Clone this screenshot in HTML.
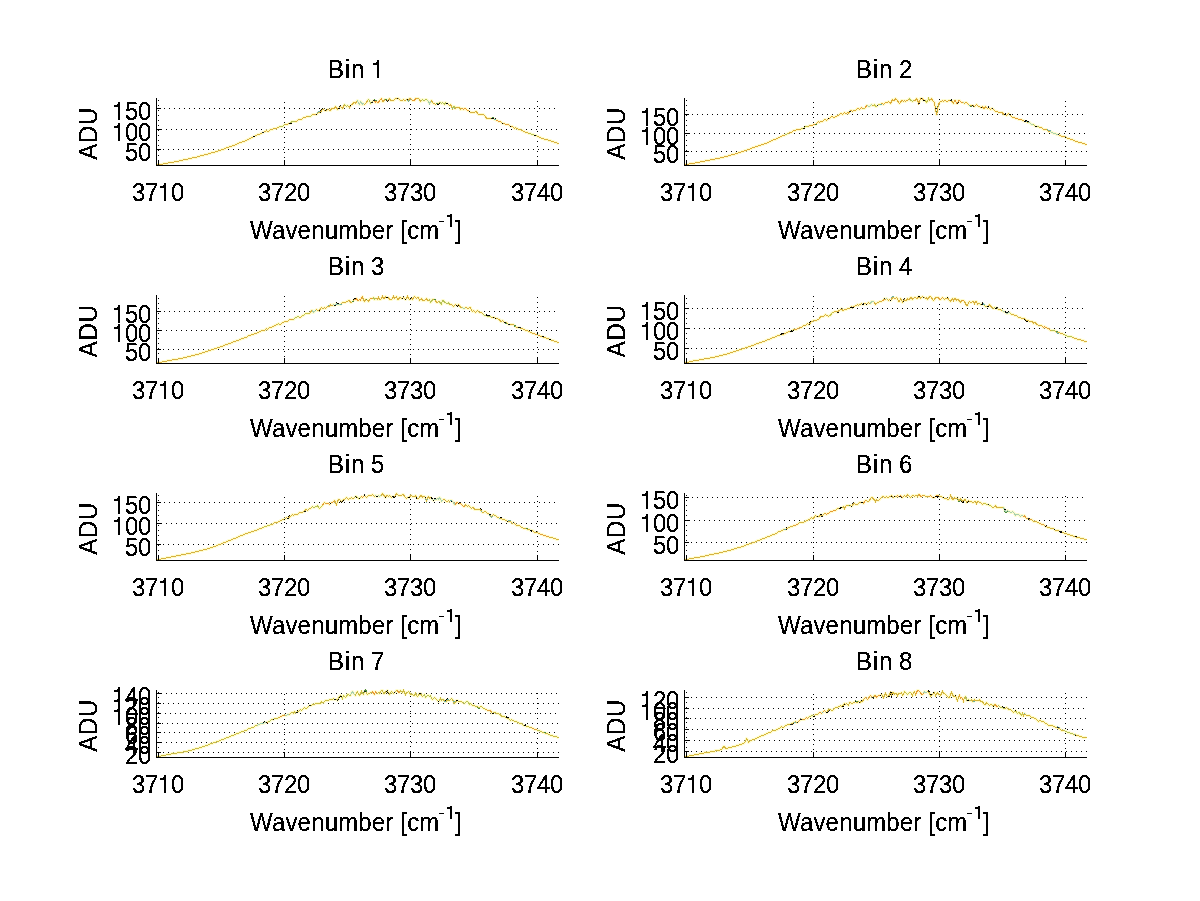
<!DOCTYPE html><html><head><meta charset="utf-8"><title>Bins</title>
<style>html,body{margin:0;padding:0;background:#fff}svg{display:block;will-change:transform}text{font-family:"Liberation Sans",sans-serif;fill:#000;font-size:24px;stroke:#000;stroke-width:.2px}</style></head><body>
<svg width="1200" height="901" viewBox="0 0 1200 901">
<rect width="1200" height="901" fill="#fff"/>
<defs><filter id="th" x="-5%" y="-5%" width="110%" height="110%" color-interpolation-filters="sRGB"><feComponentTransfer><feFuncA type="discrete" tableValues="0 1"/></feComponentTransfer></filter></defs>
<g shape-rendering="crispEdges" stroke="#000" stroke-width="1" stroke-dasharray="1 4" fill="none">
<path d="M158 149.5H559"/>
<path d="M156 129.5H559"/>
<path d="M159 108.5H559"/>
<path d="M158.5 166V99"/>
<path d="M284.5 163V99"/>
<path d="M410.5 165V99"/>
<path d="M537.5 162V99"/>
</g>
<path d="M156.5 164.5 157.5 164.5 158.5 164.5 159.5 164.5 160.5 164.5 161.5 164.5 162.5 164.5 163.5 163.5 164.5 163.5 165.5 163.5 166.5 163.5 167.5 163.5 168.5 162.5 169.5 162.5 170.5 162.5 171.5 162.5 172.5 162.5 173.5 162.5 174.5 161.5 175.5 161.5 176.5 161.5 177.5 161.5 178.5 161.5 179.5 160.5 180.5 160.5 181.5 160.5 182.5 160.5 183.5 159.5 184.5 159.5 185.5 159.5 186.5 159.5 187.5 159.5 188.5 158.5 189.5 158.5 190.5 158.5 191.5 158.5 192.5 157.5 193.5 157.5 194.5 157.5 195.5 157.5 196.5 157.5 197.5 156.5 198.5 156.5 199.5 156.5 200.5 155.5 201.5 155.5 202.5 155.5 203.5 155.5 204.5 154.5 205.5 154.5 206.5 154.5 207.5 154.5 208.5 153.5 209.5 153.5 210.5 153.5 211.5 152.5 212.5 152.5 213.5 152.5 214.5 152.5 215.5 151.5 216.5 151.5 217.5 151.5 218.5 150.5 219.5 150.5 220.5 150.5 221.5 149.5 222.5 149.5 223.5 149.5 224.5 148.5 225.5 148.5 226.5 147.5 227.5 147.5 228.5 147.5 229.5 146.5 230.5 146.5 231.5 146.5 232.5 145.5 233.5 145.5 234.5 145.5 235.5 144.5 236.5 144.5 237.5 143.5 238.5 143.5 239.5 142.5 240.5 142.5 241.5 142.5 242.5 141.5 243.5 141.5 244.5 141.5 245.5 140.5 246.5 140.5 247.5 139.5 248.5 139.5 249.5 138.5 250.5 138.5 251.5 137.5 252.5 137.5 253.5 136.5 254.5 136.5 255.5 135.5 256.5 135.5 257.5 134.5 258.5 134.5 259.5 134.5 260.5 133.5 261.5 133.5 262.5 132.5 263.5 132.5 264.5 131.5 265.5 131.5 266.5 130.5 267.5 131.5 268.5 131.5 269.5 130.5 270.5 129.5 271.5 129.5 272.5 129.5 273.5 128.5 274.5 128.5 275.5 128.5 276.5 128.5 277.5 127.5 278.5 127.5 279.5 126.5 280.5 126.5 281.5 126.5 282.5 126.5 283.5 125.5 284.5 124.5 285.5 124.5 286.5 124.5 287.5 124.5 288.5 123.5 289.5 123.5 290.5 123.5 291.5 121.5 292.5 121.5 293.5 121.5 294.5 121.5 295.5 121.5 296.5 121.5 297.5 120.5 298.5 119.5 299.5 119.5 300.5 119.5 301.5 119.5 302.5 118.5 303.5 117.5 304.5 117.5 305.5 117.5 306.5 116.5 307.5 116.5 308.5 116.5 309.5 116.5 310.5 116.5 311.5 115.5 312.5 114.5 313.5 114.5 314.5 114.5 315.5 114.5 316.5 114.5 317.5 113.5 318.5 112.5 319.5 112.5 320.5 112.5 321.5 110.5 322.5 109.5 323.5 109.5 324.5 110.5 325.5 110.5 326.5 110.5 327.5 109.5 328.5 109.5 329.5 110.5 330.5 110.5 331.5 108.5 332.5 108.5 333.5 108.5 334.5 108.5 335.5 106.5 336.5 107.5 337.5 109.5 338.5 108.5 339.5 107.5 340.5 106.5 341.5 107.5 342.5 108.5 343.5 106.5 344.5 104.5 345.5 105.5 346.5 106.5 347.5 105.5 348.5 106.5 349.5 107.5 350.5 105.5 351.5 104.5 352.5 104.5 353.5 102.5 354.5 102.5 355.5 103.5 356.5 101.5 357.5 100.5 358.5 103.5 359.5 104.5 360.5 101.5 361.5 102.5 362.5 104.5 363.5 103.5 364.5 104.5 365.5 103.5 366.5 102.5 367.5 100.5 368.5 99.5 369.5 100.5 370.5 103.5 371.5 102.5 372.5 101.5 373.5 100.5 374.5 100.5 375.5 102.5 376.5 101.5 377.5 102.5 378.5 102.5 379.5 100.5 380.5 99.5 381.5 98.5 382.5 101.5 383.5 101.5 384.5 99.5 385.5 99.5 386.5 99.5 387.5 100.5 388.5 99.5 389.5 98.5 390.5 100.5 391.5 100.5 392.5 100.5 393.5 100.5 394.5 99.5 395.5 98.5 396.5 98.5 397.5 98.5 398.5 98.5 399.5 99.5 400.5 100.5 401.5 100.5 402.5 100.5 403.5 99.5 404.5 100.5 405.5 100.5 406.5 99.5 407.5 99.5 408.5 100.5 409.5 98.5 410.5 98.5 411.5 99.5 412.5 100.5 413.5 100.5 414.5 100.5 415.5 98.5 416.5 98.5 417.5 98.5 418.5 98.5 419.5 99.5 420.5 101.5 421.5 100.5 422.5 99.5 423.5 100.5 424.5 100.5 425.5 99.5 426.5 99.5 427.5 100.5 428.5 101.5 429.5 103.5 430.5 101.5 431.5 100.5 432.5 102.5 433.5 103.5 434.5 103.5 435.5 104.5 436.5 103.5 437.5 103.5 438.5 103.5 439.5 102.5 440.5 102.5 441.5 103.5 442.5 102.5 443.5 103.5 444.5 104.5 445.5 102.5 446.5 103.5 447.5 103.5 448.5 104.5 449.5 105.5 450.5 104.5 451.5 106.5 452.5 108.5 453.5 106.5 454.5 106.5 455.5 108.5 456.5 107.5 457.5 107.5 458.5 107.5 459.5 107.5 460.5 109.5 461.5 108.5 462.5 108.5 463.5 109.5 464.5 108.5 465.5 108.5 466.5 109.5 467.5 110.5 468.5 110.5 469.5 111.5 470.5 112.5 471.5 112.5 472.5 112.5 473.5 112.5 474.5 112.5 475.5 111.5 476.5 111.5 477.5 113.5 478.5 114.5 479.5 114.5 480.5 114.5 481.5 114.5 482.5 114.5 483.5 114.5 484.5 115.5 485.5 116.5 486.5 118.5 487.5 118.5 488.5 118.5 489.5 118.5 490.5 118.5 491.5 118.5 492.5 118.5 493.5 118.5 494.5 119.5 495.5 119.5 496.5 120.5 497.5 120.5 498.5 121.5 499.5 121.5 500.5 121.5 501.5 122.5 502.5 123.5 503.5 123.5 504.5 123.5 505.5 124.5 506.5 124.5 507.5 124.5 508.5 124.5 509.5 125.5 510.5 126.5 511.5 126.5 512.5 126.5 513.5 127.5 514.5 128.5 515.5 127.5 516.5 128.5 517.5 128.5 518.5 129.5 519.5 129.5 520.5 129.5 521.5 130.5 522.5 130.5 523.5 131.5 524.5 131.5 525.5 132.5 526.5 132.5 527.5 132.5 528.5 133.5 529.5 133.5 530.5 133.5 531.5 134.5 532.5 134.5 533.5 134.5 534.5 135.5 535.5 135.5 536.5 135.5 537.5 136.5 538.5 136.5 539.5 137.5 540.5 137.5 541.5 138.5 542.5 138.5 543.5 138.5 544.5 139.5 545.5 139.5 546.5 139.5 547.5 139.5 548.5 140.5 549.5 140.5 550.5 140.5 551.5 141.5 552.5 141.5 553.5 141.5 554.5 142.5 555.5 142.5 556.5 142.5 557.5 143.5 558.5 143.5" fill="none" stroke="#fffab0" stroke-width="3" stroke-opacity="0.65" stroke-linejoin="round"/>
<g shape-rendering="crispEdges">
<path d="M253.5 136.5 254.5 136.5 255.5 135.5" fill="none" stroke="#4a8a40" stroke-width="1"/>
<path d="M397.5 98.5 398.5 98.5 399.5 99.5" fill="none" stroke="#4a8a40" stroke-width="1"/>
<path d="M469.5 111.5 470.5 112.5 471.5 112.5" fill="none" stroke="#222" stroke-width="1"/>
<path d="M262.5 132.5 263.5 132.5 264.5 131.5" fill="none" stroke="#000" stroke-width="1"/>
<path d="M494.5 118.5 495.5 118.5" fill="none" stroke="#111" stroke-width="1"/>
<path d="M316.5 113.5 317.5 112.5 318.5 111.5 319.5 111.5" fill="none" stroke="#6ab0a8" stroke-width="1"/>
<path d="M436.5 104.5 437.5 104.5 438.5 104.5 439.5 103.5" fill="none" stroke="#000" stroke-width="1"/>
<path d="M452.5 108.5 453.5 106.5 454.5 106.5 455.5 108.5" fill="none" stroke="#222" stroke-width="1"/>
<path d="M338.5 107.5 339.5 106.5 340.5 105.5 341.5 106.5" fill="none" stroke="#222" stroke-width="1"/>
<path d="M289.5 122.5 290.5 122.5" fill="none" stroke="#000" stroke-width="1"/>
<path d="M320.5 111.5 321.5 109.5 322.5 108.5" fill="none" stroke="#111" stroke-width="1"/>
<path d="M446.5 103.5 447.5 103.5 448.5 104.5 449.5 105.5" fill="none" stroke="#111" stroke-width="1"/>
<path d="M491.5 117.5 492.5 117.5 493.5 117.5" fill="none" stroke="#4a8a40" stroke-width="1"/>
<path d="M373.5 99.5 374.5 99.5 375.5 101.5 376.5 100.5" fill="none" stroke="#4a8a40" stroke-width="1"/>
<path d="M492.5 118.5 493.5 118.5 494.5 119.5" fill="none" stroke="#111" stroke-width="1"/>
<path d="M502.5 123.5 503.5 123.5 504.5 123.5" fill="none" stroke="#111" stroke-width="1"/>
<path d="M534.5 135.5 535.5 135.5 536.5 135.5" fill="none" stroke="#000" stroke-width="1"/>
<path d="M350.5 105.5 351.5 104.5 352.5 104.5" fill="none" stroke="#000" stroke-width="1"/>
<path d="M510.5 126.5 511.5 126.5 512.5 126.5 513.5 127.5" fill="none" stroke="#111" stroke-width="1"/>
<path d="M371.5 102.5 372.5 101.5 373.5 100.5" fill="none" stroke="#000" stroke-width="1"/>
<path d="M325.5 109.5 326.5 109.5" fill="none" stroke="#222" stroke-width="1"/>
<path d="M407.5 100.5 408.5 101.5 409.5 99.5 410.5 99.5" fill="none" stroke="#6ab0a8" stroke-width="1"/>
<path d="M290.5 123.5 291.5 121.5" fill="none" stroke="#000" stroke-width="1"/>
<path d="M385.5 100.5 386.5 100.5 387.5 101.5 388.5 100.5" fill="none" stroke="#222" stroke-width="1"/>
<path d="M352.5 104.5 353.5 102.5 354.5 102.5" fill="none" stroke="#6ab0a8" stroke-width="1"/>
<path d="M260.5 133.5 261.5 133.5 262.5 132.5 263.5 132.5" fill="none" stroke="#000" stroke-width="1"/>
<path d="M522.5 130.5 523.5 131.5" fill="none" stroke="#4a8a40" stroke-width="1"/>
<path d="M431.5 100.5 432.5 102.5" fill="none" stroke="#222" stroke-width="1"/>
<path d="M489.5 118.5 490.5 118.5 491.5 118.5 492.5 118.5" fill="none" stroke="#4a8a40" stroke-width="1"/>
<path d="M264.5 131.5 265.5 131.5 266.5 130.5 267.5 131.5" fill="none" stroke="#222" stroke-width="1"/>
</g>
<path d="M156.5 164.5 157.5 164.5 158.5 164.5 159.5 164.5 160.5 164.5 161.5 164.5 162.5 164.5 163.5 163.5 164.5 163.5 165.5 163.5 166.5 163.5 167.5 163.5 168.5 162.5 169.5 162.5 170.5 162.5 171.5 162.5 172.5 162.5 173.5 162.5 174.5 161.5 175.5 161.5 176.5 161.5 177.5 161.5 178.5 161.5 179.5 160.5 180.5 160.5 181.5 160.5 182.5 160.5 183.5 159.5 184.5 159.5 185.5 159.5 186.5 159.5 187.5 159.5 188.5 158.5 189.5 158.5 190.5 158.5 191.5 158.5 192.5 157.5 193.5 157.5 194.5 157.5 195.5 157.5 196.5 157.5 197.5 156.5 198.5 156.5 199.5 156.5 200.5 155.5 201.5 155.5 202.5 155.5 203.5 155.5 204.5 154.5 205.5 154.5 206.5 154.5 207.5 154.5 208.5 153.5 209.5 153.5 210.5 153.5 211.5 152.5 212.5 152.5 213.5 152.5 214.5 152.5 215.5 151.5 216.5 151.5 217.5 151.5 218.5 150.5 219.5 150.5 220.5 150.5 221.5 149.5 222.5 149.5 223.5 149.5 224.5 148.5 225.5 148.5 226.5 147.5 227.5 147.5 228.5 147.5 229.5 146.5 230.5 146.5 231.5 146.5 232.5 145.5 233.5 145.5 234.5 145.5 235.5 144.5 236.5 144.5 237.5 143.5 238.5 143.5 239.5 142.5 240.5 142.5 241.5 142.5 242.5 141.5 243.5 141.5 244.5 141.5 245.5 140.5 246.5 140.5 247.5 139.5 248.5 139.5 249.5 138.5 250.5 138.5 251.5 137.5 252.5 137.5 253.5 136.5 254.5 136.5 255.5 135.5 256.5 135.5 257.5 134.5 258.5 134.5 259.5 134.5 260.5 133.5 261.5 133.5 262.5 132.5 263.5 132.5 264.5 131.5 265.5 131.5 266.5 130.5 267.5 131.5 268.5 131.5 269.5 130.5 270.5 129.5 271.5 129.5 272.5 129.5 273.5 128.5 274.5 128.5 275.5 128.5 276.5 128.5 277.5 127.5 278.5 127.5 279.5 126.5 280.5 126.5 281.5 126.5 282.5 126.5 283.5 125.5 284.5 124.5 285.5 124.5 286.5 124.5 287.5 124.5 288.5 123.5 289.5 123.5 290.5 123.5 291.5 121.5 292.5 121.5 293.5 121.5 294.5 121.5 295.5 121.5 296.5 121.5 297.5 120.5 298.5 119.5 299.5 119.5 300.5 119.5 301.5 119.5 302.5 118.5 303.5 117.5 304.5 117.5 305.5 117.5 306.5 116.5 307.5 116.5 308.5 116.5 309.5 116.5 310.5 116.5 311.5 115.5 312.5 114.5 313.5 114.5 314.5 114.5 315.5 114.5 316.5 114.5 317.5 113.5 318.5 112.5 319.5 112.5 320.5 112.5 321.5 110.5 322.5 109.5 323.5 109.5 324.5 110.5 325.5 110.5 326.5 110.5 327.5 109.5 328.5 109.5 329.5 110.5 330.5 110.5 331.5 108.5 332.5 108.5 333.5 108.5 334.5 108.5 335.5 106.5 336.5 107.5 337.5 109.5 338.5 108.5 339.5 107.5 340.5 106.5 341.5 107.5 342.5 108.5 343.5 106.5 344.5 104.5 345.5 105.5 346.5 106.5 347.5 105.5 348.5 106.5 349.5 107.5 350.5 105.5 351.5 104.5 352.5 104.5 353.5 102.5 354.5 102.5 355.5 103.5 356.5 101.5 357.5 100.5 358.5 103.5 359.5 104.5 360.5 101.5 361.5 102.5 362.5 104.5 363.5 103.5 364.5 104.5 365.5 103.5 366.5 102.5 367.5 100.5 368.5 99.5 369.5 100.5 370.5 103.5 371.5 102.5 372.5 101.5 373.5 100.5 374.5 100.5 375.5 102.5 376.5 101.5 377.5 102.5 378.5 102.5 379.5 100.5 380.5 99.5 381.5 98.5 382.5 101.5 383.5 101.5 384.5 99.5 385.5 99.5 386.5 99.5 387.5 100.5 388.5 99.5 389.5 98.5 390.5 100.5 391.5 100.5 392.5 100.5 393.5 100.5 394.5 99.5 395.5 98.5 396.5 98.5 397.5 98.5 398.5 98.5 399.5 99.5 400.5 100.5 401.5 100.5 402.5 100.5 403.5 99.5 404.5 100.5 405.5 100.5 406.5 99.5 407.5 99.5 408.5 100.5 409.5 98.5 410.5 98.5 411.5 99.5 412.5 100.5 413.5 100.5 414.5 100.5 415.5 98.5 416.5 98.5 417.5 98.5 418.5 98.5 419.5 99.5 420.5 101.5 421.5 100.5 422.5 99.5 423.5 100.5 424.5 100.5 425.5 99.5 426.5 99.5 427.5 100.5 428.5 101.5 429.5 103.5 430.5 101.5 431.5 100.5 432.5 102.5 433.5 103.5 434.5 103.5 435.5 104.5 436.5 103.5 437.5 103.5 438.5 103.5 439.5 102.5 440.5 102.5 441.5 103.5 442.5 102.5 443.5 103.5 444.5 104.5 445.5 102.5 446.5 103.5 447.5 103.5 448.5 104.5 449.5 105.5 450.5 104.5 451.5 106.5 452.5 108.5 453.5 106.5 454.5 106.5 455.5 108.5 456.5 107.5 457.5 107.5 458.5 107.5 459.5 107.5 460.5 109.5 461.5 108.5 462.5 108.5 463.5 109.5 464.5 108.5 465.5 108.5 466.5 109.5 467.5 110.5 468.5 110.5 469.5 111.5 470.5 112.5 471.5 112.5 472.5 112.5 473.5 112.5 474.5 112.5 475.5 111.5 476.5 111.5 477.5 113.5 478.5 114.5 479.5 114.5 480.5 114.5 481.5 114.5 482.5 114.5 483.5 114.5 484.5 115.5 485.5 116.5 486.5 118.5 487.5 118.5 488.5 118.5 489.5 118.5 490.5 118.5 491.5 118.5 492.5 118.5 493.5 118.5 494.5 119.5 495.5 119.5 496.5 120.5 497.5 120.5 498.5 121.5 499.5 121.5 500.5 121.5 501.5 122.5 502.5 123.5 503.5 123.5 504.5 123.5 505.5 124.5 506.5 124.5 507.5 124.5 508.5 124.5 509.5 125.5 510.5 126.5 511.5 126.5 512.5 126.5 513.5 127.5 514.5 128.5 515.5 127.5 516.5 128.5 517.5 128.5 518.5 129.5 519.5 129.5 520.5 129.5 521.5 130.5 522.5 130.5 523.5 131.5 524.5 131.5 525.5 132.5 526.5 132.5 527.5 132.5 528.5 133.5 529.5 133.5 530.5 133.5 531.5 134.5 532.5 134.5 533.5 134.5 534.5 135.5 535.5 135.5 536.5 135.5 537.5 136.5 538.5 136.5 539.5 137.5 540.5 137.5 541.5 138.5 542.5 138.5 543.5 138.5 544.5 139.5 545.5 139.5 546.5 139.5 547.5 139.5 548.5 140.5 549.5 140.5 550.5 140.5 551.5 141.5 552.5 141.5 553.5 141.5 554.5 142.5 555.5 142.5 556.5 142.5 557.5 143.5 558.5 143.5" fill="none" stroke="#d8b040" stroke-width="1" shape-rendering="crispEdges"/>
<path d="M308.5 116.5 309.5 116.5 310.5 116.5 311.5 115.5" fill="none" stroke="#b7c258" stroke-width="1" shape-rendering="crispEdges"/>
<path d="M461.5 108.5 462.5 108.5 463.5 109.5 464.5 108.5 465.5 108.5 466.5 109.5 467.5 110.5 468.5 110.5 469.5 111.5 470.5 112.5" fill="none" stroke="#e89a36" stroke-width="1" shape-rendering="crispEdges"/>
<path d="M503.5 123.5 504.5 123.5 505.5 124.5 506.5 124.5 507.5 124.5 508.5 124.5 509.5 125.5 510.5 126.5 511.5 126.5" fill="none" stroke="#e2a040" stroke-width="1" shape-rendering="crispEdges"/>
<path d="M367.5 100.5 368.5 99.5 369.5 100.5 370.5 103.5 371.5 102.5 372.5 101.5 373.5 100.5 374.5 100.5 375.5 102.5" fill="none" stroke="#b7c258" stroke-width="1" shape-rendering="crispEdges"/>
<path d="M495.5 119.5 496.5 120.5 497.5 120.5 498.5 121.5 499.5 121.5 500.5 121.5 501.5 122.5" fill="none" stroke="#e89a36" stroke-width="1" shape-rendering="crispEdges"/>
<path d="M410.5 98.5 411.5 99.5 412.5 100.5 413.5 100.5 414.5 100.5 415.5 98.5" fill="none" stroke="#e89a36" stroke-width="1" shape-rendering="crispEdges"/>
<path d="M344.5 104.5 345.5 105.5 346.5 106.5 347.5 105.5 348.5 106.5" fill="none" stroke="#b7c258" stroke-width="1" shape-rendering="crispEdges"/>
<path d="M438.5 103.5 439.5 102.5 440.5 102.5 441.5 103.5 442.5 102.5 443.5 103.5 444.5 104.5 445.5 102.5" fill="none" stroke="#b7c258" stroke-width="1" shape-rendering="crispEdges"/>
<path d="M357.5 100.5 358.5 103.5 359.5 104.5 360.5 101.5 361.5 102.5 362.5 104.5 363.5 103.5 364.5 104.5" fill="none" stroke="#a8d0b0" stroke-width="1" shape-rendering="crispEdges"/>
<path d="M528.5 133.5 529.5 133.5 530.5 133.5 531.5 134.5 532.5 134.5 533.5 134.5 534.5 135.5 535.5 135.5 536.5 135.5" fill="none" stroke="#b7c258" stroke-width="1" shape-rendering="crispEdges"/>
<path d="M374.5 100.5 375.5 102.5 376.5 101.5 377.5 102.5 378.5 102.5 379.5 100.5 380.5 99.5 381.5 98.5 382.5 101.5" fill="none" stroke="#e89a36" stroke-width="1" shape-rendering="crispEdges"/>
<path d="M425.5 99.5 426.5 99.5 427.5 100.5 428.5 101.5 429.5 103.5 430.5 101.5" fill="none" stroke="#a8d0b0" stroke-width="1" shape-rendering="crispEdges"/>
<path d="M420.5 101.5 421.5 100.5 422.5 99.5 423.5 100.5 424.5 100.5 425.5 99.5 426.5 99.5 427.5 100.5" fill="none" stroke="#b7c258" stroke-width="1" shape-rendering="crispEdges"/>
<path d="M288.5 123.5 289.5 123.5 290.5 123.5 291.5 121.5 292.5 121.5 293.5 121.5 294.5 121.5" fill="none" stroke="#b7c258" stroke-width="1" shape-rendering="crispEdges"/>
<path d="M278.5 127.5 279.5 126.5 280.5 126.5 281.5 126.5 282.5 126.5 283.5 125.5 284.5 124.5" fill="none" stroke="#b7c258" stroke-width="1" shape-rendering="crispEdges"/>
<path d="M452.5 108.5 453.5 106.5 454.5 106.5 455.5 108.5" fill="none" stroke="#b7c258" stroke-width="1" shape-rendering="crispEdges"/>
<g shape-rendering="crispEdges">
<rect x="253" y="136" width="2" height="1" fill="#000"/>
<rect x="397" y="98" width="1" height="1" fill="#111"/>
<rect x="469" y="111" width="1" height="1" fill="#000"/>
<rect x="262" y="132" width="2" height="1" fill="#222"/>
<rect x="494" y="119" width="2" height="1" fill="#6ab0a8"/>
<rect x="316" y="114" width="1" height="1" fill="#000"/>
<rect x="436" y="103" width="2" height="1" fill="#4a8a40"/>
<rect x="452" y="108" width="1" height="1" fill="#6ab0a8"/>
<rect x="338" y="108" width="2" height="1" fill="#000"/>
<rect x="289" y="123" width="1" height="1" fill="#000"/>
<rect x="320" y="112" width="1" height="1" fill="#000"/>
<rect x="446" y="103" width="2" height="1" fill="#000"/>
<rect x="491" y="118" width="2" height="1" fill="#222"/>
<rect x="373" y="100" width="2" height="1" fill="#222"/>
<rect x="492" y="118" width="2" height="1" fill="#000"/>
<rect x="502" y="123" width="1" height="1" fill="#000"/>
<rect x="534" y="135" width="2" height="1" fill="#000"/>
<rect x="350" y="105" width="1" height="1" fill="#000"/>
<rect x="510" y="126" width="1" height="1" fill="#000"/>
<rect x="371" y="102" width="2" height="1" fill="#222"/>
<rect x="325" y="110" width="1" height="1" fill="#111"/>
<rect x="407" y="99" width="1" height="1" fill="#000"/>
<rect x="290" y="123" width="2" height="1" fill="#000"/>
<rect x="385" y="99" width="2" height="1" fill="#4a8a40"/>
</g>
<g shape-rendering="crispEdges" fill="#000">
<rect x="156" y="98" width="1" height="68"/>
<rect x="156" y="165" width="403" height="1"/>
<rect x="156" y="108" width="5" height="1"/>
<rect x="156" y="129" width="5" height="1"/>
<rect x="156" y="149" width="5" height="1"/>
<rect x="158" y="160" width="1" height="5"/>
<rect x="284" y="160" width="1" height="5"/>
<rect x="410" y="160" width="1" height="5"/>
<rect x="537" y="160" width="1" height="5"/>
</g>
<g shape-rendering="crispEdges" stroke="#000" stroke-width="1" stroke-dasharray="1 4" fill="none">
<path d="M686 151.5H1087"/>
<path d="M684 133.5H1087"/>
<path d="M687 114.5H1087"/>
<path d="M686.5 166V99"/>
<path d="M813.5 163V99"/>
<path d="M939.5 165V99"/>
<path d="M1065.5 162V99"/>
</g>
<path d="M684.5 164.5 685.5 164.5 686.5 164.5 687.5 164.5 688.5 164.5 689.5 163.5 690.5 163.5 691.5 163.5 692.5 163.5 693.5 163.5 694.5 163.5 695.5 162.5 696.5 162.5 697.5 162.5 698.5 162.5 699.5 162.5 700.5 161.5 701.5 161.5 702.5 161.5 703.5 161.5 704.5 161.5 705.5 160.5 706.5 160.5 707.5 160.5 708.5 160.5 709.5 160.5 710.5 159.5 711.5 159.5 712.5 159.5 713.5 159.5 714.5 159.5 715.5 158.5 716.5 158.5 717.5 158.5 718.5 158.5 719.5 158.5 720.5 157.5 721.5 157.5 722.5 157.5 723.5 157.5 724.5 156.5 725.5 156.5 726.5 156.5 727.5 156.5 728.5 155.5 729.5 155.5 730.5 155.5 731.5 154.5 732.5 154.5 733.5 154.5 734.5 154.5 735.5 153.5 736.5 153.5 737.5 153.5 738.5 152.5 739.5 152.5 740.5 152.5 741.5 151.5 742.5 151.5 743.5 151.5 744.5 150.5 745.5 150.5 746.5 150.5 747.5 149.5 748.5 149.5 749.5 149.5 750.5 148.5 751.5 148.5 752.5 147.5 753.5 147.5 754.5 147.5 755.5 146.5 756.5 146.5 757.5 146.5 758.5 145.5 759.5 145.5 760.5 145.5 761.5 144.5 762.5 144.5 763.5 144.5 764.5 143.5 765.5 143.5 766.5 143.5 767.5 142.5 768.5 142.5 769.5 141.5 770.5 141.5 771.5 140.5 772.5 140.5 773.5 139.5 774.5 139.5 775.5 139.5 776.5 138.5 777.5 138.5 778.5 137.5 779.5 137.5 780.5 136.5 781.5 136.5 782.5 135.5 783.5 135.5 784.5 135.5 785.5 134.5 786.5 134.5 787.5 133.5 788.5 133.5 789.5 132.5 790.5 132.5 791.5 132.5 792.5 131.5 793.5 130.5 794.5 130.5 795.5 130.5 796.5 129.5 797.5 129.5 798.5 129.5 799.5 129.5 800.5 129.5 801.5 128.5 802.5 128.5 803.5 128.5 804.5 127.5 805.5 126.5 806.5 126.5 807.5 126.5 808.5 126.5 809.5 125.5 810.5 125.5 811.5 125.5 812.5 125.5 813.5 124.5 814.5 124.5 815.5 124.5 816.5 123.5 817.5 122.5 818.5 121.5 819.5 122.5 820.5 121.5 821.5 121.5 822.5 121.5 823.5 120.5 824.5 119.5 825.5 119.5 826.5 120.5 827.5 119.5 828.5 118.5 829.5 118.5 830.5 117.5 831.5 116.5 832.5 116.5 833.5 117.5 834.5 117.5 835.5 116.5 836.5 116.5 837.5 115.5 838.5 115.5 839.5 114.5 840.5 113.5 841.5 113.5 842.5 114.5 843.5 113.5 844.5 112.5 845.5 113.5 846.5 113.5 847.5 112.5 848.5 113.5 849.5 111.5 850.5 110.5 851.5 110.5 852.5 111.5 853.5 110.5 854.5 110.5 855.5 110.5 856.5 109.5 857.5 108.5 858.5 108.5 859.5 109.5 860.5 108.5 861.5 107.5 862.5 108.5 863.5 108.5 864.5 108.5 865.5 107.5 866.5 105.5 867.5 105.5 868.5 106.5 869.5 106.5 870.5 105.5 871.5 104.5 872.5 105.5 873.5 105.5 874.5 104.5 875.5 106.5 876.5 106.5 877.5 105.5 878.5 104.5 879.5 104.5 880.5 104.5 881.5 103.5 882.5 103.5 883.5 104.5 884.5 103.5 885.5 102.5 886.5 102.5 887.5 102.5 888.5 101.5 889.5 102.5 890.5 103.5 891.5 101.5 892.5 99.5 893.5 100.5 894.5 100.5 895.5 98.5 896.5 99.5 897.5 100.5 898.5 102.5 899.5 103.5 900.5 102.5 901.5 100.5 902.5 100.5 903.5 101.5 904.5 100.5 905.5 101.5 906.5 100.5 907.5 100.5 908.5 99.5 909.5 98.5 910.5 100.5 911.5 100.5 912.5 101.5 913.5 100.5 914.5 100.5 915.5 100.5 916.5 98.5 917.5 99.5 918.5 103.5 919.5 101.5 920.5 98.5 921.5 98.5 922.5 98.5 923.5 100.5 924.5 100.5 925.5 100.5 926.5 102.5 927.5 101.5 928.5 98.5 929.5 100.5 930.5 99.5 931.5 98.5 932.5 100.5 933.5 101.5 934.5 102.5 935.5 108.5 936.5 114.5 937.5 110.5 938.5 104.5 939.5 102.5 940.5 101.5 941.5 101.5 942.5 100.5 943.5 101.5 944.5 100.5 945.5 100.5 946.5 101.5 947.5 101.5 948.5 100.5 949.5 100.5 950.5 100.5 951.5 100.5 952.5 102.5 953.5 103.5 954.5 100.5 955.5 100.5 956.5 103.5 957.5 103.5 958.5 100.5 959.5 100.5 960.5 101.5 961.5 102.5 962.5 102.5 963.5 102.5 964.5 103.5 965.5 102.5 966.5 102.5 967.5 103.5 968.5 104.5 969.5 105.5 970.5 105.5 971.5 105.5 972.5 105.5 973.5 105.5 974.5 106.5 975.5 105.5 976.5 104.5 977.5 105.5 978.5 106.5 979.5 106.5 980.5 107.5 981.5 107.5 982.5 106.5 983.5 108.5 984.5 108.5 985.5 106.5 986.5 107.5 987.5 108.5 988.5 107.5 989.5 108.5 990.5 109.5 991.5 108.5 992.5 108.5 993.5 109.5 994.5 110.5 995.5 111.5 996.5 111.5 997.5 111.5 998.5 112.5 999.5 112.5 1000.5 112.5 1001.5 112.5 1002.5 112.5 1003.5 114.5 1004.5 114.5 1005.5 114.5 1006.5 115.5 1007.5 114.5 1008.5 113.5 1009.5 114.5 1010.5 115.5 1011.5 116.5 1012.5 117.5 1013.5 117.5 1014.5 117.5 1015.5 118.5 1016.5 118.5 1017.5 118.5 1018.5 119.5 1019.5 119.5 1020.5 119.5 1021.5 119.5 1022.5 120.5 1023.5 120.5 1024.5 121.5 1025.5 121.5 1026.5 121.5 1027.5 122.5 1028.5 122.5 1029.5 122.5 1030.5 123.5 1031.5 124.5 1032.5 124.5 1033.5 124.5 1034.5 125.5 1035.5 126.5 1036.5 126.5 1037.5 126.5 1038.5 126.5 1039.5 127.5 1040.5 127.5 1041.5 127.5 1042.5 128.5 1043.5 129.5 1044.5 129.5 1045.5 129.5 1046.5 129.5 1047.5 130.5 1048.5 131.5 1049.5 131.5 1050.5 131.5 1051.5 132.5 1052.5 132.5 1053.5 133.5 1054.5 133.5 1055.5 133.5 1056.5 134.5 1057.5 134.5 1058.5 134.5 1059.5 135.5 1060.5 135.5 1061.5 136.5 1062.5 136.5 1063.5 136.5 1064.5 136.5 1065.5 137.5 1066.5 137.5 1067.5 138.5 1068.5 138.5 1069.5 138.5 1070.5 139.5 1071.5 139.5 1072.5 139.5 1073.5 140.5 1074.5 140.5 1075.5 141.5 1076.5 141.5 1077.5 141.5 1078.5 142.5 1079.5 142.5 1080.5 142.5 1081.5 142.5 1082.5 143.5 1083.5 143.5 1084.5 143.5 1085.5 144.5 1086.5 144.5" fill="none" stroke="#fffab0" stroke-width="3" stroke-opacity="0.65" stroke-linejoin="round"/>
<g shape-rendering="crispEdges">
<path d="M1004.5 113.5 1005.5 113.5" fill="none" stroke="#000" stroke-width="1"/>
<path d="M918.5 103.5 919.5 101.5" fill="none" stroke="#4a8a40" stroke-width="1"/>
<path d="M935.5 107.5 936.5 113.5 937.5 109.5 938.5 103.5" fill="none" stroke="#4a8a40" stroke-width="1"/>
<path d="M992.5 108.5 993.5 109.5 994.5 110.5 995.5 111.5" fill="none" stroke="#4a8a40" stroke-width="1"/>
<path d="M923.5 100.5 924.5 100.5" fill="none" stroke="#222" stroke-width="1"/>
<path d="M988.5 106.5 989.5 107.5" fill="none" stroke="#222" stroke-width="1"/>
<path d="M972.5 106.5 973.5 106.5" fill="none" stroke="#222" stroke-width="1"/>
<path d="M815.5 124.5 816.5 123.5 817.5 122.5 818.5 121.5" fill="none" stroke="#4a8a40" stroke-width="1"/>
<path d="M1024.5 120.5 1025.5 120.5 1026.5 120.5 1027.5 121.5" fill="none" stroke="#000" stroke-width="1"/>
<path d="M849.5 111.5 850.5 110.5" fill="none" stroke="#000" stroke-width="1"/>
<path d="M880.5 105.5 881.5 104.5" fill="none" stroke="#4a8a40" stroke-width="1"/>
<path d="M950.5 99.5 951.5 99.5" fill="none" stroke="#111" stroke-width="1"/>
<path d="M981.5 107.5 982.5 106.5 983.5 108.5 984.5 108.5" fill="none" stroke="#000" stroke-width="1"/>
<path d="M1035.5 126.5 1036.5 126.5 1037.5 126.5 1038.5 126.5" fill="none" stroke="#222" stroke-width="1"/>
<path d="M877.5 105.5 878.5 104.5 879.5 104.5 880.5 104.5" fill="none" stroke="#000" stroke-width="1"/>
<path d="M1026.5 120.5 1027.5 121.5 1028.5 121.5" fill="none" stroke="#000" stroke-width="1"/>
<path d="M1009.5 114.5 1010.5 115.5 1011.5 116.5" fill="none" stroke="#222" stroke-width="1"/>
<path d="M803.5 127.5 804.5 126.5" fill="none" stroke="#000" stroke-width="1"/>
<path d="M969.5 106.5 970.5 106.5 971.5 106.5" fill="none" stroke="#4a8a40" stroke-width="1"/>
<path d="M957.5 104.5 958.5 101.5" fill="none" stroke="#222" stroke-width="1"/>
<path d="M921.5 98.5 922.5 98.5 923.5 100.5" fill="none" stroke="#222" stroke-width="1"/>
<path d="M1058.5 134.5 1059.5 135.5 1060.5 135.5" fill="none" stroke="#000" stroke-width="1"/>
<path d="M1065.5 137.5 1066.5 137.5 1067.5 138.5" fill="none" stroke="#111" stroke-width="1"/>
<path d="M828.5 118.5 829.5 118.5 830.5 117.5" fill="none" stroke="#000" stroke-width="1"/>
<path d="M1030.5 123.5 1031.5 124.5 1032.5 124.5" fill="none" stroke="#000" stroke-width="1"/>
<path d="M1047.5 129.5 1048.5 130.5 1049.5 130.5 1050.5 130.5" fill="none" stroke="#6ab0a8" stroke-width="1"/>
<path d="M926.5 102.5 927.5 101.5 928.5 98.5 929.5 100.5" fill="none" stroke="#000" stroke-width="1"/>
<path d="M965.5 102.5 966.5 102.5" fill="none" stroke="#000" stroke-width="1"/>
<path d="M910.5 100.5 911.5 100.5 912.5 101.5" fill="none" stroke="#6ab0a8" stroke-width="1"/>
<path d="M1018.5 119.5 1019.5 119.5 1020.5 119.5" fill="none" stroke="#111" stroke-width="1"/>
</g>
<path d="M684.5 164.5 685.5 164.5 686.5 164.5 687.5 164.5 688.5 164.5 689.5 163.5 690.5 163.5 691.5 163.5 692.5 163.5 693.5 163.5 694.5 163.5 695.5 162.5 696.5 162.5 697.5 162.5 698.5 162.5 699.5 162.5 700.5 161.5 701.5 161.5 702.5 161.5 703.5 161.5 704.5 161.5 705.5 160.5 706.5 160.5 707.5 160.5 708.5 160.5 709.5 160.5 710.5 159.5 711.5 159.5 712.5 159.5 713.5 159.5 714.5 159.5 715.5 158.5 716.5 158.5 717.5 158.5 718.5 158.5 719.5 158.5 720.5 157.5 721.5 157.5 722.5 157.5 723.5 157.5 724.5 156.5 725.5 156.5 726.5 156.5 727.5 156.5 728.5 155.5 729.5 155.5 730.5 155.5 731.5 154.5 732.5 154.5 733.5 154.5 734.5 154.5 735.5 153.5 736.5 153.5 737.5 153.5 738.5 152.5 739.5 152.5 740.5 152.5 741.5 151.5 742.5 151.5 743.5 151.5 744.5 150.5 745.5 150.5 746.5 150.5 747.5 149.5 748.5 149.5 749.5 149.5 750.5 148.5 751.5 148.5 752.5 147.5 753.5 147.5 754.5 147.5 755.5 146.5 756.5 146.5 757.5 146.5 758.5 145.5 759.5 145.5 760.5 145.5 761.5 144.5 762.5 144.5 763.5 144.5 764.5 143.5 765.5 143.5 766.5 143.5 767.5 142.5 768.5 142.5 769.5 141.5 770.5 141.5 771.5 140.5 772.5 140.5 773.5 139.5 774.5 139.5 775.5 139.5 776.5 138.5 777.5 138.5 778.5 137.5 779.5 137.5 780.5 136.5 781.5 136.5 782.5 135.5 783.5 135.5 784.5 135.5 785.5 134.5 786.5 134.5 787.5 133.5 788.5 133.5 789.5 132.5 790.5 132.5 791.5 132.5 792.5 131.5 793.5 130.5 794.5 130.5 795.5 130.5 796.5 129.5 797.5 129.5 798.5 129.5 799.5 129.5 800.5 129.5 801.5 128.5 802.5 128.5 803.5 128.5 804.5 127.5 805.5 126.5 806.5 126.5 807.5 126.5 808.5 126.5 809.5 125.5 810.5 125.5 811.5 125.5 812.5 125.5 813.5 124.5 814.5 124.5 815.5 124.5 816.5 123.5 817.5 122.5 818.5 121.5 819.5 122.5 820.5 121.5 821.5 121.5 822.5 121.5 823.5 120.5 824.5 119.5 825.5 119.5 826.5 120.5 827.5 119.5 828.5 118.5 829.5 118.5 830.5 117.5 831.5 116.5 832.5 116.5 833.5 117.5 834.5 117.5 835.5 116.5 836.5 116.5 837.5 115.5 838.5 115.5 839.5 114.5 840.5 113.5 841.5 113.5 842.5 114.5 843.5 113.5 844.5 112.5 845.5 113.5 846.5 113.5 847.5 112.5 848.5 113.5 849.5 111.5 850.5 110.5 851.5 110.5 852.5 111.5 853.5 110.5 854.5 110.5 855.5 110.5 856.5 109.5 857.5 108.5 858.5 108.5 859.5 109.5 860.5 108.5 861.5 107.5 862.5 108.5 863.5 108.5 864.5 108.5 865.5 107.5 866.5 105.5 867.5 105.5 868.5 106.5 869.5 106.5 870.5 105.5 871.5 104.5 872.5 105.5 873.5 105.5 874.5 104.5 875.5 106.5 876.5 106.5 877.5 105.5 878.5 104.5 879.5 104.5 880.5 104.5 881.5 103.5 882.5 103.5 883.5 104.5 884.5 103.5 885.5 102.5 886.5 102.5 887.5 102.5 888.5 101.5 889.5 102.5 890.5 103.5 891.5 101.5 892.5 99.5 893.5 100.5 894.5 100.5 895.5 98.5 896.5 99.5 897.5 100.5 898.5 102.5 899.5 103.5 900.5 102.5 901.5 100.5 902.5 100.5 903.5 101.5 904.5 100.5 905.5 101.5 906.5 100.5 907.5 100.5 908.5 99.5 909.5 98.5 910.5 100.5 911.5 100.5 912.5 101.5 913.5 100.5 914.5 100.5 915.5 100.5 916.5 98.5 917.5 99.5 918.5 103.5 919.5 101.5 920.5 98.5 921.5 98.5 922.5 98.5 923.5 100.5 924.5 100.5 925.5 100.5 926.5 102.5 927.5 101.5 928.5 98.5 929.5 100.5 930.5 99.5 931.5 98.5 932.5 100.5 933.5 101.5 934.5 102.5 935.5 108.5 936.5 114.5 937.5 110.5 938.5 104.5 939.5 102.5 940.5 101.5 941.5 101.5 942.5 100.5 943.5 101.5 944.5 100.5 945.5 100.5 946.5 101.5 947.5 101.5 948.5 100.5 949.5 100.5 950.5 100.5 951.5 100.5 952.5 102.5 953.5 103.5 954.5 100.5 955.5 100.5 956.5 103.5 957.5 103.5 958.5 100.5 959.5 100.5 960.5 101.5 961.5 102.5 962.5 102.5 963.5 102.5 964.5 103.5 965.5 102.5 966.5 102.5 967.5 103.5 968.5 104.5 969.5 105.5 970.5 105.5 971.5 105.5 972.5 105.5 973.5 105.5 974.5 106.5 975.5 105.5 976.5 104.5 977.5 105.5 978.5 106.5 979.5 106.5 980.5 107.5 981.5 107.5 982.5 106.5 983.5 108.5 984.5 108.5 985.5 106.5 986.5 107.5 987.5 108.5 988.5 107.5 989.5 108.5 990.5 109.5 991.5 108.5 992.5 108.5 993.5 109.5 994.5 110.5 995.5 111.5 996.5 111.5 997.5 111.5 998.5 112.5 999.5 112.5 1000.5 112.5 1001.5 112.5 1002.5 112.5 1003.5 114.5 1004.5 114.5 1005.5 114.5 1006.5 115.5 1007.5 114.5 1008.5 113.5 1009.5 114.5 1010.5 115.5 1011.5 116.5 1012.5 117.5 1013.5 117.5 1014.5 117.5 1015.5 118.5 1016.5 118.5 1017.5 118.5 1018.5 119.5 1019.5 119.5 1020.5 119.5 1021.5 119.5 1022.5 120.5 1023.5 120.5 1024.5 121.5 1025.5 121.5 1026.5 121.5 1027.5 122.5 1028.5 122.5 1029.5 122.5 1030.5 123.5 1031.5 124.5 1032.5 124.5 1033.5 124.5 1034.5 125.5 1035.5 126.5 1036.5 126.5 1037.5 126.5 1038.5 126.5 1039.5 127.5 1040.5 127.5 1041.5 127.5 1042.5 128.5 1043.5 129.5 1044.5 129.5 1045.5 129.5 1046.5 129.5 1047.5 130.5 1048.5 131.5 1049.5 131.5 1050.5 131.5 1051.5 132.5 1052.5 132.5 1053.5 133.5 1054.5 133.5 1055.5 133.5 1056.5 134.5 1057.5 134.5 1058.5 134.5 1059.5 135.5 1060.5 135.5 1061.5 136.5 1062.5 136.5 1063.5 136.5 1064.5 136.5 1065.5 137.5 1066.5 137.5 1067.5 138.5 1068.5 138.5 1069.5 138.5 1070.5 139.5 1071.5 139.5 1072.5 139.5 1073.5 140.5 1074.5 140.5 1075.5 141.5 1076.5 141.5 1077.5 141.5 1078.5 142.5 1079.5 142.5 1080.5 142.5 1081.5 142.5 1082.5 143.5 1083.5 143.5 1084.5 143.5 1085.5 144.5 1086.5 144.5" fill="none" stroke="#dcaa3a" stroke-width="1" shape-rendering="crispEdges"/>
<path d="M1027.5 122.5 1028.5 122.5 1029.5 122.5 1030.5 123.5 1031.5 124.5 1032.5 124.5 1033.5 124.5 1034.5 125.5 1035.5 126.5 1036.5 126.5" fill="none" stroke="#a8d0b0" stroke-width="1" shape-rendering="crispEdges"/>
<path d="M811.5 125.5 812.5 125.5 813.5 124.5 814.5 124.5 815.5 124.5 816.5 123.5" fill="none" stroke="#e89a36" stroke-width="1" shape-rendering="crispEdges"/>
<path d="M826.5 120.5 827.5 119.5 828.5 118.5 829.5 118.5" fill="none" stroke="#e2a040" stroke-width="1" shape-rendering="crispEdges"/>
<path d="M872.5 105.5 873.5 105.5 874.5 104.5 875.5 106.5 876.5 106.5 877.5 105.5 878.5 104.5 879.5 104.5 880.5 104.5" fill="none" stroke="#c9c64e" stroke-width="1" shape-rendering="crispEdges"/>
<path d="M957.5 103.5 958.5 100.5 959.5 100.5 960.5 101.5 961.5 102.5 962.5 102.5 963.5 102.5 964.5 103.5" fill="none" stroke="#a8d0b0" stroke-width="1" shape-rendering="crispEdges"/>
<path d="M1014.5 117.5 1015.5 118.5 1016.5 118.5 1017.5 118.5 1018.5 119.5 1019.5 119.5 1020.5 119.5 1021.5 119.5 1022.5 120.5" fill="none" stroke="#e89a36" stroke-width="1" shape-rendering="crispEdges"/>
<path d="M800.5 129.5 801.5 128.5 802.5 128.5 803.5 128.5 804.5 127.5 805.5 126.5 806.5 126.5 807.5 126.5" fill="none" stroke="#c9c64e" stroke-width="1" shape-rendering="crispEdges"/>
<path d="M859.5 109.5 860.5 108.5 861.5 107.5 862.5 108.5 863.5 108.5 864.5 108.5 865.5 107.5 866.5 105.5 867.5 105.5" fill="none" stroke="#e89a36" stroke-width="1" shape-rendering="crispEdges"/>
<path d="M1033.5 124.5 1034.5 125.5 1035.5 126.5 1036.5 126.5 1037.5 126.5 1038.5 126.5" fill="none" stroke="#b7c258" stroke-width="1" shape-rendering="crispEdges"/>
<path d="M908.5 99.5 909.5 98.5 910.5 100.5 911.5 100.5 912.5 101.5 913.5 100.5" fill="none" stroke="#b7c258" stroke-width="1" shape-rendering="crispEdges"/>
<path d="M866.5 105.5 867.5 105.5 868.5 106.5 869.5 106.5 870.5 105.5 871.5 104.5 872.5 105.5" fill="none" stroke="#a8d0b0" stroke-width="1" shape-rendering="crispEdges"/>
<path d="M955.5 100.5 956.5 103.5 957.5 103.5 958.5 100.5 959.5 100.5 960.5 101.5 961.5 102.5 962.5 102.5" fill="none" stroke="#e89a36" stroke-width="1" shape-rendering="crispEdges"/>
<path d="M862.5 108.5 863.5 108.5 864.5 108.5" fill="none" stroke="#c9c64e" stroke-width="1" shape-rendering="crispEdges"/>
<path d="M1049.5 131.5 1050.5 131.5 1051.5 132.5 1052.5 132.5 1053.5 133.5 1054.5 133.5 1055.5 133.5 1056.5 134.5 1057.5 134.5 1058.5 134.5" fill="none" stroke="#a8d0b0" stroke-width="1" shape-rendering="crispEdges"/>
<path d="M784.5 135.5 785.5 134.5 786.5 134.5 787.5 133.5" fill="none" stroke="#b7c258" stroke-width="1" shape-rendering="crispEdges"/>
<path d="M925.5 100.5 926.5 102.5 927.5 101.5 928.5 98.5 929.5 100.5" fill="none" stroke="#c9c64e" stroke-width="1" shape-rendering="crispEdges"/>
<g shape-rendering="crispEdges">
<rect x="1004" y="114" width="2" height="1" fill="#000"/>
<rect x="918" y="103" width="2" height="1" fill="#222"/>
<rect x="935" y="108" width="2" height="1" fill="#222"/>
<rect x="992" y="108" width="1" height="1" fill="#111"/>
<rect x="923" y="100" width="2" height="1" fill="#000"/>
<rect x="988" y="107" width="1" height="1" fill="#000"/>
<rect x="972" y="105" width="1" height="1" fill="#111"/>
<rect x="815" y="124" width="2" height="1" fill="#4a8a40"/>
<rect x="1024" y="121" width="2" height="1" fill="#000"/>
<rect x="849" y="111" width="2" height="1" fill="#222"/>
<rect x="880" y="104" width="2" height="1" fill="#6ab0a8"/>
<rect x="950" y="100" width="2" height="1" fill="#222"/>
<rect x="981" y="107" width="1" height="1" fill="#000"/>
<rect x="1035" y="126" width="2" height="1" fill="#000"/>
<rect x="877" y="105" width="1" height="1" fill="#222"/>
<rect x="1026" y="121" width="1" height="1" fill="#6ab0a8"/>
<rect x="1009" y="114" width="2" height="1" fill="#000"/>
<rect x="803" y="128" width="2" height="1" fill="#000"/>
<rect x="969" y="105" width="1" height="1" fill="#6ab0a8"/>
<rect x="957" y="103" width="1" height="1" fill="#222"/>
<rect x="921" y="98" width="1" height="1" fill="#000"/>
<rect x="1058" y="134" width="1" height="1" fill="#222"/>
<rect x="1065" y="137" width="1" height="1" fill="#000"/>
<rect x="828" y="118" width="1" height="1" fill="#000"/>
</g>
<g shape-rendering="crispEdges" fill="#000">
<rect x="684" y="98" width="1" height="68"/>
<rect x="684" y="165" width="403" height="1"/>
<rect x="684" y="114" width="5" height="1"/>
<rect x="684" y="133" width="5" height="1"/>
<rect x="684" y="151" width="5" height="1"/>
<rect x="686" y="160" width="1" height="5"/>
<rect x="813" y="160" width="1" height="5"/>
<rect x="939" y="160" width="1" height="5"/>
<rect x="1065" y="160" width="1" height="5"/>
</g>
<g shape-rendering="crispEdges" stroke="#000" stroke-width="1" stroke-dasharray="1 4" fill="none">
<path d="M158 349.5H559"/>
<path d="M156 330.5H559"/>
<path d="M159 311.5H559"/>
<path d="M158.5 364V296"/>
<path d="M284.5 362V296"/>
<path d="M410.5 360V296"/>
<path d="M537.5 363V296"/>
</g>
<path d="M156.5 362.5 157.5 362.5 158.5 362.5 159.5 362.5 160.5 362.5 161.5 362.5 162.5 361.5 163.5 361.5 164.5 361.5 165.5 361.5 166.5 361.5 167.5 360.5 168.5 360.5 169.5 360.5 170.5 360.5 171.5 360.5 172.5 359.5 173.5 359.5 174.5 359.5 175.5 359.5 176.5 359.5 177.5 359.5 178.5 358.5 179.5 358.5 180.5 358.5 181.5 358.5 182.5 358.5 183.5 357.5 184.5 357.5 185.5 357.5 186.5 357.5 187.5 356.5 188.5 356.5 189.5 356.5 190.5 356.5 191.5 355.5 192.5 355.5 193.5 355.5 194.5 355.5 195.5 354.5 196.5 354.5 197.5 354.5 198.5 354.5 199.5 353.5 200.5 353.5 201.5 353.5 202.5 352.5 203.5 352.5 204.5 352.5 205.5 351.5 206.5 351.5 207.5 351.5 208.5 350.5 209.5 350.5 210.5 350.5 211.5 349.5 212.5 349.5 213.5 349.5 214.5 348.5 215.5 348.5 216.5 348.5 217.5 347.5 218.5 347.5 219.5 347.5 220.5 346.5 221.5 346.5 222.5 346.5 223.5 345.5 224.5 345.5 225.5 344.5 226.5 344.5 227.5 344.5 228.5 343.5 229.5 343.5 230.5 343.5 231.5 342.5 232.5 342.5 233.5 341.5 234.5 341.5 235.5 341.5 236.5 340.5 237.5 340.5 238.5 340.5 239.5 339.5 240.5 339.5 241.5 338.5 242.5 338.5 243.5 338.5 244.5 337.5 245.5 337.5 246.5 337.5 247.5 336.5 248.5 335.5 249.5 335.5 250.5 335.5 251.5 334.5 252.5 334.5 253.5 334.5 254.5 333.5 255.5 333.5 256.5 333.5 257.5 332.5 258.5 332.5 259.5 331.5 260.5 331.5 261.5 330.5 262.5 330.5 263.5 330.5 264.5 330.5 265.5 329.5 266.5 328.5 267.5 329.5 268.5 328.5 269.5 327.5 270.5 327.5 271.5 327.5 272.5 326.5 273.5 326.5 274.5 325.5 275.5 325.5 276.5 324.5 277.5 324.5 278.5 323.5 279.5 324.5 280.5 324.5 281.5 323.5 282.5 322.5 283.5 322.5 284.5 321.5 285.5 321.5 286.5 321.5 287.5 321.5 288.5 320.5 289.5 319.5 290.5 319.5 291.5 319.5 292.5 319.5 293.5 319.5 294.5 318.5 295.5 317.5 296.5 317.5 297.5 316.5 298.5 316.5 299.5 317.5 300.5 317.5 301.5 316.5 302.5 315.5 303.5 315.5 304.5 314.5 305.5 313.5 306.5 313.5 307.5 313.5 308.5 313.5 309.5 313.5 310.5 312.5 311.5 310.5 312.5 310.5 313.5 312.5 314.5 311.5 315.5 310.5 316.5 309.5 317.5 310.5 318.5 310.5 319.5 310.5 320.5 308.5 321.5 307.5 322.5 308.5 323.5 308.5 324.5 307.5 325.5 308.5 326.5 307.5 327.5 306.5 328.5 306.5 329.5 306.5 330.5 304.5 331.5 305.5 332.5 305.5 333.5 304.5 334.5 305.5 335.5 304.5 336.5 303.5 337.5 304.5 338.5 304.5 339.5 304.5 340.5 304.5 341.5 303.5 342.5 302.5 343.5 302.5 344.5 302.5 345.5 302.5 346.5 301.5 347.5 301.5 348.5 300.5 349.5 300.5 350.5 302.5 351.5 302.5 352.5 301.5 353.5 300.5 354.5 299.5 355.5 299.5 356.5 298.5 357.5 300.5 358.5 300.5 359.5 299.5 360.5 300.5 361.5 297.5 362.5 296.5 363.5 300.5 364.5 301.5 365.5 299.5 366.5 299.5 367.5 300.5 368.5 301.5 369.5 299.5 370.5 298.5 371.5 298.5 372.5 298.5 373.5 297.5 374.5 299.5 375.5 298.5 376.5 298.5 377.5 299.5 378.5 297.5 379.5 299.5 380.5 299.5 381.5 298.5 382.5 296.5 383.5 298.5 384.5 298.5 385.5 296.5 386.5 297.5 387.5 297.5 388.5 297.5 389.5 299.5 390.5 299.5 391.5 299.5 392.5 298.5 393.5 296.5 394.5 298.5 395.5 297.5 396.5 296.5 397.5 299.5 398.5 299.5 399.5 297.5 400.5 297.5 401.5 298.5 402.5 298.5 403.5 297.5 404.5 298.5 405.5 299.5 406.5 298.5 407.5 296.5 408.5 298.5 409.5 299.5 410.5 298.5 411.5 298.5 412.5 299.5 413.5 297.5 414.5 296.5 415.5 297.5 416.5 298.5 417.5 297.5 418.5 297.5 419.5 300.5 420.5 299.5 421.5 298.5 422.5 300.5 423.5 300.5 424.5 300.5 425.5 299.5 426.5 298.5 427.5 300.5 428.5 300.5 429.5 299.5 430.5 302.5 431.5 301.5 432.5 299.5 433.5 299.5 434.5 299.5 435.5 300.5 436.5 302.5 437.5 302.5 438.5 301.5 439.5 301.5 440.5 303.5 441.5 304.5 442.5 300.5 443.5 300.5 444.5 302.5 445.5 302.5 446.5 303.5 447.5 303.5 448.5 302.5 449.5 304.5 450.5 304.5 451.5 304.5 452.5 305.5 453.5 306.5 454.5 305.5 455.5 304.5 456.5 305.5 457.5 305.5 458.5 304.5 459.5 305.5 460.5 307.5 461.5 307.5 462.5 307.5 463.5 308.5 464.5 308.5 465.5 307.5 466.5 307.5 467.5 308.5 468.5 308.5 469.5 307.5 470.5 307.5 471.5 310.5 472.5 311.5 473.5 310.5 474.5 311.5 475.5 312.5 476.5 311.5 477.5 310.5 478.5 311.5 479.5 312.5 480.5 312.5 481.5 312.5 482.5 313.5 483.5 314.5 484.5 315.5 485.5 315.5 486.5 315.5 487.5 316.5 488.5 316.5 489.5 316.5 490.5 316.5 491.5 317.5 492.5 317.5 493.5 317.5 494.5 317.5 495.5 318.5 496.5 318.5 497.5 318.5 498.5 319.5 499.5 319.5 500.5 321.5 501.5 321.5 502.5 320.5 503.5 321.5 504.5 322.5 505.5 322.5 506.5 322.5 507.5 323.5 508.5 324.5 509.5 324.5 510.5 324.5 511.5 324.5 512.5 324.5 513.5 324.5 514.5 325.5 515.5 326.5 516.5 327.5 517.5 327.5 518.5 327.5 519.5 327.5 520.5 328.5 521.5 328.5 522.5 328.5 523.5 329.5 524.5 329.5 525.5 330.5 526.5 330.5 527.5 330.5 528.5 331.5 529.5 331.5 530.5 332.5 531.5 332.5 532.5 333.5 533.5 333.5 534.5 333.5 535.5 334.5 536.5 334.5 537.5 334.5 538.5 335.5 539.5 335.5 540.5 336.5 541.5 336.5 542.5 336.5 543.5 337.5 544.5 337.5 545.5 337.5 546.5 338.5 547.5 338.5 548.5 338.5 549.5 339.5 550.5 339.5 551.5 340.5 552.5 340.5 553.5 340.5 554.5 341.5 555.5 341.5 556.5 341.5 557.5 342.5 558.5 342.5" fill="none" stroke="#fffab0" stroke-width="3" stroke-opacity="0.65" stroke-linejoin="round"/>
<g shape-rendering="crispEdges">
<path d="M514.5 326.5 515.5 327.5" fill="none" stroke="#4a8a40" stroke-width="1"/>
<path d="M334.5 306.5 335.5 305.5 336.5 304.5 337.5 305.5" fill="none" stroke="#6ab0a8" stroke-width="1"/>
<path d="M410.5 297.5 411.5 297.5" fill="none" stroke="#222" stroke-width="1"/>
<path d="M508.5 324.5 509.5 324.5" fill="none" stroke="#111" stroke-width="1"/>
<path d="M340.5 304.5 341.5 303.5" fill="none" stroke="#6ab0a8" stroke-width="1"/>
<path d="M519.5 327.5 520.5 328.5" fill="none" stroke="#000" stroke-width="1"/>
<path d="M486.5 314.5 487.5 315.5 488.5 315.5 489.5 315.5" fill="none" stroke="#000" stroke-width="1"/>
<path d="M456.5 306.5 457.5 306.5 458.5 305.5" fill="none" stroke="#000" stroke-width="1"/>
<path d="M504.5 323.5 505.5 323.5 506.5 323.5" fill="none" stroke="#4a8a40" stroke-width="1"/>
<path d="M509.5 324.5 510.5 324.5" fill="none" stroke="#000" stroke-width="1"/>
<path d="M493.5 317.5 494.5 317.5" fill="none" stroke="#4a8a40" stroke-width="1"/>
<path d="M405.5 299.5 406.5 298.5" fill="none" stroke="#000" stroke-width="1"/>
<path d="M402.5 297.5 403.5 296.5" fill="none" stroke="#222" stroke-width="1"/>
<path d="M542.5 336.5 543.5 337.5" fill="none" stroke="#222" stroke-width="1"/>
<path d="M352.5 300.5 353.5 299.5 354.5 298.5 355.5 298.5" fill="none" stroke="#000" stroke-width="1"/>
<path d="M315.5 310.5 316.5 309.5 317.5 310.5 318.5 310.5" fill="none" stroke="#4a8a40" stroke-width="1"/>
<path d="M319.5 310.5 320.5 308.5 321.5 307.5" fill="none" stroke="#000" stroke-width="1"/>
<path d="M366.5 299.5 367.5 300.5 368.5 301.5" fill="none" stroke="#4a8a40" stroke-width="1"/>
<path d="M518.5 327.5 519.5 327.5" fill="none" stroke="#222" stroke-width="1"/>
<path d="M434.5 299.5 435.5 300.5" fill="none" stroke="#4a8a40" stroke-width="1"/>
<path d="M537.5 333.5 538.5 334.5" fill="none" stroke="#000" stroke-width="1"/>
<path d="M549.5 339.5 550.5 339.5 551.5 340.5" fill="none" stroke="#4a8a40" stroke-width="1"/>
<path d="M386.5 297.5 387.5 297.5 388.5 297.5" fill="none" stroke="#222" stroke-width="1"/>
<path d="M495.5 318.5 496.5 318.5 497.5 318.5" fill="none" stroke="#000" stroke-width="1"/>
<path d="M303.5 315.5 304.5 314.5" fill="none" stroke="#222" stroke-width="1"/>
<path d="M481.5 312.5 482.5 313.5 483.5 314.5" fill="none" stroke="#222" stroke-width="1"/>
<path d="M344.5 302.5 345.5 302.5 346.5 301.5" fill="none" stroke="#000" stroke-width="1"/>
<path d="M336.5 302.5 337.5 303.5 338.5 303.5" fill="none" stroke="#000" stroke-width="1"/>
<path d="M327.5 305.5 328.5 305.5 329.5 305.5" fill="none" stroke="#6ab0a8" stroke-width="1"/>
<path d="M528.5 330.5 529.5 330.5" fill="none" stroke="#111" stroke-width="1"/>
</g>
<path d="M156.5 362.5 157.5 362.5 158.5 362.5 159.5 362.5 160.5 362.5 161.5 362.5 162.5 361.5 163.5 361.5 164.5 361.5 165.5 361.5 166.5 361.5 167.5 360.5 168.5 360.5 169.5 360.5 170.5 360.5 171.5 360.5 172.5 359.5 173.5 359.5 174.5 359.5 175.5 359.5 176.5 359.5 177.5 359.5 178.5 358.5 179.5 358.5 180.5 358.5 181.5 358.5 182.5 358.5 183.5 357.5 184.5 357.5 185.5 357.5 186.5 357.5 187.5 356.5 188.5 356.5 189.5 356.5 190.5 356.5 191.5 355.5 192.5 355.5 193.5 355.5 194.5 355.5 195.5 354.5 196.5 354.5 197.5 354.5 198.5 354.5 199.5 353.5 200.5 353.5 201.5 353.5 202.5 352.5 203.5 352.5 204.5 352.5 205.5 351.5 206.5 351.5 207.5 351.5 208.5 350.5 209.5 350.5 210.5 350.5 211.5 349.5 212.5 349.5 213.5 349.5 214.5 348.5 215.5 348.5 216.5 348.5 217.5 347.5 218.5 347.5 219.5 347.5 220.5 346.5 221.5 346.5 222.5 346.5 223.5 345.5 224.5 345.5 225.5 344.5 226.5 344.5 227.5 344.5 228.5 343.5 229.5 343.5 230.5 343.5 231.5 342.5 232.5 342.5 233.5 341.5 234.5 341.5 235.5 341.5 236.5 340.5 237.5 340.5 238.5 340.5 239.5 339.5 240.5 339.5 241.5 338.5 242.5 338.5 243.5 338.5 244.5 337.5 245.5 337.5 246.5 337.5 247.5 336.5 248.5 335.5 249.5 335.5 250.5 335.5 251.5 334.5 252.5 334.5 253.5 334.5 254.5 333.5 255.5 333.5 256.5 333.5 257.5 332.5 258.5 332.5 259.5 331.5 260.5 331.5 261.5 330.5 262.5 330.5 263.5 330.5 264.5 330.5 265.5 329.5 266.5 328.5 267.5 329.5 268.5 328.5 269.5 327.5 270.5 327.5 271.5 327.5 272.5 326.5 273.5 326.5 274.5 325.5 275.5 325.5 276.5 324.5 277.5 324.5 278.5 323.5 279.5 324.5 280.5 324.5 281.5 323.5 282.5 322.5 283.5 322.5 284.5 321.5 285.5 321.5 286.5 321.5 287.5 321.5 288.5 320.5 289.5 319.5 290.5 319.5 291.5 319.5 292.5 319.5 293.5 319.5 294.5 318.5 295.5 317.5 296.5 317.5 297.5 316.5 298.5 316.5 299.5 317.5 300.5 317.5 301.5 316.5 302.5 315.5 303.5 315.5 304.5 314.5 305.5 313.5 306.5 313.5 307.5 313.5 308.5 313.5 309.5 313.5 310.5 312.5 311.5 310.5 312.5 310.5 313.5 312.5 314.5 311.5 315.5 310.5 316.5 309.5 317.5 310.5 318.5 310.5 319.5 310.5 320.5 308.5 321.5 307.5 322.5 308.5 323.5 308.5 324.5 307.5 325.5 308.5 326.5 307.5 327.5 306.5 328.5 306.5 329.5 306.5 330.5 304.5 331.5 305.5 332.5 305.5 333.5 304.5 334.5 305.5 335.5 304.5 336.5 303.5 337.5 304.5 338.5 304.5 339.5 304.5 340.5 304.5 341.5 303.5 342.5 302.5 343.5 302.5 344.5 302.5 345.5 302.5 346.5 301.5 347.5 301.5 348.5 300.5 349.5 300.5 350.5 302.5 351.5 302.5 352.5 301.5 353.5 300.5 354.5 299.5 355.5 299.5 356.5 298.5 357.5 300.5 358.5 300.5 359.5 299.5 360.5 300.5 361.5 297.5 362.5 296.5 363.5 300.5 364.5 301.5 365.5 299.5 366.5 299.5 367.5 300.5 368.5 301.5 369.5 299.5 370.5 298.5 371.5 298.5 372.5 298.5 373.5 297.5 374.5 299.5 375.5 298.5 376.5 298.5 377.5 299.5 378.5 297.5 379.5 299.5 380.5 299.5 381.5 298.5 382.5 296.5 383.5 298.5 384.5 298.5 385.5 296.5 386.5 297.5 387.5 297.5 388.5 297.5 389.5 299.5 390.5 299.5 391.5 299.5 392.5 298.5 393.5 296.5 394.5 298.5 395.5 297.5 396.5 296.5 397.5 299.5 398.5 299.5 399.5 297.5 400.5 297.5 401.5 298.5 402.5 298.5 403.5 297.5 404.5 298.5 405.5 299.5 406.5 298.5 407.5 296.5 408.5 298.5 409.5 299.5 410.5 298.5 411.5 298.5 412.5 299.5 413.5 297.5 414.5 296.5 415.5 297.5 416.5 298.5 417.5 297.5 418.5 297.5 419.5 300.5 420.5 299.5 421.5 298.5 422.5 300.5 423.5 300.5 424.5 300.5 425.5 299.5 426.5 298.5 427.5 300.5 428.5 300.5 429.5 299.5 430.5 302.5 431.5 301.5 432.5 299.5 433.5 299.5 434.5 299.5 435.5 300.5 436.5 302.5 437.5 302.5 438.5 301.5 439.5 301.5 440.5 303.5 441.5 304.5 442.5 300.5 443.5 300.5 444.5 302.5 445.5 302.5 446.5 303.5 447.5 303.5 448.5 302.5 449.5 304.5 450.5 304.5 451.5 304.5 452.5 305.5 453.5 306.5 454.5 305.5 455.5 304.5 456.5 305.5 457.5 305.5 458.5 304.5 459.5 305.5 460.5 307.5 461.5 307.5 462.5 307.5 463.5 308.5 464.5 308.5 465.5 307.5 466.5 307.5 467.5 308.5 468.5 308.5 469.5 307.5 470.5 307.5 471.5 310.5 472.5 311.5 473.5 310.5 474.5 311.5 475.5 312.5 476.5 311.5 477.5 310.5 478.5 311.5 479.5 312.5 480.5 312.5 481.5 312.5 482.5 313.5 483.5 314.5 484.5 315.5 485.5 315.5 486.5 315.5 487.5 316.5 488.5 316.5 489.5 316.5 490.5 316.5 491.5 317.5 492.5 317.5 493.5 317.5 494.5 317.5 495.5 318.5 496.5 318.5 497.5 318.5 498.5 319.5 499.5 319.5 500.5 321.5 501.5 321.5 502.5 320.5 503.5 321.5 504.5 322.5 505.5 322.5 506.5 322.5 507.5 323.5 508.5 324.5 509.5 324.5 510.5 324.5 511.5 324.5 512.5 324.5 513.5 324.5 514.5 325.5 515.5 326.5 516.5 327.5 517.5 327.5 518.5 327.5 519.5 327.5 520.5 328.5 521.5 328.5 522.5 328.5 523.5 329.5 524.5 329.5 525.5 330.5 526.5 330.5 527.5 330.5 528.5 331.5 529.5 331.5 530.5 332.5 531.5 332.5 532.5 333.5 533.5 333.5 534.5 333.5 535.5 334.5 536.5 334.5 537.5 334.5 538.5 335.5 539.5 335.5 540.5 336.5 541.5 336.5 542.5 336.5 543.5 337.5 544.5 337.5 545.5 337.5 546.5 338.5 547.5 338.5 548.5 338.5 549.5 339.5 550.5 339.5 551.5 340.5 552.5 340.5 553.5 340.5 554.5 341.5 555.5 341.5 556.5 341.5 557.5 342.5 558.5 342.5" fill="none" stroke="#d8b040" stroke-width="1" shape-rendering="crispEdges"/>
<path d="M354.5 299.5 355.5 299.5 356.5 298.5 357.5 300.5 358.5 300.5 359.5 299.5 360.5 300.5 361.5 297.5 362.5 296.5" fill="none" stroke="#e89a36" stroke-width="1" shape-rendering="crispEdges"/>
<path d="M289.5 319.5 290.5 319.5 291.5 319.5 292.5 319.5 293.5 319.5 294.5 318.5 295.5 317.5" fill="none" stroke="#e2a040" stroke-width="1" shape-rendering="crispEdges"/>
<path d="M311.5 310.5 312.5 310.5 313.5 312.5 314.5 311.5 315.5 310.5" fill="none" stroke="#a8d0b0" stroke-width="1" shape-rendering="crispEdges"/>
<path d="M369.5 299.5 370.5 298.5 371.5 298.5" fill="none" stroke="#e89a36" stroke-width="1" shape-rendering="crispEdges"/>
<path d="M428.5 300.5 429.5 299.5 430.5 302.5 431.5 301.5 432.5 299.5" fill="none" stroke="#b7c258" stroke-width="1" shape-rendering="crispEdges"/>
<path d="M439.5 301.5 440.5 303.5 441.5 304.5 442.5 300.5 443.5 300.5 444.5 302.5 445.5 302.5 446.5 303.5 447.5 303.5 448.5 302.5" fill="none" stroke="#b7c258" stroke-width="1" shape-rendering="crispEdges"/>
<path d="M533.5 333.5 534.5 333.5 535.5 334.5 536.5 334.5 537.5 334.5 538.5 335.5 539.5 335.5 540.5 336.5" fill="none" stroke="#e89a36" stroke-width="1" shape-rendering="crispEdges"/>
<path d="M276.5 324.5 277.5 324.5 278.5 323.5 279.5 324.5" fill="none" stroke="#c9c64e" stroke-width="1" shape-rendering="crispEdges"/>
<path d="M483.5 314.5 484.5 315.5 485.5 315.5 486.5 315.5 487.5 316.5 488.5 316.5 489.5 316.5 490.5 316.5 491.5 317.5" fill="none" stroke="#b7c258" stroke-width="1" shape-rendering="crispEdges"/>
<path d="M462.5 307.5 463.5 308.5 464.5 308.5" fill="none" stroke="#e89a36" stroke-width="1" shape-rendering="crispEdges"/>
<path d="M373.5 297.5 374.5 299.5 375.5 298.5" fill="none" stroke="#b7c258" stroke-width="1" shape-rendering="crispEdges"/>
<path d="M461.5 307.5 462.5 307.5 463.5 308.5 464.5 308.5" fill="none" stroke="#a8d0b0" stroke-width="1" shape-rendering="crispEdges"/>
<path d="M442.5 300.5 443.5 300.5 444.5 302.5 445.5 302.5 446.5 303.5 447.5 303.5 448.5 302.5 449.5 304.5" fill="none" stroke="#b7c258" stroke-width="1" shape-rendering="crispEdges"/>
<path d="M292.5 319.5 293.5 319.5 294.5 318.5 295.5 317.5 296.5 317.5 297.5 316.5 298.5 316.5 299.5 317.5" fill="none" stroke="#b7c258" stroke-width="1" shape-rendering="crispEdges"/>
<path d="M301.5 316.5 302.5 315.5 303.5 315.5 304.5 314.5 305.5 313.5 306.5 313.5 307.5 313.5 308.5 313.5" fill="none" stroke="#c9c64e" stroke-width="1" shape-rendering="crispEdges"/>
<path d="M333.5 304.5 334.5 305.5 335.5 304.5 336.5 303.5 337.5 304.5 338.5 304.5 339.5 304.5 340.5 304.5" fill="none" stroke="#a8d0b0" stroke-width="1" shape-rendering="crispEdges"/>
<g shape-rendering="crispEdges">
<rect x="514" y="325" width="2" height="1" fill="#4a8a40"/>
<rect x="334" y="305" width="2" height="1" fill="#111"/>
<rect x="410" y="298" width="1" height="1" fill="#000"/>
<rect x="508" y="324" width="1" height="1" fill="#222"/>
<rect x="340" y="304" width="2" height="1" fill="#6ab0a8"/>
<rect x="519" y="327" width="2" height="1" fill="#222"/>
<rect x="486" y="315" width="1" height="1" fill="#000"/>
<rect x="456" y="305" width="1" height="1" fill="#000"/>
<rect x="504" y="322" width="2" height="1" fill="#111"/>
<rect x="509" y="324" width="1" height="1" fill="#000"/>
<rect x="493" y="317" width="1" height="1" fill="#000"/>
<rect x="405" y="299" width="1" height="1" fill="#000"/>
<rect x="402" y="298" width="1" height="1" fill="#000"/>
<rect x="542" y="336" width="2" height="1" fill="#000"/>
<rect x="352" y="301" width="2" height="1" fill="#4a8a40"/>
<rect x="315" y="310" width="1" height="1" fill="#6ab0a8"/>
<rect x="319" y="310" width="1" height="1" fill="#000"/>
<rect x="366" y="299" width="1" height="1" fill="#4a8a40"/>
<rect x="518" y="327" width="2" height="1" fill="#111"/>
<rect x="434" y="299" width="2" height="1" fill="#4a8a40"/>
<rect x="537" y="334" width="1" height="1" fill="#4a8a40"/>
<rect x="549" y="339" width="2" height="1" fill="#000"/>
<rect x="386" y="297" width="2" height="1" fill="#000"/>
<rect x="495" y="318" width="1" height="1" fill="#000"/>
</g>
<g shape-rendering="crispEdges" fill="#000">
<rect x="156" y="295" width="1" height="69"/>
<rect x="156" y="363" width="403" height="1"/>
<rect x="156" y="311" width="5" height="1"/>
<rect x="156" y="330" width="5" height="1"/>
<rect x="156" y="349" width="5" height="1"/>
<rect x="158" y="358" width="1" height="5"/>
<rect x="284" y="358" width="1" height="5"/>
<rect x="410" y="358" width="1" height="5"/>
<rect x="537" y="358" width="1" height="5"/>
</g>
<g shape-rendering="crispEdges" stroke="#000" stroke-width="1" stroke-dasharray="1 4" fill="none">
<path d="M686 348.5H1087"/>
<path d="M684 328.5H1087"/>
<path d="M687 308.5H1087"/>
<path d="M686.5 364V296"/>
<path d="M813.5 362V296"/>
<path d="M939.5 360V296"/>
<path d="M1065.5 363V296"/>
</g>
<path d="M684.5 362.5 685.5 362.5 686.5 362.5 687.5 362.5 688.5 362.5 689.5 361.5 690.5 361.5 691.5 361.5 692.5 361.5 693.5 360.5 694.5 360.5 695.5 360.5 696.5 360.5 697.5 360.5 698.5 360.5 699.5 359.5 700.5 359.5 701.5 359.5 702.5 359.5 703.5 359.5 704.5 358.5 705.5 358.5 706.5 358.5 707.5 358.5 708.5 358.5 709.5 358.5 710.5 357.5 711.5 357.5 712.5 357.5 713.5 357.5 714.5 357.5 715.5 356.5 716.5 356.5 717.5 356.5 718.5 356.5 719.5 355.5 720.5 355.5 721.5 355.5 722.5 355.5 723.5 354.5 724.5 354.5 725.5 354.5 726.5 354.5 727.5 353.5 728.5 353.5 729.5 353.5 730.5 352.5 731.5 352.5 732.5 352.5 733.5 351.5 734.5 351.5 735.5 351.5 736.5 350.5 737.5 350.5 738.5 350.5 739.5 349.5 740.5 349.5 741.5 349.5 742.5 348.5 743.5 348.5 744.5 348.5 745.5 347.5 746.5 347.5 747.5 347.5 748.5 346.5 749.5 346.5 750.5 346.5 751.5 345.5 752.5 345.5 753.5 345.5 754.5 344.5 755.5 344.5 756.5 343.5 757.5 343.5 758.5 343.5 759.5 342.5 760.5 342.5 761.5 342.5 762.5 341.5 763.5 341.5 764.5 341.5 765.5 340.5 766.5 340.5 767.5 339.5 768.5 339.5 769.5 339.5 770.5 338.5 771.5 338.5 772.5 337.5 773.5 337.5 774.5 337.5 775.5 336.5 776.5 336.5 777.5 335.5 778.5 335.5 779.5 335.5 780.5 334.5 781.5 334.5 782.5 334.5 783.5 334.5 784.5 333.5 785.5 333.5 786.5 332.5 787.5 332.5 788.5 331.5 789.5 331.5 790.5 331.5 791.5 330.5 792.5 330.5 793.5 329.5 794.5 329.5 795.5 329.5 796.5 329.5 797.5 328.5 798.5 328.5 799.5 327.5 800.5 327.5 801.5 327.5 802.5 326.5 803.5 325.5 804.5 325.5 805.5 325.5 806.5 324.5 807.5 323.5 808.5 324.5 809.5 324.5 810.5 322.5 811.5 321.5 812.5 321.5 813.5 320.5 814.5 320.5 815.5 320.5 816.5 320.5 817.5 319.5 818.5 319.5 819.5 318.5 820.5 316.5 821.5 316.5 822.5 316.5 823.5 316.5 824.5 315.5 825.5 314.5 826.5 315.5 827.5 315.5 828.5 316.5 829.5 315.5 830.5 315.5 831.5 313.5 832.5 312.5 833.5 312.5 834.5 311.5 835.5 311.5 836.5 311.5 837.5 312.5 838.5 310.5 839.5 310.5 840.5 309.5 841.5 308.5 842.5 310.5 843.5 310.5 844.5 309.5 845.5 309.5 846.5 309.5 847.5 308.5 848.5 308.5 849.5 308.5 850.5 307.5 851.5 306.5 852.5 307.5 853.5 306.5 854.5 306.5 855.5 305.5 856.5 305.5 857.5 304.5 858.5 305.5 859.5 304.5 860.5 304.5 861.5 303.5 862.5 304.5 863.5 304.5 864.5 303.5 865.5 303.5 866.5 304.5 867.5 303.5 868.5 302.5 869.5 303.5 870.5 303.5 871.5 301.5 872.5 301.5 873.5 301.5 874.5 302.5 875.5 304.5 876.5 303.5 877.5 302.5 878.5 302.5 879.5 301.5 880.5 301.5 881.5 301.5 882.5 300.5 883.5 300.5 884.5 298.5 885.5 299.5 886.5 298.5 887.5 299.5 888.5 300.5 889.5 299.5 890.5 300.5 891.5 299.5 892.5 297.5 893.5 297.5 894.5 298.5 895.5 298.5 896.5 297.5 897.5 298.5 898.5 301.5 899.5 301.5 900.5 298.5 901.5 299.5 902.5 302.5 903.5 301.5 904.5 299.5 905.5 300.5 906.5 300.5 907.5 298.5 908.5 299.5 909.5 299.5 910.5 297.5 911.5 297.5 912.5 299.5 913.5 298.5 914.5 297.5 915.5 297.5 916.5 298.5 917.5 298.5 918.5 296.5 919.5 296.5 920.5 298.5 921.5 297.5 922.5 296.5 923.5 297.5 924.5 297.5 925.5 298.5 926.5 297.5 927.5 299.5 928.5 298.5 929.5 296.5 930.5 296.5 931.5 297.5 932.5 299.5 933.5 300.5 934.5 299.5 935.5 297.5 936.5 297.5 937.5 297.5 938.5 297.5 939.5 299.5 940.5 299.5 941.5 298.5 942.5 297.5 943.5 298.5 944.5 299.5 945.5 298.5 946.5 298.5 947.5 297.5 948.5 299.5 949.5 300.5 950.5 301.5 951.5 299.5 952.5 298.5 953.5 300.5 954.5 298.5 955.5 298.5 956.5 300.5 957.5 299.5 958.5 299.5 959.5 301.5 960.5 302.5 961.5 300.5 962.5 300.5 963.5 300.5 964.5 301.5 965.5 303.5 966.5 305.5 967.5 305.5 968.5 302.5 969.5 301.5 970.5 302.5 971.5 302.5 972.5 301.5 973.5 301.5 974.5 303.5 975.5 301.5 976.5 301.5 977.5 304.5 978.5 303.5 979.5 303.5 980.5 304.5 981.5 304.5 982.5 303.5 983.5 304.5 984.5 305.5 985.5 306.5 986.5 306.5 987.5 306.5 988.5 306.5 989.5 304.5 990.5 305.5 991.5 307.5 992.5 307.5 993.5 308.5 994.5 307.5 995.5 308.5 996.5 307.5 997.5 308.5 998.5 309.5 999.5 309.5 1000.5 309.5 1001.5 310.5 1002.5 310.5 1003.5 311.5 1004.5 311.5 1005.5 312.5 1006.5 313.5 1007.5 313.5 1008.5 312.5 1009.5 312.5 1010.5 313.5 1011.5 314.5 1012.5 314.5 1013.5 314.5 1014.5 315.5 1015.5 315.5 1016.5 315.5 1017.5 316.5 1018.5 317.5 1019.5 317.5 1020.5 317.5 1021.5 318.5 1022.5 318.5 1023.5 318.5 1024.5 318.5 1025.5 319.5 1026.5 320.5 1027.5 320.5 1028.5 320.5 1029.5 321.5 1030.5 321.5 1031.5 321.5 1032.5 321.5 1033.5 323.5 1034.5 322.5 1035.5 322.5 1036.5 324.5 1037.5 324.5 1038.5 325.5 1039.5 325.5 1040.5 325.5 1041.5 325.5 1042.5 326.5 1043.5 327.5 1044.5 326.5 1045.5 327.5 1046.5 327.5 1047.5 328.5 1048.5 328.5 1049.5 329.5 1050.5 330.5 1051.5 330.5 1052.5 330.5 1053.5 330.5 1054.5 330.5 1055.5 331.5 1056.5 331.5 1057.5 332.5 1058.5 332.5 1059.5 332.5 1060.5 333.5 1061.5 333.5 1062.5 333.5 1063.5 334.5 1064.5 334.5 1065.5 335.5 1066.5 335.5 1067.5 336.5 1068.5 336.5 1069.5 336.5 1070.5 336.5 1071.5 336.5 1072.5 337.5 1073.5 337.5 1074.5 338.5 1075.5 338.5 1076.5 338.5 1077.5 339.5 1078.5 339.5 1079.5 339.5 1080.5 339.5 1081.5 340.5 1082.5 340.5 1083.5 340.5 1084.5 341.5 1085.5 341.5 1086.5 341.5" fill="none" stroke="#fffab0" stroke-width="3" stroke-opacity="0.65" stroke-linejoin="round"/>
<g shape-rendering="crispEdges">
<path d="M884.5 298.5 885.5 299.5 886.5 298.5 887.5 299.5" fill="none" stroke="#4a8a40" stroke-width="1"/>
<path d="M981.5 305.5 982.5 304.5" fill="none" stroke="#222" stroke-width="1"/>
<path d="M903.5 301.5 904.5 299.5" fill="none" stroke="#000" stroke-width="1"/>
<path d="M837.5 312.5 838.5 310.5 839.5 310.5" fill="none" stroke="#000" stroke-width="1"/>
<path d="M850.5 307.5 851.5 306.5 852.5 307.5 853.5 306.5" fill="none" stroke="#000" stroke-width="1"/>
<path d="M791.5 330.5 792.5 330.5 793.5 329.5 794.5 329.5" fill="none" stroke="#222" stroke-width="1"/>
<path d="M790.5 332.5 791.5 331.5 792.5 331.5 793.5 330.5" fill="none" stroke="#000" stroke-width="1"/>
<path d="M996.5 307.5 997.5 308.5 998.5 309.5 999.5 309.5" fill="none" stroke="#000" stroke-width="1"/>
<path d="M852.5 307.5 853.5 306.5 854.5 306.5" fill="none" stroke="#000" stroke-width="1"/>
<path d="M1056.5 332.5 1057.5 333.5 1058.5 333.5" fill="none" stroke="#6ab0a8" stroke-width="1"/>
<path d="M995.5 308.5 996.5 307.5" fill="none" stroke="#000" stroke-width="1"/>
<path d="M947.5 297.5 948.5 299.5 949.5 300.5 950.5 301.5" fill="none" stroke="#000" stroke-width="1"/>
<path d="M890.5 300.5 891.5 299.5 892.5 297.5" fill="none" stroke="#000" stroke-width="1"/>
<path d="M983.5 303.5 984.5 304.5 985.5 305.5" fill="none" stroke="#6ab0a8" stroke-width="1"/>
<path d="M923.5 297.5 924.5 297.5 925.5 298.5 926.5 297.5" fill="none" stroke="#6ab0a8" stroke-width="1"/>
<path d="M780.5 333.5 781.5 333.5 782.5 333.5 783.5 333.5" fill="none" stroke="#000" stroke-width="1"/>
<path d="M866.5 304.5 867.5 303.5" fill="none" stroke="#4a8a40" stroke-width="1"/>
<path d="M987.5 306.5 988.5 306.5 989.5 304.5" fill="none" stroke="#000" stroke-width="1"/>
<path d="M1005.5 311.5 1006.5 312.5 1007.5 312.5 1008.5 311.5" fill="none" stroke="#000" stroke-width="1"/>
<path d="M841.5 308.5 842.5 310.5" fill="none" stroke="#000" stroke-width="1"/>
<path d="M982.5 302.5 983.5 303.5" fill="none" stroke="#222" stroke-width="1"/>
<path d="M862.5 303.5 863.5 303.5" fill="none" stroke="#111" stroke-width="1"/>
<path d="M809.5 323.5 810.5 321.5" fill="none" stroke="#000" stroke-width="1"/>
<path d="M918.5 296.5 919.5 296.5 920.5 298.5" fill="none" stroke="#4a8a40" stroke-width="1"/>
<path d="M1014.5 315.5 1015.5 315.5" fill="none" stroke="#000" stroke-width="1"/>
<path d="M900.5 298.5 901.5 299.5 902.5 302.5 903.5 301.5" fill="none" stroke="#000" stroke-width="1"/>
<path d="M785.5 333.5 786.5 332.5 787.5 332.5" fill="none" stroke="#6ab0a8" stroke-width="1"/>
<path d="M902.5 301.5 903.5 300.5 904.5 298.5" fill="none" stroke="#222" stroke-width="1"/>
<path d="M891.5 298.5 892.5 296.5 893.5 296.5 894.5 297.5" fill="none" stroke="#6ab0a8" stroke-width="1"/>
<path d="M1024.5 319.5 1025.5 320.5 1026.5 321.5 1027.5 321.5" fill="none" stroke="#000" stroke-width="1"/>
</g>
<path d="M684.5 362.5 685.5 362.5 686.5 362.5 687.5 362.5 688.5 362.5 689.5 361.5 690.5 361.5 691.5 361.5 692.5 361.5 693.5 360.5 694.5 360.5 695.5 360.5 696.5 360.5 697.5 360.5 698.5 360.5 699.5 359.5 700.5 359.5 701.5 359.5 702.5 359.5 703.5 359.5 704.5 358.5 705.5 358.5 706.5 358.5 707.5 358.5 708.5 358.5 709.5 358.5 710.5 357.5 711.5 357.5 712.5 357.5 713.5 357.5 714.5 357.5 715.5 356.5 716.5 356.5 717.5 356.5 718.5 356.5 719.5 355.5 720.5 355.5 721.5 355.5 722.5 355.5 723.5 354.5 724.5 354.5 725.5 354.5 726.5 354.5 727.5 353.5 728.5 353.5 729.5 353.5 730.5 352.5 731.5 352.5 732.5 352.5 733.5 351.5 734.5 351.5 735.5 351.5 736.5 350.5 737.5 350.5 738.5 350.5 739.5 349.5 740.5 349.5 741.5 349.5 742.5 348.5 743.5 348.5 744.5 348.5 745.5 347.5 746.5 347.5 747.5 347.5 748.5 346.5 749.5 346.5 750.5 346.5 751.5 345.5 752.5 345.5 753.5 345.5 754.5 344.5 755.5 344.5 756.5 343.5 757.5 343.5 758.5 343.5 759.5 342.5 760.5 342.5 761.5 342.5 762.5 341.5 763.5 341.5 764.5 341.5 765.5 340.5 766.5 340.5 767.5 339.5 768.5 339.5 769.5 339.5 770.5 338.5 771.5 338.5 772.5 337.5 773.5 337.5 774.5 337.5 775.5 336.5 776.5 336.5 777.5 335.5 778.5 335.5 779.5 335.5 780.5 334.5 781.5 334.5 782.5 334.5 783.5 334.5 784.5 333.5 785.5 333.5 786.5 332.5 787.5 332.5 788.5 331.5 789.5 331.5 790.5 331.5 791.5 330.5 792.5 330.5 793.5 329.5 794.5 329.5 795.5 329.5 796.5 329.5 797.5 328.5 798.5 328.5 799.5 327.5 800.5 327.5 801.5 327.5 802.5 326.5 803.5 325.5 804.5 325.5 805.5 325.5 806.5 324.5 807.5 323.5 808.5 324.5 809.5 324.5 810.5 322.5 811.5 321.5 812.5 321.5 813.5 320.5 814.5 320.5 815.5 320.5 816.5 320.5 817.5 319.5 818.5 319.5 819.5 318.5 820.5 316.5 821.5 316.5 822.5 316.5 823.5 316.5 824.5 315.5 825.5 314.5 826.5 315.5 827.5 315.5 828.5 316.5 829.5 315.5 830.5 315.5 831.5 313.5 832.5 312.5 833.5 312.5 834.5 311.5 835.5 311.5 836.5 311.5 837.5 312.5 838.5 310.5 839.5 310.5 840.5 309.5 841.5 308.5 842.5 310.5 843.5 310.5 844.5 309.5 845.5 309.5 846.5 309.5 847.5 308.5 848.5 308.5 849.5 308.5 850.5 307.5 851.5 306.5 852.5 307.5 853.5 306.5 854.5 306.5 855.5 305.5 856.5 305.5 857.5 304.5 858.5 305.5 859.5 304.5 860.5 304.5 861.5 303.5 862.5 304.5 863.5 304.5 864.5 303.5 865.5 303.5 866.5 304.5 867.5 303.5 868.5 302.5 869.5 303.5 870.5 303.5 871.5 301.5 872.5 301.5 873.5 301.5 874.5 302.5 875.5 304.5 876.5 303.5 877.5 302.5 878.5 302.5 879.5 301.5 880.5 301.5 881.5 301.5 882.5 300.5 883.5 300.5 884.5 298.5 885.5 299.5 886.5 298.5 887.5 299.5 888.5 300.5 889.5 299.5 890.5 300.5 891.5 299.5 892.5 297.5 893.5 297.5 894.5 298.5 895.5 298.5 896.5 297.5 897.5 298.5 898.5 301.5 899.5 301.5 900.5 298.5 901.5 299.5 902.5 302.5 903.5 301.5 904.5 299.5 905.5 300.5 906.5 300.5 907.5 298.5 908.5 299.5 909.5 299.5 910.5 297.5 911.5 297.5 912.5 299.5 913.5 298.5 914.5 297.5 915.5 297.5 916.5 298.5 917.5 298.5 918.5 296.5 919.5 296.5 920.5 298.5 921.5 297.5 922.5 296.5 923.5 297.5 924.5 297.5 925.5 298.5 926.5 297.5 927.5 299.5 928.5 298.5 929.5 296.5 930.5 296.5 931.5 297.5 932.5 299.5 933.5 300.5 934.5 299.5 935.5 297.5 936.5 297.5 937.5 297.5 938.5 297.5 939.5 299.5 940.5 299.5 941.5 298.5 942.5 297.5 943.5 298.5 944.5 299.5 945.5 298.5 946.5 298.5 947.5 297.5 948.5 299.5 949.5 300.5 950.5 301.5 951.5 299.5 952.5 298.5 953.5 300.5 954.5 298.5 955.5 298.5 956.5 300.5 957.5 299.5 958.5 299.5 959.5 301.5 960.5 302.5 961.5 300.5 962.5 300.5 963.5 300.5 964.5 301.5 965.5 303.5 966.5 305.5 967.5 305.5 968.5 302.5 969.5 301.5 970.5 302.5 971.5 302.5 972.5 301.5 973.5 301.5 974.5 303.5 975.5 301.5 976.5 301.5 977.5 304.5 978.5 303.5 979.5 303.5 980.5 304.5 981.5 304.5 982.5 303.5 983.5 304.5 984.5 305.5 985.5 306.5 986.5 306.5 987.5 306.5 988.5 306.5 989.5 304.5 990.5 305.5 991.5 307.5 992.5 307.5 993.5 308.5 994.5 307.5 995.5 308.5 996.5 307.5 997.5 308.5 998.5 309.5 999.5 309.5 1000.5 309.5 1001.5 310.5 1002.5 310.5 1003.5 311.5 1004.5 311.5 1005.5 312.5 1006.5 313.5 1007.5 313.5 1008.5 312.5 1009.5 312.5 1010.5 313.5 1011.5 314.5 1012.5 314.5 1013.5 314.5 1014.5 315.5 1015.5 315.5 1016.5 315.5 1017.5 316.5 1018.5 317.5 1019.5 317.5 1020.5 317.5 1021.5 318.5 1022.5 318.5 1023.5 318.5 1024.5 318.5 1025.5 319.5 1026.5 320.5 1027.5 320.5 1028.5 320.5 1029.5 321.5 1030.5 321.5 1031.5 321.5 1032.5 321.5 1033.5 323.5 1034.5 322.5 1035.5 322.5 1036.5 324.5 1037.5 324.5 1038.5 325.5 1039.5 325.5 1040.5 325.5 1041.5 325.5 1042.5 326.5 1043.5 327.5 1044.5 326.5 1045.5 327.5 1046.5 327.5 1047.5 328.5 1048.5 328.5 1049.5 329.5 1050.5 330.5 1051.5 330.5 1052.5 330.5 1053.5 330.5 1054.5 330.5 1055.5 331.5 1056.5 331.5 1057.5 332.5 1058.5 332.5 1059.5 332.5 1060.5 333.5 1061.5 333.5 1062.5 333.5 1063.5 334.5 1064.5 334.5 1065.5 335.5 1066.5 335.5 1067.5 336.5 1068.5 336.5 1069.5 336.5 1070.5 336.5 1071.5 336.5 1072.5 337.5 1073.5 337.5 1074.5 338.5 1075.5 338.5 1076.5 338.5 1077.5 339.5 1078.5 339.5 1079.5 339.5 1080.5 339.5 1081.5 340.5 1082.5 340.5 1083.5 340.5 1084.5 341.5 1085.5 341.5 1086.5 341.5" fill="none" stroke="#d8b040" stroke-width="1" shape-rendering="crispEdges"/>
<path d="M1042.5 326.5 1043.5 327.5 1044.5 326.5 1045.5 327.5 1046.5 327.5 1047.5 328.5 1048.5 328.5 1049.5 329.5 1050.5 330.5" fill="none" stroke="#e89a36" stroke-width="1" shape-rendering="crispEdges"/>
<path d="M1007.5 313.5 1008.5 312.5 1009.5 312.5 1010.5 313.5 1011.5 314.5" fill="none" stroke="#c9c64e" stroke-width="1" shape-rendering="crispEdges"/>
<path d="M961.5 300.5 962.5 300.5 963.5 300.5 964.5 301.5" fill="none" stroke="#e89a36" stroke-width="1" shape-rendering="crispEdges"/>
<path d="M790.5 331.5 791.5 330.5 792.5 330.5" fill="none" stroke="#b7c258" stroke-width="1" shape-rendering="crispEdges"/>
<path d="M994.5 307.5 995.5 308.5 996.5 307.5 997.5 308.5 998.5 309.5" fill="none" stroke="#b7c258" stroke-width="1" shape-rendering="crispEdges"/>
<path d="M828.5 316.5 829.5 315.5 830.5 315.5 831.5 313.5 832.5 312.5" fill="none" stroke="#c9c64e" stroke-width="1" shape-rendering="crispEdges"/>
<path d="M881.5 301.5 882.5 300.5 883.5 300.5" fill="none" stroke="#e89a36" stroke-width="1" shape-rendering="crispEdges"/>
<path d="M1001.5 310.5 1002.5 310.5 1003.5 311.5 1004.5 311.5 1005.5 312.5 1006.5 313.5 1007.5 313.5 1008.5 312.5 1009.5 312.5" fill="none" stroke="#a8d0b0" stroke-width="1" shape-rendering="crispEdges"/>
<path d="M938.5 297.5 939.5 299.5 940.5 299.5 941.5 298.5 942.5 297.5 943.5 298.5" fill="none" stroke="#e2a040" stroke-width="1" shape-rendering="crispEdges"/>
<path d="M1055.5 331.5 1056.5 331.5 1057.5 332.5" fill="none" stroke="#e89a36" stroke-width="1" shape-rendering="crispEdges"/>
<path d="M1064.5 334.5 1065.5 335.5 1066.5 335.5 1067.5 336.5 1068.5 336.5 1069.5 336.5 1070.5 336.5 1071.5 336.5" fill="none" stroke="#b7c258" stroke-width="1" shape-rendering="crispEdges"/>
<path d="M794.5 329.5 795.5 329.5 796.5 329.5 797.5 328.5 798.5 328.5 799.5 327.5 800.5 327.5" fill="none" stroke="#e2a040" stroke-width="1" shape-rendering="crispEdges"/>
<path d="M885.5 299.5 886.5 298.5 887.5 299.5" fill="none" stroke="#a8d0b0" stroke-width="1" shape-rendering="crispEdges"/>
<path d="M869.5 303.5 870.5 303.5 871.5 301.5 872.5 301.5 873.5 301.5" fill="none" stroke="#a8d0b0" stroke-width="1" shape-rendering="crispEdges"/>
<path d="M1050.5 330.5 1051.5 330.5 1052.5 330.5 1053.5 330.5 1054.5 330.5 1055.5 331.5" fill="none" stroke="#b7c258" stroke-width="1" shape-rendering="crispEdges"/>
<path d="M979.5 303.5 980.5 304.5 981.5 304.5 982.5 303.5 983.5 304.5 984.5 305.5 985.5 306.5 986.5 306.5" fill="none" stroke="#c9c64e" stroke-width="1" shape-rendering="crispEdges"/>
<g shape-rendering="crispEdges">
<rect x="884" y="298" width="1" height="1" fill="#222"/>
<rect x="981" y="304" width="2" height="1" fill="#000"/>
<rect x="903" y="301" width="1" height="1" fill="#111"/>
<rect x="837" y="312" width="2" height="1" fill="#111"/>
<rect x="850" y="307" width="2" height="1" fill="#000"/>
<rect x="791" y="330" width="1" height="1" fill="#000"/>
<rect x="790" y="331" width="1" height="1" fill="#000"/>
<rect x="996" y="307" width="2" height="1" fill="#222"/>
<rect x="852" y="307" width="2" height="1" fill="#000"/>
<rect x="1056" y="331" width="2" height="1" fill="#4a8a40"/>
<rect x="995" y="308" width="2" height="1" fill="#000"/>
<rect x="947" y="297" width="1" height="1" fill="#000"/>
<rect x="890" y="300" width="1" height="1" fill="#000"/>
<rect x="983" y="304" width="1" height="1" fill="#6ab0a8"/>
<rect x="923" y="297" width="1" height="1" fill="#222"/>
<rect x="780" y="334" width="2" height="1" fill="#111"/>
<rect x="866" y="304" width="1" height="1" fill="#000"/>
<rect x="987" y="306" width="2" height="1" fill="#000"/>
<rect x="1005" y="312" width="2" height="1" fill="#111"/>
<rect x="841" y="308" width="1" height="1" fill="#222"/>
<rect x="982" y="303" width="1" height="1" fill="#000"/>
<rect x="862" y="304" width="2" height="1" fill="#000"/>
<rect x="809" y="324" width="1" height="1" fill="#111"/>
<rect x="918" y="296" width="2" height="1" fill="#000"/>
</g>
<g shape-rendering="crispEdges" fill="#000">
<rect x="684" y="295" width="1" height="69"/>
<rect x="684" y="363" width="403" height="1"/>
<rect x="684" y="308" width="5" height="1"/>
<rect x="684" y="328" width="5" height="1"/>
<rect x="684" y="348" width="5" height="1"/>
<rect x="686" y="358" width="1" height="5"/>
<rect x="813" y="358" width="1" height="5"/>
<rect x="939" y="358" width="1" height="5"/>
<rect x="1065" y="358" width="1" height="5"/>
</g>
<g shape-rendering="crispEdges" stroke="#000" stroke-width="1" stroke-dasharray="1 4" fill="none">
<path d="M158 544.5H559"/>
<path d="M156 523.5H559"/>
<path d="M159 502.5H559"/>
<path d="M158.5 561V494"/>
<path d="M284.5 558V494"/>
<path d="M410.5 560V494"/>
<path d="M537.5 557V494"/>
</g>
<path d="M156.5 560.5 157.5 559.5 158.5 559.5 159.5 559.5 160.5 559.5 161.5 558.5 162.5 558.5 163.5 558.5 164.5 558.5 165.5 558.5 166.5 557.5 167.5 557.5 168.5 557.5 169.5 557.5 170.5 557.5 171.5 556.5 172.5 556.5 173.5 556.5 174.5 556.5 175.5 556.5 176.5 555.5 177.5 555.5 178.5 555.5 179.5 555.5 180.5 555.5 181.5 554.5 182.5 554.5 183.5 554.5 184.5 554.5 185.5 554.5 186.5 553.5 187.5 553.5 188.5 553.5 189.5 553.5 190.5 553.5 191.5 552.5 192.5 552.5 193.5 552.5 194.5 552.5 195.5 551.5 196.5 551.5 197.5 551.5 198.5 551.5 199.5 550.5 200.5 550.5 201.5 550.5 202.5 550.5 203.5 549.5 204.5 549.5 205.5 549.5 206.5 549.5 207.5 548.5 208.5 548.5 209.5 548.5 210.5 547.5 211.5 547.5 212.5 547.5 213.5 546.5 214.5 546.5 215.5 546.5 216.5 545.5 217.5 545.5 218.5 544.5 219.5 544.5 220.5 544.5 221.5 543.5 222.5 543.5 223.5 542.5 224.5 542.5 225.5 542.5 226.5 541.5 227.5 541.5 228.5 540.5 229.5 540.5 230.5 540.5 231.5 539.5 232.5 539.5 233.5 538.5 234.5 538.5 235.5 538.5 236.5 537.5 237.5 537.5 238.5 536.5 239.5 536.5 240.5 535.5 241.5 535.5 242.5 535.5 243.5 534.5 244.5 534.5 245.5 533.5 246.5 533.5 247.5 533.5 248.5 532.5 249.5 532.5 250.5 532.5 251.5 531.5 252.5 531.5 253.5 531.5 254.5 530.5 255.5 530.5 256.5 530.5 257.5 529.5 258.5 529.5 259.5 528.5 260.5 528.5 261.5 528.5 262.5 527.5 263.5 527.5 264.5 526.5 265.5 526.5 266.5 526.5 267.5 525.5 268.5 525.5 269.5 525.5 270.5 524.5 271.5 524.5 272.5 524.5 273.5 523.5 274.5 522.5 275.5 522.5 276.5 522.5 277.5 522.5 278.5 521.5 279.5 521.5 280.5 520.5 281.5 520.5 282.5 519.5 283.5 519.5 284.5 519.5 285.5 518.5 286.5 517.5 287.5 518.5 288.5 518.5 289.5 516.5 290.5 516.5 291.5 515.5 292.5 514.5 293.5 515.5 294.5 514.5 295.5 514.5 296.5 514.5 297.5 514.5 298.5 513.5 299.5 512.5 300.5 512.5 301.5 512.5 302.5 512.5 303.5 511.5 304.5 511.5 305.5 509.5 306.5 509.5 307.5 510.5 308.5 509.5 309.5 508.5 310.5 508.5 311.5 507.5 312.5 506.5 313.5 507.5 314.5 507.5 315.5 506.5 316.5 506.5 317.5 505.5 318.5 507.5 319.5 508.5 320.5 507.5 321.5 506.5 322.5 505.5 323.5 503.5 324.5 502.5 325.5 503.5 326.5 503.5 327.5 503.5 328.5 503.5 329.5 504.5 330.5 503.5 331.5 502.5 332.5 502.5 333.5 501.5 334.5 500.5 335.5 502.5 336.5 504.5 337.5 501.5 338.5 499.5 339.5 499.5 340.5 500.5 341.5 501.5 342.5 500.5 343.5 499.5 344.5 499.5 345.5 498.5 346.5 497.5 347.5 498.5 348.5 499.5 349.5 498.5 350.5 498.5 351.5 497.5 352.5 498.5 353.5 498.5 354.5 497.5 355.5 496.5 356.5 496.5 357.5 497.5 358.5 498.5 359.5 498.5 360.5 497.5 361.5 496.5 362.5 497.5 363.5 496.5 364.5 495.5 365.5 496.5 366.5 497.5 367.5 496.5 368.5 495.5 369.5 495.5 370.5 495.5 371.5 495.5 372.5 494.5 373.5 495.5 374.5 496.5 375.5 495.5 376.5 496.5 377.5 496.5 378.5 495.5 379.5 496.5 380.5 495.5 381.5 495.5 382.5 493.5 383.5 494.5 384.5 496.5 385.5 497.5 386.5 495.5 387.5 495.5 388.5 496.5 389.5 495.5 390.5 496.5 391.5 497.5 392.5 496.5 393.5 496.5 394.5 496.5 395.5 495.5 396.5 493.5 397.5 494.5 398.5 495.5 399.5 495.5 400.5 495.5 401.5 495.5 402.5 494.5 403.5 494.5 404.5 496.5 405.5 497.5 406.5 498.5 407.5 497.5 408.5 497.5 409.5 497.5 410.5 495.5 411.5 495.5 412.5 496.5 413.5 496.5 414.5 496.5 415.5 495.5 416.5 497.5 417.5 498.5 418.5 498.5 419.5 497.5 420.5 495.5 421.5 495.5 422.5 497.5 423.5 496.5 424.5 496.5 425.5 497.5 426.5 500.5 427.5 497.5 428.5 496.5 429.5 498.5 430.5 497.5 431.5 498.5 432.5 499.5 433.5 500.5 434.5 499.5 435.5 499.5 436.5 499.5 437.5 498.5 438.5 499.5 439.5 497.5 440.5 498.5 441.5 501.5 442.5 500.5 443.5 499.5 444.5 499.5 445.5 500.5 446.5 501.5 447.5 501.5 448.5 500.5 449.5 501.5 450.5 500.5 451.5 500.5 452.5 501.5 453.5 502.5 454.5 504.5 455.5 504.5 456.5 502.5 457.5 502.5 458.5 503.5 459.5 503.5 460.5 503.5 461.5 504.5 462.5 505.5 463.5 506.5 464.5 506.5 465.5 504.5 466.5 505.5 467.5 506.5 468.5 505.5 469.5 506.5 470.5 507.5 471.5 508.5 472.5 507.5 473.5 507.5 474.5 509.5 475.5 509.5 476.5 509.5 477.5 509.5 478.5 509.5 479.5 509.5 480.5 509.5 481.5 511.5 482.5 512.5 483.5 512.5 484.5 511.5 485.5 511.5 486.5 512.5 487.5 513.5 488.5 513.5 489.5 514.5 490.5 515.5 491.5 516.5 492.5 515.5 493.5 514.5 494.5 515.5 495.5 515.5 496.5 516.5 497.5 517.5 498.5 517.5 499.5 518.5 500.5 518.5 501.5 518.5 502.5 519.5 503.5 519.5 504.5 519.5 505.5 520.5 506.5 520.5 507.5 521.5 508.5 521.5 509.5 521.5 510.5 521.5 511.5 522.5 512.5 523.5 513.5 522.5 514.5 523.5 515.5 524.5 516.5 525.5 517.5 525.5 518.5 525.5 519.5 525.5 520.5 526.5 521.5 527.5 522.5 527.5 523.5 528.5 524.5 528.5 525.5 528.5 526.5 528.5 527.5 529.5 528.5 529.5 529.5 529.5 530.5 530.5 531.5 530.5 532.5 530.5 533.5 531.5 534.5 532.5 535.5 532.5 536.5 532.5 537.5 532.5 538.5 533.5 539.5 533.5 540.5 534.5 541.5 534.5 542.5 534.5 543.5 535.5 544.5 535.5 545.5 535.5 546.5 536.5 547.5 536.5 548.5 536.5 549.5 537.5 550.5 537.5 551.5 537.5 552.5 537.5 553.5 538.5 554.5 538.5 555.5 538.5 556.5 539.5 557.5 539.5 558.5 539.5" fill="none" stroke="#fffab0" stroke-width="3" stroke-opacity="0.65" stroke-linejoin="round"/>
<g shape-rendering="crispEdges">
<path d="M287.5 517.5 288.5 517.5 289.5 515.5" fill="none" stroke="#000" stroke-width="1"/>
<path d="M330.5 503.5 331.5 502.5" fill="none" stroke="#000" stroke-width="1"/>
<path d="M359.5 498.5 360.5 497.5" fill="none" stroke="#222" stroke-width="1"/>
<path d="M408.5 497.5 409.5 497.5 410.5 495.5" fill="none" stroke="#6ab0a8" stroke-width="1"/>
<path d="M355.5 497.5 356.5 497.5" fill="none" stroke="#000" stroke-width="1"/>
<path d="M431.5 497.5 432.5 498.5" fill="none" stroke="#000" stroke-width="1"/>
<path d="M385.5 497.5 386.5 495.5" fill="none" stroke="#222" stroke-width="1"/>
<path d="M526.5 528.5 527.5 529.5" fill="none" stroke="#222" stroke-width="1"/>
<path d="M450.5 501.5 451.5 501.5" fill="none" stroke="#000" stroke-width="1"/>
<path d="M416.5 498.5 417.5 499.5" fill="none" stroke="#000" stroke-width="1"/>
<path d="M513.5 522.5 514.5 523.5" fill="none" stroke="#6ab0a8" stroke-width="1"/>
<path d="M392.5 497.5 393.5 497.5 394.5 497.5 395.5 496.5" fill="none" stroke="#000" stroke-width="1"/>
<path d="M507.5 520.5 508.5 520.5 509.5 520.5 510.5 520.5" fill="none" stroke="#6ab0a8" stroke-width="1"/>
<path d="M284.5 519.5 285.5 518.5 286.5 517.5" fill="none" stroke="#6ab0a8" stroke-width="1"/>
<path d="M489.5 515.5 490.5 516.5 491.5 517.5 492.5 516.5" fill="none" stroke="#6ab0a8" stroke-width="1"/>
<path d="M304.5 511.5 305.5 509.5" fill="none" stroke="#000" stroke-width="1"/>
<path d="M376.5 496.5 377.5 496.5 378.5 495.5" fill="none" stroke="#000" stroke-width="1"/>
<path d="M499.5 517.5 500.5 517.5 501.5 517.5" fill="none" stroke="#000" stroke-width="1"/>
<path d="M530.5 531.5 531.5 531.5" fill="none" stroke="#000" stroke-width="1"/>
<path d="M433.5 499.5 434.5 498.5 435.5 498.5" fill="none" stroke="#000" stroke-width="1"/>
<path d="M425.5 498.5 426.5 501.5 427.5 498.5 428.5 497.5" fill="none" stroke="#6ab0a8" stroke-width="1"/>
<path d="M458.5 502.5 459.5 502.5 460.5 502.5 461.5 503.5" fill="none" stroke="#222" stroke-width="1"/>
<path d="M481.5 511.5 482.5 512.5" fill="none" stroke="#000" stroke-width="1"/>
<path d="M364.5 494.5 365.5 495.5" fill="none" stroke="#222" stroke-width="1"/>
<path d="M340.5 501.5 341.5 502.5 342.5 501.5 343.5 500.5" fill="none" stroke="#000" stroke-width="1"/>
<path d="M545.5 535.5 546.5 536.5" fill="none" stroke="#000" stroke-width="1"/>
<path d="M479.5 508.5 480.5 508.5 481.5 510.5 482.5 511.5" fill="none" stroke="#000" stroke-width="1"/>
<path d="M535.5 531.5 536.5 531.5" fill="none" stroke="#000" stroke-width="1"/>
<path d="M490.5 515.5 491.5 516.5 492.5 515.5" fill="none" stroke="#000" stroke-width="1"/>
<path d="M401.5 495.5 402.5 494.5 403.5 494.5 404.5 496.5" fill="none" stroke="#000" stroke-width="1"/>
</g>
<path d="M156.5 560.5 157.5 559.5 158.5 559.5 159.5 559.5 160.5 559.5 161.5 558.5 162.5 558.5 163.5 558.5 164.5 558.5 165.5 558.5 166.5 557.5 167.5 557.5 168.5 557.5 169.5 557.5 170.5 557.5 171.5 556.5 172.5 556.5 173.5 556.5 174.5 556.5 175.5 556.5 176.5 555.5 177.5 555.5 178.5 555.5 179.5 555.5 180.5 555.5 181.5 554.5 182.5 554.5 183.5 554.5 184.5 554.5 185.5 554.5 186.5 553.5 187.5 553.5 188.5 553.5 189.5 553.5 190.5 553.5 191.5 552.5 192.5 552.5 193.5 552.5 194.5 552.5 195.5 551.5 196.5 551.5 197.5 551.5 198.5 551.5 199.5 550.5 200.5 550.5 201.5 550.5 202.5 550.5 203.5 549.5 204.5 549.5 205.5 549.5 206.5 549.5 207.5 548.5 208.5 548.5 209.5 548.5 210.5 547.5 211.5 547.5 212.5 547.5 213.5 546.5 214.5 546.5 215.5 546.5 216.5 545.5 217.5 545.5 218.5 544.5 219.5 544.5 220.5 544.5 221.5 543.5 222.5 543.5 223.5 542.5 224.5 542.5 225.5 542.5 226.5 541.5 227.5 541.5 228.5 540.5 229.5 540.5 230.5 540.5 231.5 539.5 232.5 539.5 233.5 538.5 234.5 538.5 235.5 538.5 236.5 537.5 237.5 537.5 238.5 536.5 239.5 536.5 240.5 535.5 241.5 535.5 242.5 535.5 243.5 534.5 244.5 534.5 245.5 533.5 246.5 533.5 247.5 533.5 248.5 532.5 249.5 532.5 250.5 532.5 251.5 531.5 252.5 531.5 253.5 531.5 254.5 530.5 255.5 530.5 256.5 530.5 257.5 529.5 258.5 529.5 259.5 528.5 260.5 528.5 261.5 528.5 262.5 527.5 263.5 527.5 264.5 526.5 265.5 526.5 266.5 526.5 267.5 525.5 268.5 525.5 269.5 525.5 270.5 524.5 271.5 524.5 272.5 524.5 273.5 523.5 274.5 522.5 275.5 522.5 276.5 522.5 277.5 522.5 278.5 521.5 279.5 521.5 280.5 520.5 281.5 520.5 282.5 519.5 283.5 519.5 284.5 519.5 285.5 518.5 286.5 517.5 287.5 518.5 288.5 518.5 289.5 516.5 290.5 516.5 291.5 515.5 292.5 514.5 293.5 515.5 294.5 514.5 295.5 514.5 296.5 514.5 297.5 514.5 298.5 513.5 299.5 512.5 300.5 512.5 301.5 512.5 302.5 512.5 303.5 511.5 304.5 511.5 305.5 509.5 306.5 509.5 307.5 510.5 308.5 509.5 309.5 508.5 310.5 508.5 311.5 507.5 312.5 506.5 313.5 507.5 314.5 507.5 315.5 506.5 316.5 506.5 317.5 505.5 318.5 507.5 319.5 508.5 320.5 507.5 321.5 506.5 322.5 505.5 323.5 503.5 324.5 502.5 325.5 503.5 326.5 503.5 327.5 503.5 328.5 503.5 329.5 504.5 330.5 503.5 331.5 502.5 332.5 502.5 333.5 501.5 334.5 500.5 335.5 502.5 336.5 504.5 337.5 501.5 338.5 499.5 339.5 499.5 340.5 500.5 341.5 501.5 342.5 500.5 343.5 499.5 344.5 499.5 345.5 498.5 346.5 497.5 347.5 498.5 348.5 499.5 349.5 498.5 350.5 498.5 351.5 497.5 352.5 498.5 353.5 498.5 354.5 497.5 355.5 496.5 356.5 496.5 357.5 497.5 358.5 498.5 359.5 498.5 360.5 497.5 361.5 496.5 362.5 497.5 363.5 496.5 364.5 495.5 365.5 496.5 366.5 497.5 367.5 496.5 368.5 495.5 369.5 495.5 370.5 495.5 371.5 495.5 372.5 494.5 373.5 495.5 374.5 496.5 375.5 495.5 376.5 496.5 377.5 496.5 378.5 495.5 379.5 496.5 380.5 495.5 381.5 495.5 382.5 493.5 383.5 494.5 384.5 496.5 385.5 497.5 386.5 495.5 387.5 495.5 388.5 496.5 389.5 495.5 390.5 496.5 391.5 497.5 392.5 496.5 393.5 496.5 394.5 496.5 395.5 495.5 396.5 493.5 397.5 494.5 398.5 495.5 399.5 495.5 400.5 495.5 401.5 495.5 402.5 494.5 403.5 494.5 404.5 496.5 405.5 497.5 406.5 498.5 407.5 497.5 408.5 497.5 409.5 497.5 410.5 495.5 411.5 495.5 412.5 496.5 413.5 496.5 414.5 496.5 415.5 495.5 416.5 497.5 417.5 498.5 418.5 498.5 419.5 497.5 420.5 495.5 421.5 495.5 422.5 497.5 423.5 496.5 424.5 496.5 425.5 497.5 426.5 500.5 427.5 497.5 428.5 496.5 429.5 498.5 430.5 497.5 431.5 498.5 432.5 499.5 433.5 500.5 434.5 499.5 435.5 499.5 436.5 499.5 437.5 498.5 438.5 499.5 439.5 497.5 440.5 498.5 441.5 501.5 442.5 500.5 443.5 499.5 444.5 499.5 445.5 500.5 446.5 501.5 447.5 501.5 448.5 500.5 449.5 501.5 450.5 500.5 451.5 500.5 452.5 501.5 453.5 502.5 454.5 504.5 455.5 504.5 456.5 502.5 457.5 502.5 458.5 503.5 459.5 503.5 460.5 503.5 461.5 504.5 462.5 505.5 463.5 506.5 464.5 506.5 465.5 504.5 466.5 505.5 467.5 506.5 468.5 505.5 469.5 506.5 470.5 507.5 471.5 508.5 472.5 507.5 473.5 507.5 474.5 509.5 475.5 509.5 476.5 509.5 477.5 509.5 478.5 509.5 479.5 509.5 480.5 509.5 481.5 511.5 482.5 512.5 483.5 512.5 484.5 511.5 485.5 511.5 486.5 512.5 487.5 513.5 488.5 513.5 489.5 514.5 490.5 515.5 491.5 516.5 492.5 515.5 493.5 514.5 494.5 515.5 495.5 515.5 496.5 516.5 497.5 517.5 498.5 517.5 499.5 518.5 500.5 518.5 501.5 518.5 502.5 519.5 503.5 519.5 504.5 519.5 505.5 520.5 506.5 520.5 507.5 521.5 508.5 521.5 509.5 521.5 510.5 521.5 511.5 522.5 512.5 523.5 513.5 522.5 514.5 523.5 515.5 524.5 516.5 525.5 517.5 525.5 518.5 525.5 519.5 525.5 520.5 526.5 521.5 527.5 522.5 527.5 523.5 528.5 524.5 528.5 525.5 528.5 526.5 528.5 527.5 529.5 528.5 529.5 529.5 529.5 530.5 530.5 531.5 530.5 532.5 530.5 533.5 531.5 534.5 532.5 535.5 532.5 536.5 532.5 537.5 532.5 538.5 533.5 539.5 533.5 540.5 534.5 541.5 534.5 542.5 534.5 543.5 535.5 544.5 535.5 545.5 535.5 546.5 536.5 547.5 536.5 548.5 536.5 549.5 537.5 550.5 537.5 551.5 537.5 552.5 537.5 553.5 538.5 554.5 538.5 555.5 538.5 556.5 539.5 557.5 539.5 558.5 539.5" fill="none" stroke="#d6b242" stroke-width="1" shape-rendering="crispEdges"/>
<path d="M431.5 498.5 432.5 499.5 433.5 500.5 434.5 499.5 435.5 499.5 436.5 499.5 437.5 498.5" fill="none" stroke="#a8d0b0" stroke-width="1" shape-rendering="crispEdges"/>
<path d="M325.5 503.5 326.5 503.5 327.5 503.5 328.5 503.5 329.5 504.5 330.5 503.5 331.5 502.5 332.5 502.5 333.5 501.5" fill="none" stroke="#e89a36" stroke-width="1" shape-rendering="crispEdges"/>
<path d="M539.5 533.5 540.5 534.5 541.5 534.5 542.5 534.5 543.5 535.5 544.5 535.5 545.5 535.5 546.5 536.5 547.5 536.5 548.5 536.5" fill="none" stroke="#e2a040" stroke-width="1" shape-rendering="crispEdges"/>
<path d="M374.5 496.5 375.5 495.5 376.5 496.5 377.5 496.5 378.5 495.5 379.5 496.5 380.5 495.5" fill="none" stroke="#a8d0b0" stroke-width="1" shape-rendering="crispEdges"/>
<path d="M451.5 500.5 452.5 501.5 453.5 502.5 454.5 504.5 455.5 504.5 456.5 502.5 457.5 502.5 458.5 503.5" fill="none" stroke="#a8d0b0" stroke-width="1" shape-rendering="crispEdges"/>
<path d="M317.5 505.5 318.5 507.5 319.5 508.5 320.5 507.5 321.5 506.5 322.5 505.5 323.5 503.5" fill="none" stroke="#e89a36" stroke-width="1" shape-rendering="crispEdges"/>
<path d="M353.5 498.5 354.5 497.5 355.5 496.5 356.5 496.5 357.5 497.5 358.5 498.5 359.5 498.5 360.5 497.5" fill="none" stroke="#c9c64e" stroke-width="1" shape-rendering="crispEdges"/>
<path d="M313.5 507.5 314.5 507.5 315.5 506.5 316.5 506.5 317.5 505.5 318.5 507.5 319.5 508.5 320.5 507.5 321.5 506.5 322.5 505.5" fill="none" stroke="#c9c64e" stroke-width="1" shape-rendering="crispEdges"/>
<path d="M436.5 499.5 437.5 498.5 438.5 499.5 439.5 497.5 440.5 498.5 441.5 501.5 442.5 500.5" fill="none" stroke="#a8d0b0" stroke-width="1" shape-rendering="crispEdges"/>
<path d="M360.5 497.5 361.5 496.5 362.5 497.5 363.5 496.5 364.5 495.5 365.5 496.5" fill="none" stroke="#e89a36" stroke-width="1" shape-rendering="crispEdges"/>
<path d="M457.5 502.5 458.5 503.5 459.5 503.5 460.5 503.5 461.5 504.5 462.5 505.5 463.5 506.5 464.5 506.5" fill="none" stroke="#e89a36" stroke-width="1" shape-rendering="crispEdges"/>
<path d="M312.5 506.5 313.5 507.5 314.5 507.5 315.5 506.5 316.5 506.5 317.5 505.5 318.5 507.5" fill="none" stroke="#b7c258" stroke-width="1" shape-rendering="crispEdges"/>
<path d="M494.5 515.5 495.5 515.5 496.5 516.5" fill="none" stroke="#c9c64e" stroke-width="1" shape-rendering="crispEdges"/>
<path d="M262.5 527.5 263.5 527.5 264.5 526.5 265.5 526.5 266.5 526.5 267.5 525.5 268.5 525.5 269.5 525.5 270.5 524.5" fill="none" stroke="#c9c64e" stroke-width="1" shape-rendering="crispEdges"/>
<path d="M512.5 523.5 513.5 522.5 514.5 523.5 515.5 524.5" fill="none" stroke="#e2a040" stroke-width="1" shape-rendering="crispEdges"/>
<path d="M454.5 504.5 455.5 504.5 456.5 502.5 457.5 502.5 458.5 503.5 459.5 503.5" fill="none" stroke="#e89a36" stroke-width="1" shape-rendering="crispEdges"/>
<g shape-rendering="crispEdges">
<rect x="287" y="518" width="2" height="1" fill="#111"/>
<rect x="330" y="503" width="1" height="1" fill="#000"/>
<rect x="359" y="498" width="1" height="1" fill="#000"/>
<rect x="408" y="497" width="2" height="1" fill="#000"/>
<rect x="355" y="496" width="1" height="1" fill="#222"/>
<rect x="431" y="498" width="2" height="1" fill="#000"/>
<rect x="385" y="497" width="1" height="1" fill="#000"/>
<rect x="526" y="528" width="2" height="1" fill="#4a8a40"/>
<rect x="450" y="500" width="2" height="1" fill="#6ab0a8"/>
<rect x="416" y="497" width="1" height="1" fill="#000"/>
<rect x="513" y="522" width="1" height="1" fill="#222"/>
<rect x="392" y="496" width="2" height="1" fill="#111"/>
<rect x="507" y="521" width="1" height="1" fill="#111"/>
<rect x="284" y="519" width="1" height="1" fill="#000"/>
<rect x="489" y="514" width="2" height="1" fill="#000"/>
<rect x="304" y="511" width="2" height="1" fill="#111"/>
<rect x="376" y="496" width="2" height="1" fill="#000"/>
<rect x="499" y="518" width="1" height="1" fill="#6ab0a8"/>
<rect x="530" y="530" width="2" height="1" fill="#000"/>
<rect x="433" y="500" width="1" height="1" fill="#000"/>
<rect x="425" y="497" width="1" height="1" fill="#000"/>
<rect x="458" y="503" width="1" height="1" fill="#111"/>
<rect x="481" y="511" width="1" height="1" fill="#6ab0a8"/>
<rect x="364" y="495" width="1" height="1" fill="#000"/>
</g>
<g shape-rendering="crispEdges" fill="#000">
<rect x="156" y="493" width="1" height="68"/>
<rect x="156" y="560" width="403" height="1"/>
<rect x="156" y="502" width="5" height="1"/>
<rect x="156" y="523" width="5" height="1"/>
<rect x="156" y="544" width="5" height="1"/>
<rect x="158" y="555" width="1" height="5"/>
<rect x="284" y="555" width="1" height="5"/>
<rect x="410" y="555" width="1" height="5"/>
<rect x="537" y="555" width="1" height="5"/>
</g>
<g shape-rendering="crispEdges" stroke="#000" stroke-width="1" stroke-dasharray="1 4" fill="none">
<path d="M686 542.5H1087"/>
<path d="M684 520.5H1087"/>
<path d="M687 497.5H1087"/>
<path d="M686.5 561V494"/>
<path d="M813.5 558V494"/>
<path d="M939.5 560V494"/>
<path d="M1065.5 557V494"/>
</g>
<path d="M684.5 560.5 685.5 559.5 686.5 559.5 687.5 559.5 688.5 559.5 689.5 558.5 690.5 558.5 691.5 558.5 692.5 558.5 693.5 558.5 694.5 557.5 695.5 557.5 696.5 557.5 697.5 557.5 698.5 557.5 699.5 557.5 700.5 556.5 701.5 556.5 702.5 556.5 703.5 556.5 704.5 556.5 705.5 555.5 706.5 555.5 707.5 555.5 708.5 555.5 709.5 554.5 710.5 554.5 711.5 554.5 712.5 554.5 713.5 554.5 714.5 553.5 715.5 553.5 716.5 553.5 717.5 553.5 718.5 553.5 719.5 552.5 720.5 552.5 721.5 552.5 722.5 552.5 723.5 551.5 724.5 551.5 725.5 551.5 726.5 551.5 727.5 550.5 728.5 550.5 729.5 550.5 730.5 550.5 731.5 549.5 732.5 549.5 733.5 549.5 734.5 548.5 735.5 548.5 736.5 548.5 737.5 547.5 738.5 547.5 739.5 547.5 740.5 547.5 741.5 546.5 742.5 546.5 743.5 546.5 744.5 545.5 745.5 545.5 746.5 544.5 747.5 544.5 748.5 544.5 749.5 543.5 750.5 543.5 751.5 543.5 752.5 542.5 753.5 542.5 754.5 542.5 755.5 541.5 756.5 541.5 757.5 540.5 758.5 540.5 759.5 540.5 760.5 539.5 761.5 539.5 762.5 538.5 763.5 538.5 764.5 538.5 765.5 537.5 766.5 537.5 767.5 536.5 768.5 536.5 769.5 536.5 770.5 535.5 771.5 535.5 772.5 534.5 773.5 534.5 774.5 534.5 775.5 533.5 776.5 533.5 777.5 532.5 778.5 531.5 779.5 531.5 780.5 531.5 781.5 530.5 782.5 530.5 783.5 529.5 784.5 529.5 785.5 529.5 786.5 528.5 787.5 528.5 788.5 527.5 789.5 527.5 790.5 526.5 791.5 526.5 792.5 526.5 793.5 525.5 794.5 525.5 795.5 525.5 796.5 524.5 797.5 524.5 798.5 523.5 799.5 522.5 800.5 522.5 801.5 522.5 802.5 522.5 803.5 522.5 804.5 521.5 805.5 521.5 806.5 520.5 807.5 520.5 808.5 519.5 809.5 519.5 810.5 518.5 811.5 517.5 812.5 518.5 813.5 518.5 814.5 516.5 815.5 515.5 816.5 516.5 817.5 516.5 818.5 516.5 819.5 516.5 820.5 514.5 821.5 515.5 822.5 515.5 823.5 514.5 824.5 513.5 825.5 513.5 826.5 514.5 827.5 513.5 828.5 513.5 829.5 512.5 830.5 511.5 831.5 511.5 832.5 511.5 833.5 510.5 834.5 510.5 835.5 510.5 836.5 509.5 837.5 508.5 838.5 508.5 839.5 508.5 840.5 507.5 841.5 507.5 842.5 507.5 843.5 506.5 844.5 508.5 845.5 506.5 846.5 505.5 847.5 505.5 848.5 505.5 849.5 505.5 850.5 505.5 851.5 506.5 852.5 505.5 853.5 503.5 854.5 503.5 855.5 504.5 856.5 504.5 857.5 504.5 858.5 503.5 859.5 502.5 860.5 502.5 861.5 502.5 862.5 502.5 863.5 503.5 864.5 501.5 865.5 500.5 866.5 500.5 867.5 501.5 868.5 501.5 869.5 500.5 870.5 498.5 871.5 497.5 872.5 497.5 873.5 499.5 874.5 499.5 875.5 501.5 876.5 499.5 877.5 500.5 878.5 500.5 879.5 499.5 880.5 498.5 881.5 497.5 882.5 496.5 883.5 496.5 884.5 497.5 885.5 497.5 886.5 496.5 887.5 497.5 888.5 497.5 889.5 496.5 890.5 496.5 891.5 495.5 892.5 496.5 893.5 497.5 894.5 496.5 895.5 496.5 896.5 496.5 897.5 495.5 898.5 496.5 899.5 496.5 900.5 495.5 901.5 496.5 902.5 497.5 903.5 496.5 904.5 495.5 905.5 496.5 906.5 496.5 907.5 494.5 908.5 495.5 909.5 496.5 910.5 497.5 911.5 496.5 912.5 495.5 913.5 495.5 914.5 496.5 915.5 495.5 916.5 495.5 917.5 496.5 918.5 494.5 919.5 494.5 920.5 496.5 921.5 496.5 922.5 495.5 923.5 495.5 924.5 495.5 925.5 496.5 926.5 496.5 927.5 496.5 928.5 496.5 929.5 496.5 930.5 495.5 931.5 496.5 932.5 497.5 933.5 497.5 934.5 497.5 935.5 496.5 936.5 495.5 937.5 495.5 938.5 495.5 939.5 496.5 940.5 496.5 941.5 496.5 942.5 497.5 943.5 497.5 944.5 498.5 945.5 498.5 946.5 498.5 947.5 499.5 948.5 499.5 949.5 498.5 950.5 495.5 951.5 497.5 952.5 499.5 953.5 499.5 954.5 497.5 955.5 498.5 956.5 498.5 957.5 497.5 958.5 500.5 959.5 500.5 960.5 498.5 961.5 499.5 962.5 501.5 963.5 501.5 964.5 499.5 965.5 499.5 966.5 502.5 967.5 501.5 968.5 500.5 969.5 501.5 970.5 501.5 971.5 501.5 972.5 502.5 973.5 502.5 974.5 501.5 975.5 501.5 976.5 503.5 977.5 501.5 978.5 501.5 979.5 502.5 980.5 502.5 981.5 503.5 982.5 504.5 983.5 503.5 984.5 503.5 985.5 503.5 986.5 504.5 987.5 504.5 988.5 504.5 989.5 505.5 990.5 505.5 991.5 506.5 992.5 507.5 993.5 507.5 994.5 506.5 995.5 505.5 996.5 507.5 997.5 507.5 998.5 507.5 999.5 507.5 1000.5 507.5 1001.5 507.5 1002.5 507.5 1003.5 507.5 1004.5 509.5 1005.5 511.5 1006.5 511.5 1007.5 510.5 1008.5 511.5 1009.5 511.5 1010.5 512.5 1011.5 512.5 1012.5 511.5 1013.5 512.5 1014.5 513.5 1015.5 515.5 1016.5 514.5 1017.5 514.5 1018.5 514.5 1019.5 515.5 1020.5 516.5 1021.5 515.5 1022.5 515.5 1023.5 516.5 1024.5 515.5 1025.5 517.5 1026.5 518.5 1027.5 518.5 1028.5 518.5 1029.5 519.5 1030.5 519.5 1031.5 519.5 1032.5 520.5 1033.5 521.5 1034.5 521.5 1035.5 521.5 1036.5 521.5 1037.5 522.5 1038.5 522.5 1039.5 523.5 1040.5 523.5 1041.5 524.5 1042.5 524.5 1043.5 524.5 1044.5 525.5 1045.5 526.5 1046.5 526.5 1047.5 527.5 1048.5 527.5 1049.5 527.5 1050.5 528.5 1051.5 528.5 1052.5 528.5 1053.5 528.5 1054.5 529.5 1055.5 530.5 1056.5 530.5 1057.5 530.5 1058.5 530.5 1059.5 531.5 1060.5 531.5 1061.5 531.5 1062.5 532.5 1063.5 532.5 1064.5 533.5 1065.5 533.5 1066.5 533.5 1067.5 534.5 1068.5 534.5 1069.5 534.5 1070.5 535.5 1071.5 535.5 1072.5 535.5 1073.5 536.5 1074.5 536.5 1075.5 536.5 1076.5 537.5 1077.5 537.5 1078.5 537.5 1079.5 537.5 1080.5 538.5 1081.5 538.5 1082.5 538.5 1083.5 538.5 1084.5 539.5 1085.5 539.5 1086.5 539.5" fill="none" stroke="#fffab0" stroke-width="3" stroke-opacity="0.65" stroke-linejoin="round"/>
<g shape-rendering="crispEdges">
<path d="M785.5 528.5 786.5 527.5" fill="none" stroke="#000" stroke-width="1"/>
<path d="M817.5 516.5 818.5 516.5" fill="none" stroke="#000" stroke-width="1"/>
<path d="M1045.5 525.5 1046.5 525.5 1047.5 526.5" fill="none" stroke="#111" stroke-width="1"/>
<path d="M1059.5 532.5 1060.5 532.5 1061.5 532.5 1062.5 533.5" fill="none" stroke="#000" stroke-width="1"/>
<path d="M894.5 496.5 895.5 496.5 896.5 496.5" fill="none" stroke="#6ab0a8" stroke-width="1"/>
<path d="M861.5 502.5 862.5 502.5" fill="none" stroke="#6ab0a8" stroke-width="1"/>
<path d="M1028.5 519.5 1029.5 520.5" fill="none" stroke="#111" stroke-width="1"/>
<path d="M963.5 501.5 964.5 499.5 965.5 499.5" fill="none" stroke="#4a8a40" stroke-width="1"/>
<path d="M1060.5 531.5 1061.5 531.5 1062.5 532.5 1063.5 532.5" fill="none" stroke="#111" stroke-width="1"/>
<path d="M943.5 497.5 944.5 498.5" fill="none" stroke="#222" stroke-width="1"/>
<path d="M851.5 505.5 852.5 504.5 853.5 502.5" fill="none" stroke="#222" stroke-width="1"/>
<path d="M933.5 497.5 934.5 497.5" fill="none" stroke="#4a8a40" stroke-width="1"/>
<path d="M957.5 498.5 958.5 501.5 959.5 501.5 960.5 499.5" fill="none" stroke="#4a8a40" stroke-width="1"/>
<path d="M935.5 497.5 936.5 496.5 937.5 496.5 938.5 496.5" fill="none" stroke="#000" stroke-width="1"/>
<path d="M839.5 508.5 840.5 507.5 841.5 507.5 842.5 507.5" fill="none" stroke="#000" stroke-width="1"/>
<path d="M820.5 515.5 821.5 516.5 822.5 516.5" fill="none" stroke="#222" stroke-width="1"/>
<path d="M849.5 505.5 850.5 505.5" fill="none" stroke="#222" stroke-width="1"/>
<path d="M1075.5 536.5 1076.5 537.5 1077.5 537.5" fill="none" stroke="#222" stroke-width="1"/>
<path d="M899.5 497.5 900.5 496.5 901.5 497.5 902.5 498.5" fill="none" stroke="#222" stroke-width="1"/>
<path d="M1054.5 529.5 1055.5 530.5 1056.5 530.5" fill="none" stroke="#000" stroke-width="1"/>
<path d="M784.5 529.5 785.5 529.5" fill="none" stroke="#6ab0a8" stroke-width="1"/>
<path d="M1004.5 510.5 1005.5 512.5 1006.5 512.5 1007.5 511.5" fill="none" stroke="#4a8a40" stroke-width="1"/>
<path d="M988.5 504.5 989.5 505.5" fill="none" stroke="#000" stroke-width="1"/>
<path d="M840.5 507.5 841.5 507.5 842.5 507.5 843.5 506.5" fill="none" stroke="#222" stroke-width="1"/>
<path d="M959.5 500.5 960.5 498.5 961.5 499.5" fill="none" stroke="#000" stroke-width="1"/>
<path d="M800.5 522.5 801.5 522.5 802.5 522.5 803.5 522.5" fill="none" stroke="#000" stroke-width="1"/>
<path d="M960.5 499.5 961.5 500.5 962.5 502.5 963.5 502.5" fill="none" stroke="#000" stroke-width="1"/>
<path d="M966.5 503.5 967.5 502.5 968.5 501.5 969.5 502.5" fill="none" stroke="#000" stroke-width="1"/>
<path d="M891.5 496.5 892.5 497.5" fill="none" stroke="#000" stroke-width="1"/>
<path d="M976.5 503.5 977.5 501.5 978.5 501.5" fill="none" stroke="#222" stroke-width="1"/>
</g>
<path d="M684.5 560.5 685.5 559.5 686.5 559.5 687.5 559.5 688.5 559.5 689.5 558.5 690.5 558.5 691.5 558.5 692.5 558.5 693.5 558.5 694.5 557.5 695.5 557.5 696.5 557.5 697.5 557.5 698.5 557.5 699.5 557.5 700.5 556.5 701.5 556.5 702.5 556.5 703.5 556.5 704.5 556.5 705.5 555.5 706.5 555.5 707.5 555.5 708.5 555.5 709.5 554.5 710.5 554.5 711.5 554.5 712.5 554.5 713.5 554.5 714.5 553.5 715.5 553.5 716.5 553.5 717.5 553.5 718.5 553.5 719.5 552.5 720.5 552.5 721.5 552.5 722.5 552.5 723.5 551.5 724.5 551.5 725.5 551.5 726.5 551.5 727.5 550.5 728.5 550.5 729.5 550.5 730.5 550.5 731.5 549.5 732.5 549.5 733.5 549.5 734.5 548.5 735.5 548.5 736.5 548.5 737.5 547.5 738.5 547.5 739.5 547.5 740.5 547.5 741.5 546.5 742.5 546.5 743.5 546.5 744.5 545.5 745.5 545.5 746.5 544.5 747.5 544.5 748.5 544.5 749.5 543.5 750.5 543.5 751.5 543.5 752.5 542.5 753.5 542.5 754.5 542.5 755.5 541.5 756.5 541.5 757.5 540.5 758.5 540.5 759.5 540.5 760.5 539.5 761.5 539.5 762.5 538.5 763.5 538.5 764.5 538.5 765.5 537.5 766.5 537.5 767.5 536.5 768.5 536.5 769.5 536.5 770.5 535.5 771.5 535.5 772.5 534.5 773.5 534.5 774.5 534.5 775.5 533.5 776.5 533.5 777.5 532.5 778.5 531.5 779.5 531.5 780.5 531.5 781.5 530.5 782.5 530.5 783.5 529.5 784.5 529.5 785.5 529.5 786.5 528.5 787.5 528.5 788.5 527.5 789.5 527.5 790.5 526.5 791.5 526.5 792.5 526.5 793.5 525.5 794.5 525.5 795.5 525.5 796.5 524.5 797.5 524.5 798.5 523.5 799.5 522.5 800.5 522.5 801.5 522.5 802.5 522.5 803.5 522.5 804.5 521.5 805.5 521.5 806.5 520.5 807.5 520.5 808.5 519.5 809.5 519.5 810.5 518.5 811.5 517.5 812.5 518.5 813.5 518.5 814.5 516.5 815.5 515.5 816.5 516.5 817.5 516.5 818.5 516.5 819.5 516.5 820.5 514.5 821.5 515.5 822.5 515.5 823.5 514.5 824.5 513.5 825.5 513.5 826.5 514.5 827.5 513.5 828.5 513.5 829.5 512.5 830.5 511.5 831.5 511.5 832.5 511.5 833.5 510.5 834.5 510.5 835.5 510.5 836.5 509.5 837.5 508.5 838.5 508.5 839.5 508.5 840.5 507.5 841.5 507.5 842.5 507.5 843.5 506.5 844.5 508.5 845.5 506.5 846.5 505.5 847.5 505.5 848.5 505.5 849.5 505.5 850.5 505.5 851.5 506.5 852.5 505.5 853.5 503.5 854.5 503.5 855.5 504.5 856.5 504.5 857.5 504.5 858.5 503.5 859.5 502.5 860.5 502.5 861.5 502.5 862.5 502.5 863.5 503.5 864.5 501.5 865.5 500.5 866.5 500.5 867.5 501.5 868.5 501.5 869.5 500.5 870.5 498.5 871.5 497.5 872.5 497.5 873.5 499.5 874.5 499.5 875.5 501.5 876.5 499.5 877.5 500.5 878.5 500.5 879.5 499.5 880.5 498.5 881.5 497.5 882.5 496.5 883.5 496.5 884.5 497.5 885.5 497.5 886.5 496.5 887.5 497.5 888.5 497.5 889.5 496.5 890.5 496.5 891.5 495.5 892.5 496.5 893.5 497.5 894.5 496.5 895.5 496.5 896.5 496.5 897.5 495.5 898.5 496.5 899.5 496.5 900.5 495.5 901.5 496.5 902.5 497.5 903.5 496.5 904.5 495.5 905.5 496.5 906.5 496.5 907.5 494.5 908.5 495.5 909.5 496.5 910.5 497.5 911.5 496.5 912.5 495.5 913.5 495.5 914.5 496.5 915.5 495.5 916.5 495.5 917.5 496.5 918.5 494.5 919.5 494.5 920.5 496.5 921.5 496.5 922.5 495.5 923.5 495.5 924.5 495.5 925.5 496.5 926.5 496.5 927.5 496.5 928.5 496.5 929.5 496.5 930.5 495.5 931.5 496.5 932.5 497.5 933.5 497.5 934.5 497.5 935.5 496.5 936.5 495.5 937.5 495.5 938.5 495.5 939.5 496.5 940.5 496.5 941.5 496.5 942.5 497.5 943.5 497.5 944.5 498.5 945.5 498.5 946.5 498.5 947.5 499.5 948.5 499.5 949.5 498.5 950.5 495.5 951.5 497.5 952.5 499.5 953.5 499.5 954.5 497.5 955.5 498.5 956.5 498.5 957.5 497.5 958.5 500.5 959.5 500.5 960.5 498.5 961.5 499.5 962.5 501.5 963.5 501.5 964.5 499.5 965.5 499.5 966.5 502.5 967.5 501.5 968.5 500.5 969.5 501.5 970.5 501.5 971.5 501.5 972.5 502.5 973.5 502.5 974.5 501.5 975.5 501.5 976.5 503.5 977.5 501.5 978.5 501.5 979.5 502.5 980.5 502.5 981.5 503.5 982.5 504.5 983.5 503.5 984.5 503.5 985.5 503.5 986.5 504.5 987.5 504.5 988.5 504.5 989.5 505.5 990.5 505.5 991.5 506.5 992.5 507.5 993.5 507.5 994.5 506.5 995.5 505.5 996.5 507.5 997.5 507.5 998.5 507.5 999.5 507.5 1000.5 507.5 1001.5 507.5 1002.5 507.5 1003.5 507.5 1004.5 509.5 1005.5 511.5 1006.5 511.5 1007.5 510.5 1008.5 511.5 1009.5 511.5 1010.5 512.5 1011.5 512.5 1012.5 511.5 1013.5 512.5 1014.5 513.5 1015.5 515.5 1016.5 514.5 1017.5 514.5 1018.5 514.5 1019.5 515.5 1020.5 516.5 1021.5 515.5 1022.5 515.5 1023.5 516.5 1024.5 515.5 1025.5 517.5 1026.5 518.5 1027.5 518.5 1028.5 518.5 1029.5 519.5 1030.5 519.5 1031.5 519.5 1032.5 520.5 1033.5 521.5 1034.5 521.5 1035.5 521.5 1036.5 521.5 1037.5 522.5 1038.5 522.5 1039.5 523.5 1040.5 523.5 1041.5 524.5 1042.5 524.5 1043.5 524.5 1044.5 525.5 1045.5 526.5 1046.5 526.5 1047.5 527.5 1048.5 527.5 1049.5 527.5 1050.5 528.5 1051.5 528.5 1052.5 528.5 1053.5 528.5 1054.5 529.5 1055.5 530.5 1056.5 530.5 1057.5 530.5 1058.5 530.5 1059.5 531.5 1060.5 531.5 1061.5 531.5 1062.5 532.5 1063.5 532.5 1064.5 533.5 1065.5 533.5 1066.5 533.5 1067.5 534.5 1068.5 534.5 1069.5 534.5 1070.5 535.5 1071.5 535.5 1072.5 535.5 1073.5 536.5 1074.5 536.5 1075.5 536.5 1076.5 537.5 1077.5 537.5 1078.5 537.5 1079.5 537.5 1080.5 538.5 1081.5 538.5 1082.5 538.5 1083.5 538.5 1084.5 539.5 1085.5 539.5 1086.5 539.5" fill="none" stroke="#d6b242" stroke-width="1" shape-rendering="crispEdges"/>
<path d="M928.5 496.5 929.5 496.5 930.5 495.5 931.5 496.5 932.5 497.5 933.5 497.5 934.5 497.5 935.5 496.5 936.5 495.5 937.5 495.5" fill="none" stroke="#e89a36" stroke-width="1" shape-rendering="crispEdges"/>
<path d="M1022.5 515.5 1023.5 516.5 1024.5 515.5 1025.5 517.5" fill="none" stroke="#e89a36" stroke-width="1" shape-rendering="crispEdges"/>
<path d="M840.5 507.5 841.5 507.5 842.5 507.5" fill="none" stroke="#b7c258" stroke-width="1" shape-rendering="crispEdges"/>
<path d="M828.5 513.5 829.5 512.5 830.5 511.5 831.5 511.5 832.5 511.5 833.5 510.5 834.5 510.5 835.5 510.5" fill="none" stroke="#e89a36" stroke-width="1" shape-rendering="crispEdges"/>
<path d="M896.5 496.5 897.5 495.5 898.5 496.5 899.5 496.5 900.5 495.5 901.5 496.5 902.5 497.5" fill="none" stroke="#e89a36" stroke-width="1" shape-rendering="crispEdges"/>
<path d="M1039.5 523.5 1040.5 523.5 1041.5 524.5 1042.5 524.5 1043.5 524.5 1044.5 525.5 1045.5 526.5 1046.5 526.5 1047.5 527.5" fill="none" stroke="#e2a040" stroke-width="1" shape-rendering="crispEdges"/>
<path d="M983.5 503.5 984.5 503.5 985.5 503.5 986.5 504.5 987.5 504.5 988.5 504.5 989.5 505.5 990.5 505.5 991.5 506.5 992.5 507.5" fill="none" stroke="#c9c64e" stroke-width="1" shape-rendering="crispEdges"/>
<path d="M795.5 525.5 796.5 524.5 797.5 524.5 798.5 523.5 799.5 522.5" fill="none" stroke="#b7c258" stroke-width="1" shape-rendering="crispEdges"/>
<path d="M1023.5 516.5 1024.5 515.5 1025.5 517.5 1026.5 518.5 1027.5 518.5 1028.5 518.5 1029.5 519.5 1030.5 519.5 1031.5 519.5 1032.5 520.5" fill="none" stroke="#e2a040" stroke-width="1" shape-rendering="crispEdges"/>
<path d="M824.5 513.5 825.5 513.5 826.5 514.5 827.5 513.5 828.5 513.5 829.5 512.5 830.5 511.5 831.5 511.5 832.5 511.5" fill="none" stroke="#e89a36" stroke-width="1" shape-rendering="crispEdges"/>
<path d="M1002.5 507.5 1003.5 507.5 1004.5 509.5 1005.5 511.5 1006.5 511.5 1007.5 510.5 1008.5 511.5 1009.5 511.5 1010.5 512.5 1011.5 512.5" fill="none" stroke="#a8d0b0" stroke-width="1" shape-rendering="crispEdges"/>
<path d="M1012.5 511.5 1013.5 512.5 1014.5 513.5 1015.5 515.5 1016.5 514.5" fill="none" stroke="#a8d0b0" stroke-width="1" shape-rendering="crispEdges"/>
<path d="M918.5 494.5 919.5 494.5 920.5 496.5 921.5 496.5 922.5 495.5" fill="none" stroke="#e89a36" stroke-width="1" shape-rendering="crispEdges"/>
<path d="M1015.5 515.5 1016.5 514.5 1017.5 514.5 1018.5 514.5 1019.5 515.5 1020.5 516.5 1021.5 515.5 1022.5 515.5 1023.5 516.5" fill="none" stroke="#a8d0b0" stroke-width="1" shape-rendering="crispEdges"/>
<path d="M863.5 503.5 864.5 501.5 865.5 500.5" fill="none" stroke="#e89a36" stroke-width="1" shape-rendering="crispEdges"/>
<path d="M792.5 526.5 793.5 525.5 794.5 525.5 795.5 525.5 796.5 524.5 797.5 524.5 798.5 523.5" fill="none" stroke="#e2a040" stroke-width="1" shape-rendering="crispEdges"/>
<g shape-rendering="crispEdges">
<rect x="785" y="529" width="2" height="1" fill="#111"/>
<rect x="817" y="516" width="1" height="1" fill="#000"/>
<rect x="1045" y="526" width="1" height="1" fill="#000"/>
<rect x="1059" y="531" width="2" height="1" fill="#000"/>
<rect x="894" y="496" width="1" height="1" fill="#000"/>
<rect x="861" y="502" width="2" height="1" fill="#000"/>
<rect x="1028" y="518" width="2" height="1" fill="#222"/>
<rect x="963" y="501" width="1" height="1" fill="#000"/>
<rect x="1060" y="531" width="2" height="1" fill="#111"/>
<rect x="943" y="497" width="1" height="1" fill="#000"/>
<rect x="851" y="506" width="1" height="1" fill="#111"/>
<rect x="933" y="497" width="1" height="1" fill="#000"/>
<rect x="957" y="497" width="1" height="1" fill="#222"/>
<rect x="935" y="496" width="1" height="1" fill="#000"/>
<rect x="839" y="508" width="2" height="1" fill="#000"/>
<rect x="820" y="514" width="2" height="1" fill="#000"/>
<rect x="849" y="505" width="1" height="1" fill="#4a8a40"/>
<rect x="1075" y="536" width="2" height="1" fill="#000"/>
<rect x="899" y="496" width="2" height="1" fill="#222"/>
<rect x="1054" y="529" width="1" height="1" fill="#000"/>
<rect x="784" y="529" width="2" height="1" fill="#6ab0a8"/>
<rect x="1004" y="509" width="2" height="1" fill="#000"/>
<rect x="988" y="504" width="1" height="1" fill="#222"/>
<rect x="840" y="507" width="2" height="1" fill="#000"/>
</g>
<g shape-rendering="crispEdges" fill="#000">
<rect x="684" y="493" width="1" height="68"/>
<rect x="684" y="560" width="403" height="1"/>
<rect x="684" y="497" width="5" height="1"/>
<rect x="684" y="520" width="5" height="1"/>
<rect x="684" y="542" width="5" height="1"/>
<rect x="686" y="555" width="1" height="5"/>
<rect x="813" y="555" width="1" height="5"/>
<rect x="939" y="555" width="1" height="5"/>
<rect x="1065" y="555" width="1" height="5"/>
</g>
<g shape-rendering="crispEdges" stroke="#000" stroke-width="1" stroke-dasharray="1 4" fill="none">
<path d="M158 752.5H559"/>
<path d="M156 742.5H559"/>
<path d="M159 732.5H559"/>
<path d="M157 723.5H559"/>
<path d="M160 713.5H559"/>
<path d="M158 703.5H559"/>
<path d="M156 693.5H559"/>
<path d="M158.5 758V691"/>
<path d="M284.5 755V691"/>
<path d="M410.5 757V691"/>
<path d="M537.5 754V691"/>
</g>
<path d="M156.5 756.5 157.5 756.5 158.5 756.5 159.5 756.5 160.5 756.5 161.5 755.5 162.5 755.5 163.5 755.5 164.5 755.5 165.5 755.5 166.5 754.5 167.5 754.5 168.5 754.5 169.5 754.5 170.5 754.5 171.5 753.5 172.5 753.5 173.5 753.5 174.5 753.5 175.5 753.5 176.5 753.5 177.5 752.5 178.5 752.5 179.5 752.5 180.5 752.5 181.5 752.5 182.5 752.5 183.5 751.5 184.5 751.5 185.5 751.5 186.5 751.5 187.5 751.5 188.5 750.5 189.5 750.5 190.5 750.5 191.5 750.5 192.5 749.5 193.5 749.5 194.5 749.5 195.5 748.5 196.5 748.5 197.5 748.5 198.5 748.5 199.5 747.5 200.5 747.5 201.5 747.5 202.5 746.5 203.5 746.5 204.5 746.5 205.5 745.5 206.5 745.5 207.5 745.5 208.5 744.5 209.5 744.5 210.5 743.5 211.5 743.5 212.5 743.5 213.5 742.5 214.5 742.5 215.5 742.5 216.5 741.5 217.5 741.5 218.5 741.5 219.5 740.5 220.5 740.5 221.5 739.5 222.5 739.5 223.5 739.5 224.5 738.5 225.5 738.5 226.5 737.5 227.5 737.5 228.5 737.5 229.5 736.5 230.5 736.5 231.5 735.5 232.5 735.5 233.5 735.5 234.5 734.5 235.5 734.5 236.5 733.5 237.5 733.5 238.5 733.5 239.5 732.5 240.5 732.5 241.5 731.5 242.5 731.5 243.5 731.5 244.5 730.5 245.5 730.5 246.5 730.5 247.5 729.5 248.5 728.5 249.5 728.5 250.5 728.5 251.5 727.5 252.5 727.5 253.5 727.5 254.5 726.5 255.5 725.5 256.5 725.5 257.5 725.5 258.5 724.5 259.5 724.5 260.5 723.5 261.5 723.5 262.5 723.5 263.5 723.5 264.5 722.5 265.5 722.5 266.5 722.5 267.5 722.5 268.5 721.5 269.5 721.5 270.5 720.5 271.5 719.5 272.5 719.5 273.5 719.5 274.5 718.5 275.5 718.5 276.5 718.5 277.5 718.5 278.5 717.5 279.5 717.5 280.5 716.5 281.5 716.5 282.5 715.5 283.5 715.5 284.5 715.5 285.5 715.5 286.5 715.5 287.5 714.5 288.5 714.5 289.5 714.5 290.5 713.5 291.5 712.5 292.5 712.5 293.5 713.5 294.5 711.5 295.5 712.5 296.5 712.5 297.5 711.5 298.5 711.5 299.5 710.5 300.5 709.5 301.5 710.5 302.5 709.5 303.5 708.5 304.5 707.5 305.5 708.5 306.5 708.5 307.5 707.5 308.5 706.5 309.5 705.5 310.5 705.5 311.5 705.5 312.5 704.5 313.5 704.5 314.5 704.5 315.5 703.5 316.5 703.5 317.5 703.5 318.5 703.5 319.5 703.5 320.5 703.5 321.5 701.5 322.5 702.5 323.5 702.5 324.5 701.5 325.5 700.5 326.5 700.5 327.5 700.5 328.5 700.5 329.5 699.5 330.5 699.5 331.5 699.5 332.5 699.5 333.5 698.5 334.5 699.5 335.5 699.5 336.5 699.5 337.5 700.5 338.5 697.5 339.5 696.5 340.5 695.5 341.5 696.5 342.5 698.5 343.5 695.5 344.5 696.5 345.5 697.5 346.5 696.5 347.5 694.5 348.5 694.5 349.5 695.5 350.5 695.5 351.5 692.5 352.5 691.5 353.5 693.5 354.5 694.5 355.5 695.5 356.5 692.5 357.5 691.5 358.5 694.5 359.5 695.5 360.5 693.5 361.5 691.5 362.5 693.5 363.5 694.5 364.5 691.5 365.5 690.5 366.5 693.5 367.5 694.5 368.5 693.5 369.5 693.5 370.5 692.5 371.5 692.5 372.5 691.5 373.5 693.5 374.5 694.5 375.5 691.5 376.5 692.5 377.5 693.5 378.5 692.5 379.5 693.5 380.5 691.5 381.5 690.5 382.5 690.5 383.5 693.5 384.5 693.5 385.5 691.5 386.5 691.5 387.5 690.5 388.5 693.5 389.5 694.5 390.5 692.5 391.5 691.5 392.5 692.5 393.5 693.5 394.5 692.5 395.5 691.5 396.5 690.5 397.5 690.5 398.5 692.5 399.5 692.5 400.5 690.5 401.5 691.5 402.5 692.5 403.5 690.5 404.5 692.5 405.5 694.5 406.5 692.5 407.5 692.5 408.5 691.5 409.5 692.5 410.5 694.5 411.5 694.5 412.5 694.5 413.5 695.5 414.5 695.5 415.5 693.5 416.5 695.5 417.5 696.5 418.5 695.5 419.5 693.5 420.5 693.5 421.5 695.5 422.5 696.5 423.5 695.5 424.5 694.5 425.5 697.5 426.5 696.5 427.5 695.5 428.5 695.5 429.5 696.5 430.5 695.5 431.5 698.5 432.5 699.5 433.5 698.5 434.5 697.5 435.5 698.5 436.5 699.5 437.5 700.5 438.5 701.5 439.5 700.5 440.5 698.5 441.5 700.5 442.5 699.5 443.5 699.5 444.5 701.5 445.5 701.5 446.5 701.5 447.5 699.5 448.5 700.5 449.5 700.5 450.5 699.5 451.5 698.5 452.5 699.5 453.5 701.5 454.5 703.5 455.5 702.5 456.5 700.5 457.5 700.5 458.5 701.5 459.5 701.5 460.5 701.5 461.5 701.5 462.5 702.5 463.5 702.5 464.5 703.5 465.5 702.5 466.5 701.5 467.5 701.5 468.5 702.5 469.5 704.5 470.5 703.5 471.5 704.5 472.5 705.5 473.5 705.5 474.5 705.5 475.5 706.5 476.5 706.5 477.5 706.5 478.5 707.5 479.5 707.5 480.5 706.5 481.5 706.5 482.5 707.5 483.5 708.5 484.5 708.5 485.5 709.5 486.5 709.5 487.5 710.5 488.5 710.5 489.5 710.5 490.5 710.5 491.5 712.5 492.5 713.5 493.5 712.5 494.5 712.5 495.5 712.5 496.5 713.5 497.5 713.5 498.5 713.5 499.5 714.5 500.5 714.5 501.5 716.5 502.5 716.5 503.5 716.5 504.5 716.5 505.5 717.5 506.5 717.5 507.5 718.5 508.5 718.5 509.5 719.5 510.5 720.5 511.5 719.5 512.5 720.5 513.5 720.5 514.5 721.5 515.5 721.5 516.5 721.5 517.5 722.5 518.5 722.5 519.5 723.5 520.5 723.5 521.5 723.5 522.5 724.5 523.5 725.5 524.5 725.5 525.5 725.5 526.5 726.5 527.5 726.5 528.5 726.5 529.5 727.5 530.5 727.5 531.5 727.5 532.5 728.5 533.5 728.5 534.5 729.5 535.5 729.5 536.5 729.5 537.5 730.5 538.5 730.5 539.5 730.5 540.5 731.5 541.5 731.5 542.5 732.5 543.5 732.5 544.5 732.5 545.5 733.5 546.5 733.5 547.5 733.5 548.5 734.5 549.5 734.5 550.5 735.5 551.5 735.5 552.5 735.5 553.5 736.5 554.5 736.5 555.5 736.5 556.5 736.5 557.5 737.5 558.5 737.5" fill="none" stroke="#fffab0" stroke-width="3" stroke-opacity="0.65" stroke-linejoin="round"/>
<g shape-rendering="crispEdges">
<path d="M492.5 714.5 493.5 713.5" fill="none" stroke="#6ab0a8" stroke-width="1"/>
<path d="M419.5 693.5 420.5 693.5 421.5 695.5" fill="none" stroke="#000" stroke-width="1"/>
<path d="M394.5 692.5 395.5 691.5 396.5 690.5 397.5 690.5" fill="none" stroke="#222" stroke-width="1"/>
<path d="M296.5 711.5 297.5 710.5" fill="none" stroke="#000" stroke-width="1"/>
<path d="M309.5 705.5 310.5 705.5 311.5 705.5 312.5 704.5" fill="none" stroke="#111" stroke-width="1"/>
<path d="M544.5 732.5 545.5 733.5" fill="none" stroke="#000" stroke-width="1"/>
<path d="M387.5 691.5 388.5 694.5" fill="none" stroke="#000" stroke-width="1"/>
<path d="M388.5 693.5 389.5 694.5 390.5 692.5" fill="none" stroke="#000" stroke-width="1"/>
<path d="M453.5 701.5 454.5 703.5 455.5 702.5" fill="none" stroke="#222" stroke-width="1"/>
<path d="M341.5 696.5 342.5 698.5" fill="none" stroke="#111" stroke-width="1"/>
<path d="M506.5 716.5 507.5 717.5 508.5 717.5" fill="none" stroke="#000" stroke-width="1"/>
<path d="M266.5 723.5 267.5 723.5" fill="none" stroke="#000" stroke-width="1"/>
<path d="M447.5 699.5 448.5 700.5" fill="none" stroke="#000" stroke-width="1"/>
<path d="M444.5 700.5 445.5 700.5 446.5 700.5 447.5 698.5" fill="none" stroke="#000" stroke-width="1"/>
<path d="M337.5 701.5 338.5 698.5 339.5 697.5 340.5 696.5" fill="none" stroke="#000" stroke-width="1"/>
<path d="M456.5 700.5 457.5 700.5" fill="none" stroke="#000" stroke-width="1"/>
<path d="M334.5 699.5 335.5 699.5 336.5 699.5 337.5 700.5" fill="none" stroke="#111" stroke-width="1"/>
<path d="M364.5 690.5 365.5 689.5 366.5 692.5 367.5 693.5" fill="none" stroke="#000" stroke-width="1"/>
<path d="M262.5 722.5 263.5 722.5 264.5 721.5" fill="none" stroke="#000" stroke-width="1"/>
<path d="M365.5 690.5 366.5 693.5 367.5 694.5 368.5 693.5" fill="none" stroke="#222" stroke-width="1"/>
<path d="M273.5 719.5 274.5 718.5 275.5 718.5 276.5 718.5" fill="none" stroke="#000" stroke-width="1"/>
<path d="M438.5 701.5 439.5 700.5" fill="none" stroke="#111" stroke-width="1"/>
<path d="M386.5 692.5 387.5 691.5" fill="none" stroke="#222" stroke-width="1"/>
<path d="M524.5 724.5 525.5 724.5" fill="none" stroke="#000" stroke-width="1"/>
<path d="M274.5 718.5 275.5 718.5 276.5 718.5 277.5 718.5" fill="none" stroke="#000" stroke-width="1"/>
<path d="M477.5 707.5 478.5 708.5 479.5 708.5" fill="none" stroke="#4a8a40" stroke-width="1"/>
<path d="M515.5 721.5 516.5 721.5" fill="none" stroke="#222" stroke-width="1"/>
<path d="M503.5 716.5 504.5 716.5 505.5 717.5" fill="none" stroke="#222" stroke-width="1"/>
<path d="M363.5 693.5 364.5 690.5 365.5 689.5 366.5 692.5" fill="none" stroke="#4a8a40" stroke-width="1"/>
<path d="M443.5 699.5 444.5 701.5 445.5 701.5" fill="none" stroke="#4a8a40" stroke-width="1"/>
</g>
<path d="M156.5 756.5 157.5 756.5 158.5 756.5 159.5 756.5 160.5 756.5 161.5 755.5 162.5 755.5 163.5 755.5 164.5 755.5 165.5 755.5 166.5 754.5 167.5 754.5 168.5 754.5 169.5 754.5 170.5 754.5 171.5 753.5 172.5 753.5 173.5 753.5 174.5 753.5 175.5 753.5 176.5 753.5 177.5 752.5 178.5 752.5 179.5 752.5 180.5 752.5 181.5 752.5 182.5 752.5 183.5 751.5 184.5 751.5 185.5 751.5 186.5 751.5 187.5 751.5 188.5 750.5 189.5 750.5 190.5 750.5 191.5 750.5 192.5 749.5 193.5 749.5 194.5 749.5 195.5 748.5 196.5 748.5 197.5 748.5 198.5 748.5 199.5 747.5 200.5 747.5 201.5 747.5 202.5 746.5 203.5 746.5 204.5 746.5 205.5 745.5 206.5 745.5 207.5 745.5 208.5 744.5 209.5 744.5 210.5 743.5 211.5 743.5 212.5 743.5 213.5 742.5 214.5 742.5 215.5 742.5 216.5 741.5 217.5 741.5 218.5 741.5 219.5 740.5 220.5 740.5 221.5 739.5 222.5 739.5 223.5 739.5 224.5 738.5 225.5 738.5 226.5 737.5 227.5 737.5 228.5 737.5 229.5 736.5 230.5 736.5 231.5 735.5 232.5 735.5 233.5 735.5 234.5 734.5 235.5 734.5 236.5 733.5 237.5 733.5 238.5 733.5 239.5 732.5 240.5 732.5 241.5 731.5 242.5 731.5 243.5 731.5 244.5 730.5 245.5 730.5 246.5 730.5 247.5 729.5 248.5 728.5 249.5 728.5 250.5 728.5 251.5 727.5 252.5 727.5 253.5 727.5 254.5 726.5 255.5 725.5 256.5 725.5 257.5 725.5 258.5 724.5 259.5 724.5 260.5 723.5 261.5 723.5 262.5 723.5 263.5 723.5 264.5 722.5 265.5 722.5 266.5 722.5 267.5 722.5 268.5 721.5 269.5 721.5 270.5 720.5 271.5 719.5 272.5 719.5 273.5 719.5 274.5 718.5 275.5 718.5 276.5 718.5 277.5 718.5 278.5 717.5 279.5 717.5 280.5 716.5 281.5 716.5 282.5 715.5 283.5 715.5 284.5 715.5 285.5 715.5 286.5 715.5 287.5 714.5 288.5 714.5 289.5 714.5 290.5 713.5 291.5 712.5 292.5 712.5 293.5 713.5 294.5 711.5 295.5 712.5 296.5 712.5 297.5 711.5 298.5 711.5 299.5 710.5 300.5 709.5 301.5 710.5 302.5 709.5 303.5 708.5 304.5 707.5 305.5 708.5 306.5 708.5 307.5 707.5 308.5 706.5 309.5 705.5 310.5 705.5 311.5 705.5 312.5 704.5 313.5 704.5 314.5 704.5 315.5 703.5 316.5 703.5 317.5 703.5 318.5 703.5 319.5 703.5 320.5 703.5 321.5 701.5 322.5 702.5 323.5 702.5 324.5 701.5 325.5 700.5 326.5 700.5 327.5 700.5 328.5 700.5 329.5 699.5 330.5 699.5 331.5 699.5 332.5 699.5 333.5 698.5 334.5 699.5 335.5 699.5 336.5 699.5 337.5 700.5 338.5 697.5 339.5 696.5 340.5 695.5 341.5 696.5 342.5 698.5 343.5 695.5 344.5 696.5 345.5 697.5 346.5 696.5 347.5 694.5 348.5 694.5 349.5 695.5 350.5 695.5 351.5 692.5 352.5 691.5 353.5 693.5 354.5 694.5 355.5 695.5 356.5 692.5 357.5 691.5 358.5 694.5 359.5 695.5 360.5 693.5 361.5 691.5 362.5 693.5 363.5 694.5 364.5 691.5 365.5 690.5 366.5 693.5 367.5 694.5 368.5 693.5 369.5 693.5 370.5 692.5 371.5 692.5 372.5 691.5 373.5 693.5 374.5 694.5 375.5 691.5 376.5 692.5 377.5 693.5 378.5 692.5 379.5 693.5 380.5 691.5 381.5 690.5 382.5 690.5 383.5 693.5 384.5 693.5 385.5 691.5 386.5 691.5 387.5 690.5 388.5 693.5 389.5 694.5 390.5 692.5 391.5 691.5 392.5 692.5 393.5 693.5 394.5 692.5 395.5 691.5 396.5 690.5 397.5 690.5 398.5 692.5 399.5 692.5 400.5 690.5 401.5 691.5 402.5 692.5 403.5 690.5 404.5 692.5 405.5 694.5 406.5 692.5 407.5 692.5 408.5 691.5 409.5 692.5 410.5 694.5 411.5 694.5 412.5 694.5 413.5 695.5 414.5 695.5 415.5 693.5 416.5 695.5 417.5 696.5 418.5 695.5 419.5 693.5 420.5 693.5 421.5 695.5 422.5 696.5 423.5 695.5 424.5 694.5 425.5 697.5 426.5 696.5 427.5 695.5 428.5 695.5 429.5 696.5 430.5 695.5 431.5 698.5 432.5 699.5 433.5 698.5 434.5 697.5 435.5 698.5 436.5 699.5 437.5 700.5 438.5 701.5 439.5 700.5 440.5 698.5 441.5 700.5 442.5 699.5 443.5 699.5 444.5 701.5 445.5 701.5 446.5 701.5 447.5 699.5 448.5 700.5 449.5 700.5 450.5 699.5 451.5 698.5 452.5 699.5 453.5 701.5 454.5 703.5 455.5 702.5 456.5 700.5 457.5 700.5 458.5 701.5 459.5 701.5 460.5 701.5 461.5 701.5 462.5 702.5 463.5 702.5 464.5 703.5 465.5 702.5 466.5 701.5 467.5 701.5 468.5 702.5 469.5 704.5 470.5 703.5 471.5 704.5 472.5 705.5 473.5 705.5 474.5 705.5 475.5 706.5 476.5 706.5 477.5 706.5 478.5 707.5 479.5 707.5 480.5 706.5 481.5 706.5 482.5 707.5 483.5 708.5 484.5 708.5 485.5 709.5 486.5 709.5 487.5 710.5 488.5 710.5 489.5 710.5 490.5 710.5 491.5 712.5 492.5 713.5 493.5 712.5 494.5 712.5 495.5 712.5 496.5 713.5 497.5 713.5 498.5 713.5 499.5 714.5 500.5 714.5 501.5 716.5 502.5 716.5 503.5 716.5 504.5 716.5 505.5 717.5 506.5 717.5 507.5 718.5 508.5 718.5 509.5 719.5 510.5 720.5 511.5 719.5 512.5 720.5 513.5 720.5 514.5 721.5 515.5 721.5 516.5 721.5 517.5 722.5 518.5 722.5 519.5 723.5 520.5 723.5 521.5 723.5 522.5 724.5 523.5 725.5 524.5 725.5 525.5 725.5 526.5 726.5 527.5 726.5 528.5 726.5 529.5 727.5 530.5 727.5 531.5 727.5 532.5 728.5 533.5 728.5 534.5 729.5 535.5 729.5 536.5 729.5 537.5 730.5 538.5 730.5 539.5 730.5 540.5 731.5 541.5 731.5 542.5 732.5 543.5 732.5 544.5 732.5 545.5 733.5 546.5 733.5 547.5 733.5 548.5 734.5 549.5 734.5 550.5 735.5 551.5 735.5 552.5 735.5 553.5 736.5 554.5 736.5 555.5 736.5 556.5 736.5 557.5 737.5 558.5 737.5" fill="none" stroke="#cbbb46" stroke-width="1" shape-rendering="crispEdges"/>
<path d="M267.5 722.5 268.5 721.5 269.5 721.5 270.5 720.5" fill="none" stroke="#b7c258" stroke-width="1" shape-rendering="crispEdges"/>
<path d="M341.5 696.5 342.5 698.5 343.5 695.5 344.5 696.5 345.5 697.5 346.5 696.5 347.5 694.5 348.5 694.5 349.5 695.5" fill="none" stroke="#c9c64e" stroke-width="1" shape-rendering="crispEdges"/>
<path d="M462.5 702.5 463.5 702.5 464.5 703.5 465.5 702.5 466.5 701.5 467.5 701.5 468.5 702.5 469.5 704.5 470.5 703.5" fill="none" stroke="#b7c258" stroke-width="1" shape-rendering="crispEdges"/>
<path d="M537.5 730.5 538.5 730.5 539.5 730.5 540.5 731.5" fill="none" stroke="#b7c258" stroke-width="1" shape-rendering="crispEdges"/>
<path d="M372.5 691.5 373.5 693.5 374.5 694.5 375.5 691.5 376.5 692.5 377.5 693.5" fill="none" stroke="#e89a36" stroke-width="1" shape-rendering="crispEdges"/>
<path d="M467.5 701.5 468.5 702.5 469.5 704.5" fill="none" stroke="#b7c258" stroke-width="1" shape-rendering="crispEdges"/>
<path d="M263.5 723.5 264.5 722.5 265.5 722.5 266.5 722.5 267.5 722.5" fill="none" stroke="#e89a36" stroke-width="1" shape-rendering="crispEdges"/>
<path d="M256.5 725.5 257.5 725.5 258.5 724.5 259.5 724.5 260.5 723.5 261.5 723.5 262.5 723.5 263.5 723.5 264.5 722.5 265.5 722.5" fill="none" stroke="#a8d0b0" stroke-width="1" shape-rendering="crispEdges"/>
<path d="M397.5 690.5 398.5 692.5 399.5 692.5" fill="none" stroke="#e89a36" stroke-width="1" shape-rendering="crispEdges"/>
<path d="M278.5 717.5 279.5 717.5 280.5 716.5 281.5 716.5 282.5 715.5 283.5 715.5 284.5 715.5 285.5 715.5" fill="none" stroke="#e89a36" stroke-width="1" shape-rendering="crispEdges"/>
<path d="M280.5 716.5 281.5 716.5 282.5 715.5" fill="none" stroke="#e2a040" stroke-width="1" shape-rendering="crispEdges"/>
<path d="M485.5 709.5 486.5 709.5 487.5 710.5 488.5 710.5 489.5 710.5 490.5 710.5 491.5 712.5" fill="none" stroke="#e2a040" stroke-width="1" shape-rendering="crispEdges"/>
<path d="M284.5 715.5 285.5 715.5 286.5 715.5 287.5 714.5 288.5 714.5" fill="none" stroke="#a8d0b0" stroke-width="1" shape-rendering="crispEdges"/>
<path d="M422.5 696.5 423.5 695.5 424.5 694.5 425.5 697.5 426.5 696.5 427.5 695.5 428.5 695.5 429.5 696.5 430.5 695.5 431.5 698.5" fill="none" stroke="#b7c258" stroke-width="1" shape-rendering="crispEdges"/>
<path d="M530.5 727.5 531.5 727.5 532.5 728.5 533.5 728.5 534.5 729.5 535.5 729.5 536.5 729.5 537.5 730.5" fill="none" stroke="#e2a040" stroke-width="1" shape-rendering="crispEdges"/>
<path d="M350.5 695.5 351.5 692.5 352.5 691.5 353.5 693.5 354.5 694.5 355.5 695.5" fill="none" stroke="#a8d0b0" stroke-width="1" shape-rendering="crispEdges"/>
<g shape-rendering="crispEdges">
<rect x="492" y="713" width="2" height="1" fill="#000"/>
<rect x="419" y="693" width="2" height="1" fill="#000"/>
<rect x="394" y="692" width="1" height="1" fill="#000"/>
<rect x="296" y="712" width="2" height="1" fill="#111"/>
<rect x="309" y="705" width="2" height="1" fill="#222"/>
<rect x="544" y="732" width="2" height="1" fill="#4a8a40"/>
<rect x="387" y="690" width="1" height="1" fill="#222"/>
<rect x="388" y="693" width="1" height="1" fill="#222"/>
<rect x="453" y="701" width="2" height="1" fill="#6ab0a8"/>
<rect x="341" y="696" width="1" height="1" fill="#000"/>
<rect x="506" y="717" width="2" height="1" fill="#000"/>
<rect x="266" y="722" width="1" height="1" fill="#000"/>
<rect x="447" y="699" width="2" height="1" fill="#6ab0a8"/>
<rect x="444" y="701" width="2" height="1" fill="#6ab0a8"/>
<rect x="337" y="700" width="1" height="1" fill="#222"/>
<rect x="456" y="700" width="2" height="1" fill="#000"/>
<rect x="334" y="699" width="2" height="1" fill="#111"/>
<rect x="364" y="691" width="2" height="1" fill="#222"/>
<rect x="262" y="723" width="1" height="1" fill="#6ab0a8"/>
<rect x="365" y="690" width="2" height="1" fill="#4a8a40"/>
<rect x="273" y="719" width="1" height="1" fill="#111"/>
<rect x="438" y="701" width="1" height="1" fill="#000"/>
<rect x="386" y="691" width="1" height="1" fill="#000"/>
<rect x="524" y="725" width="2" height="1" fill="#000"/>
</g>
<g shape-rendering="crispEdges" fill="#000">
<rect x="156" y="690" width="1" height="68"/>
<rect x="156" y="757" width="403" height="1"/>
<rect x="156" y="693" width="5" height="1"/>
<rect x="156" y="703" width="5" height="1"/>
<rect x="156" y="713" width="5" height="1"/>
<rect x="156" y="723" width="5" height="1"/>
<rect x="156" y="732" width="5" height="1"/>
<rect x="156" y="742" width="5" height="1"/>
<rect x="156" y="752" width="5" height="1"/>
<rect x="158" y="752" width="1" height="5"/>
<rect x="284" y="752" width="1" height="5"/>
<rect x="410" y="752" width="1" height="5"/>
<rect x="537" y="752" width="1" height="5"/>
</g>
<g shape-rendering="crispEdges" stroke="#000" stroke-width="1" stroke-dasharray="1 4" fill="none">
<path d="M686 751.5H1087"/>
<path d="M684 740.5H1087"/>
<path d="M687 729.5H1087"/>
<path d="M685 718.5H1087"/>
<path d="M688 708.5H1087"/>
<path d="M686 697.5H1087"/>
<path d="M686.5 758V691"/>
<path d="M813.5 755V691"/>
<path d="M939.5 757V691"/>
<path d="M1065.5 754V691"/>
</g>
<path d="M684.5 756.5 685.5 756.5 686.5 756.5 687.5 756.5 688.5 756.5 689.5 755.5 690.5 755.5 691.5 755.5 692.5 755.5 693.5 755.5 694.5 754.5 695.5 754.5 696.5 754.5 697.5 754.5 698.5 754.5 699.5 753.5 700.5 753.5 701.5 753.5 702.5 753.5 703.5 753.5 704.5 752.5 705.5 752.5 706.5 752.5 707.5 752.5 708.5 752.5 709.5 752.5 710.5 751.5 711.5 751.5 712.5 751.5 713.5 751.5 714.5 751.5 715.5 750.5 716.5 750.5 717.5 750.5 718.5 750.5 719.5 750.5 720.5 749.5 721.5 749.5 722.5 748.5 723.5 746.5 724.5 746.5 725.5 748.5 726.5 748.5 727.5 748.5 728.5 747.5 729.5 747.5 730.5 747.5 731.5 747.5 732.5 746.5 733.5 746.5 734.5 746.5 735.5 746.5 736.5 745.5 737.5 745.5 738.5 745.5 739.5 744.5 740.5 744.5 741.5 744.5 742.5 743.5 743.5 743.5 744.5 742.5 745.5 741.5 746.5 738.5 747.5 739.5 748.5 742.5 749.5 741.5 750.5 740.5 751.5 740.5 752.5 739.5 753.5 739.5 754.5 739.5 755.5 738.5 756.5 738.5 757.5 737.5 758.5 737.5 759.5 736.5 760.5 736.5 761.5 735.5 762.5 735.5 763.5 735.5 764.5 734.5 765.5 734.5 766.5 733.5 767.5 733.5 768.5 732.5 769.5 732.5 770.5 732.5 771.5 731.5 772.5 730.5 773.5 730.5 774.5 730.5 775.5 730.5 776.5 729.5 777.5 729.5 778.5 728.5 779.5 728.5 780.5 727.5 781.5 726.5 782.5 727.5 783.5 727.5 784.5 726.5 785.5 725.5 786.5 725.5 787.5 724.5 788.5 724.5 789.5 724.5 790.5 724.5 791.5 723.5 792.5 723.5 793.5 722.5 794.5 722.5 795.5 721.5 796.5 722.5 797.5 722.5 798.5 721.5 799.5 720.5 800.5 719.5 801.5 719.5 802.5 719.5 803.5 719.5 804.5 719.5 805.5 718.5 806.5 717.5 807.5 718.5 808.5 717.5 809.5 716.5 810.5 716.5 811.5 715.5 812.5 715.5 813.5 716.5 814.5 715.5 815.5 714.5 816.5 714.5 817.5 714.5 818.5 713.5 819.5 712.5 820.5 712.5 821.5 713.5 822.5 712.5 823.5 711.5 824.5 710.5 825.5 711.5 826.5 712.5 827.5 711.5 828.5 709.5 829.5 709.5 830.5 709.5 831.5 710.5 832.5 710.5 833.5 709.5 834.5 708.5 835.5 707.5 836.5 707.5 837.5 707.5 838.5 706.5 839.5 706.5 840.5 705.5 841.5 706.5 842.5 706.5 843.5 704.5 844.5 703.5 845.5 704.5 846.5 703.5 847.5 704.5 848.5 705.5 849.5 702.5 850.5 702.5 851.5 703.5 852.5 703.5 853.5 702.5 854.5 702.5 855.5 701.5 856.5 702.5 857.5 702.5 858.5 701.5 859.5 702.5 860.5 702.5 861.5 700.5 862.5 701.5 863.5 699.5 864.5 698.5 865.5 697.5 866.5 698.5 867.5 699.5 868.5 698.5 869.5 696.5 870.5 695.5 871.5 696.5 872.5 697.5 873.5 697.5 874.5 695.5 875.5 695.5 876.5 697.5 877.5 696.5 878.5 695.5 879.5 695.5 880.5 695.5 881.5 694.5 882.5 695.5 883.5 697.5 884.5 695.5 885.5 693.5 886.5 695.5 887.5 696.5 888.5 696.5 889.5 694.5 890.5 692.5 891.5 694.5 892.5 692.5 893.5 692.5 894.5 694.5 895.5 693.5 896.5 693.5 897.5 695.5 898.5 693.5 899.5 693.5 900.5 693.5 901.5 692.5 902.5 695.5 903.5 694.5 904.5 691.5 905.5 692.5 906.5 693.5 907.5 694.5 908.5 693.5 909.5 692.5 910.5 692.5 911.5 693.5 912.5 695.5 913.5 692.5 914.5 691.5 915.5 694.5 916.5 692.5 917.5 690.5 918.5 690.5 919.5 691.5 920.5 692.5 921.5 694.5 922.5 694.5 923.5 693.5 924.5 691.5 925.5 692.5 926.5 692.5 927.5 691.5 928.5 691.5 929.5 693.5 930.5 696.5 931.5 695.5 932.5 694.5 933.5 693.5 934.5 692.5 935.5 695.5 936.5 693.5 937.5 692.5 938.5 694.5 939.5 694.5 940.5 695.5 941.5 693.5 942.5 691.5 943.5 693.5 944.5 693.5 945.5 694.5 946.5 695.5 947.5 696.5 948.5 697.5 949.5 697.5 950.5 694.5 951.5 692.5 952.5 694.5 953.5 696.5 954.5 696.5 955.5 695.5 956.5 698.5 957.5 700.5 958.5 697.5 959.5 695.5 960.5 698.5 961.5 697.5 962.5 698.5 963.5 701.5 964.5 697.5 965.5 696.5 966.5 700.5 967.5 700.5 968.5 699.5 969.5 700.5 970.5 700.5 971.5 699.5 972.5 701.5 973.5 701.5 974.5 699.5 975.5 700.5 976.5 700.5 977.5 700.5 978.5 700.5 979.5 699.5 980.5 701.5 981.5 701.5 982.5 701.5 983.5 703.5 984.5 704.5 985.5 704.5 986.5 702.5 987.5 703.5 988.5 704.5 989.5 705.5 990.5 704.5 991.5 704.5 992.5 705.5 993.5 706.5 994.5 704.5 995.5 704.5 996.5 706.5 997.5 706.5 998.5 705.5 999.5 706.5 1000.5 707.5 1001.5 707.5 1002.5 707.5 1003.5 708.5 1004.5 708.5 1005.5 708.5 1006.5 707.5 1007.5 708.5 1008.5 709.5 1009.5 709.5 1010.5 709.5 1011.5 710.5 1012.5 711.5 1013.5 712.5 1014.5 711.5 1015.5 710.5 1016.5 712.5 1017.5 713.5 1018.5 712.5 1019.5 712.5 1020.5 714.5 1021.5 715.5 1022.5 713.5 1023.5 715.5 1024.5 713.5 1025.5 714.5 1026.5 715.5 1027.5 715.5 1028.5 715.5 1029.5 715.5 1030.5 716.5 1031.5 717.5 1032.5 717.5 1033.5 717.5 1034.5 718.5 1035.5 718.5 1036.5 719.5 1037.5 720.5 1038.5 721.5 1039.5 720.5 1040.5 720.5 1041.5 721.5 1042.5 721.5 1043.5 721.5 1044.5 722.5 1045.5 723.5 1046.5 723.5 1047.5 724.5 1048.5 725.5 1049.5 725.5 1050.5 725.5 1051.5 725.5 1052.5 725.5 1053.5 726.5 1054.5 726.5 1055.5 727.5 1056.5 727.5 1057.5 727.5 1058.5 728.5 1059.5 728.5 1060.5 729.5 1061.5 730.5 1062.5 730.5 1063.5 730.5 1064.5 730.5 1065.5 731.5 1066.5 731.5 1067.5 732.5 1068.5 732.5 1069.5 732.5 1070.5 733.5 1071.5 733.5 1072.5 733.5 1073.5 734.5 1074.5 734.5 1075.5 734.5 1076.5 735.5 1077.5 735.5 1078.5 735.5 1079.5 736.5 1080.5 736.5 1081.5 736.5 1082.5 737.5 1083.5 737.5 1084.5 737.5 1085.5 737.5 1086.5 737.5" fill="none" stroke="#fffab0" stroke-width="3" stroke-opacity="0.65" stroke-linejoin="round"/>
<g shape-rendering="crispEdges">
<path d="M855.5 700.5 856.5 701.5 857.5 701.5" fill="none" stroke="#4a8a40" stroke-width="1"/>
<path d="M967.5 700.5 968.5 699.5 969.5 700.5 970.5 700.5" fill="none" stroke="#111" stroke-width="1"/>
<path d="M826.5 713.5 827.5 712.5 828.5 710.5 829.5 710.5" fill="none" stroke="#222" stroke-width="1"/>
<path d="M822.5 712.5 823.5 711.5" fill="none" stroke="#6ab0a8" stroke-width="1"/>
<path d="M890.5 693.5 891.5 695.5 892.5 693.5 893.5 693.5" fill="none" stroke="#000" stroke-width="1"/>
<path d="M797.5 722.5 798.5 721.5 799.5 720.5" fill="none" stroke="#111" stroke-width="1"/>
<path d="M955.5 695.5 956.5 698.5 957.5 700.5 958.5 697.5" fill="none" stroke="#222" stroke-width="1"/>
<path d="M1024.5 714.5 1025.5 715.5" fill="none" stroke="#222" stroke-width="1"/>
<path d="M813.5 716.5 814.5 715.5 815.5 714.5" fill="none" stroke="#111" stroke-width="1"/>
<path d="M872.5 698.5 873.5 698.5" fill="none" stroke="#222" stroke-width="1"/>
<path d="M928.5 690.5 929.5 692.5 930.5 695.5 931.5 694.5" fill="none" stroke="#000" stroke-width="1"/>
<path d="M842.5 707.5 843.5 705.5 844.5 704.5" fill="none" stroke="#000" stroke-width="1"/>
<path d="M859.5 701.5 860.5 701.5" fill="none" stroke="#000" stroke-width="1"/>
<path d="M1015.5 710.5 1016.5 712.5 1017.5 713.5" fill="none" stroke="#6ab0a8" stroke-width="1"/>
<path d="M790.5 725.5 791.5 724.5 792.5 724.5 793.5 723.5" fill="none" stroke="#222" stroke-width="1"/>
<path d="M888.5 697.5 889.5 695.5 890.5 693.5 891.5 695.5" fill="none" stroke="#111" stroke-width="1"/>
<path d="M973.5 702.5 974.5 700.5 975.5 701.5" fill="none" stroke="#000" stroke-width="1"/>
<path d="M880.5 694.5 881.5 693.5" fill="none" stroke="#000" stroke-width="1"/>
<path d="M800.5 719.5 801.5 719.5 802.5 719.5 803.5 719.5" fill="none" stroke="#000" stroke-width="1"/>
<path d="M794.5 722.5 795.5 721.5" fill="none" stroke="#222" stroke-width="1"/>
<path d="M1057.5 726.5 1058.5 727.5 1059.5 727.5" fill="none" stroke="#6ab0a8" stroke-width="1"/>
<path d="M993.5 706.5 994.5 704.5 995.5 704.5 996.5 706.5" fill="none" stroke="#222" stroke-width="1"/>
<path d="M1074.5 735.5 1075.5 735.5 1076.5 736.5" fill="none" stroke="#000" stroke-width="1"/>
<path d="M861.5 700.5 862.5 701.5" fill="none" stroke="#222" stroke-width="1"/>
<path d="M1020.5 714.5 1021.5 715.5" fill="none" stroke="#222" stroke-width="1"/>
<path d="M781.5 726.5 782.5 727.5" fill="none" stroke="#000" stroke-width="1"/>
<path d="M932.5 693.5 933.5 692.5" fill="none" stroke="#000" stroke-width="1"/>
<path d="M914.5 691.5 915.5 694.5" fill="none" stroke="#000" stroke-width="1"/>
<path d="M864.5 698.5 865.5 697.5" fill="none" stroke="#6ab0a8" stroke-width="1"/>
<path d="M1001.5 706.5 1002.5 706.5 1003.5 707.5 1004.5 707.5" fill="none" stroke="#000" stroke-width="1"/>
</g>
<path d="M684.5 756.5 685.5 756.5 686.5 756.5 687.5 756.5 688.5 756.5 689.5 755.5 690.5 755.5 691.5 755.5 692.5 755.5 693.5 755.5 694.5 754.5 695.5 754.5 696.5 754.5 697.5 754.5 698.5 754.5 699.5 753.5 700.5 753.5 701.5 753.5 702.5 753.5 703.5 753.5 704.5 752.5 705.5 752.5 706.5 752.5 707.5 752.5 708.5 752.5 709.5 752.5 710.5 751.5 711.5 751.5 712.5 751.5 713.5 751.5 714.5 751.5 715.5 750.5 716.5 750.5 717.5 750.5 718.5 750.5 719.5 750.5 720.5 749.5 721.5 749.5 722.5 748.5 723.5 746.5 724.5 746.5 725.5 748.5 726.5 748.5 727.5 748.5 728.5 747.5 729.5 747.5 730.5 747.5 731.5 747.5 732.5 746.5 733.5 746.5 734.5 746.5 735.5 746.5 736.5 745.5 737.5 745.5 738.5 745.5 739.5 744.5 740.5 744.5 741.5 744.5 742.5 743.5 743.5 743.5 744.5 742.5 745.5 741.5 746.5 738.5 747.5 739.5 748.5 742.5 749.5 741.5 750.5 740.5 751.5 740.5 752.5 739.5 753.5 739.5 754.5 739.5 755.5 738.5 756.5 738.5 757.5 737.5 758.5 737.5 759.5 736.5 760.5 736.5 761.5 735.5 762.5 735.5 763.5 735.5 764.5 734.5 765.5 734.5 766.5 733.5 767.5 733.5 768.5 732.5 769.5 732.5 770.5 732.5 771.5 731.5 772.5 730.5 773.5 730.5 774.5 730.5 775.5 730.5 776.5 729.5 777.5 729.5 778.5 728.5 779.5 728.5 780.5 727.5 781.5 726.5 782.5 727.5 783.5 727.5 784.5 726.5 785.5 725.5 786.5 725.5 787.5 724.5 788.5 724.5 789.5 724.5 790.5 724.5 791.5 723.5 792.5 723.5 793.5 722.5 794.5 722.5 795.5 721.5 796.5 722.5 797.5 722.5 798.5 721.5 799.5 720.5 800.5 719.5 801.5 719.5 802.5 719.5 803.5 719.5 804.5 719.5 805.5 718.5 806.5 717.5 807.5 718.5 808.5 717.5 809.5 716.5 810.5 716.5 811.5 715.5 812.5 715.5 813.5 716.5 814.5 715.5 815.5 714.5 816.5 714.5 817.5 714.5 818.5 713.5 819.5 712.5 820.5 712.5 821.5 713.5 822.5 712.5 823.5 711.5 824.5 710.5 825.5 711.5 826.5 712.5 827.5 711.5 828.5 709.5 829.5 709.5 830.5 709.5 831.5 710.5 832.5 710.5 833.5 709.5 834.5 708.5 835.5 707.5 836.5 707.5 837.5 707.5 838.5 706.5 839.5 706.5 840.5 705.5 841.5 706.5 842.5 706.5 843.5 704.5 844.5 703.5 845.5 704.5 846.5 703.5 847.5 704.5 848.5 705.5 849.5 702.5 850.5 702.5 851.5 703.5 852.5 703.5 853.5 702.5 854.5 702.5 855.5 701.5 856.5 702.5 857.5 702.5 858.5 701.5 859.5 702.5 860.5 702.5 861.5 700.5 862.5 701.5 863.5 699.5 864.5 698.5 865.5 697.5 866.5 698.5 867.5 699.5 868.5 698.5 869.5 696.5 870.5 695.5 871.5 696.5 872.5 697.5 873.5 697.5 874.5 695.5 875.5 695.5 876.5 697.5 877.5 696.5 878.5 695.5 879.5 695.5 880.5 695.5 881.5 694.5 882.5 695.5 883.5 697.5 884.5 695.5 885.5 693.5 886.5 695.5 887.5 696.5 888.5 696.5 889.5 694.5 890.5 692.5 891.5 694.5 892.5 692.5 893.5 692.5 894.5 694.5 895.5 693.5 896.5 693.5 897.5 695.5 898.5 693.5 899.5 693.5 900.5 693.5 901.5 692.5 902.5 695.5 903.5 694.5 904.5 691.5 905.5 692.5 906.5 693.5 907.5 694.5 908.5 693.5 909.5 692.5 910.5 692.5 911.5 693.5 912.5 695.5 913.5 692.5 914.5 691.5 915.5 694.5 916.5 692.5 917.5 690.5 918.5 690.5 919.5 691.5 920.5 692.5 921.5 694.5 922.5 694.5 923.5 693.5 924.5 691.5 925.5 692.5 926.5 692.5 927.5 691.5 928.5 691.5 929.5 693.5 930.5 696.5 931.5 695.5 932.5 694.5 933.5 693.5 934.5 692.5 935.5 695.5 936.5 693.5 937.5 692.5 938.5 694.5 939.5 694.5 940.5 695.5 941.5 693.5 942.5 691.5 943.5 693.5 944.5 693.5 945.5 694.5 946.5 695.5 947.5 696.5 948.5 697.5 949.5 697.5 950.5 694.5 951.5 692.5 952.5 694.5 953.5 696.5 954.5 696.5 955.5 695.5 956.5 698.5 957.5 700.5 958.5 697.5 959.5 695.5 960.5 698.5 961.5 697.5 962.5 698.5 963.5 701.5 964.5 697.5 965.5 696.5 966.5 700.5 967.5 700.5 968.5 699.5 969.5 700.5 970.5 700.5 971.5 699.5 972.5 701.5 973.5 701.5 974.5 699.5 975.5 700.5 976.5 700.5 977.5 700.5 978.5 700.5 979.5 699.5 980.5 701.5 981.5 701.5 982.5 701.5 983.5 703.5 984.5 704.5 985.5 704.5 986.5 702.5 987.5 703.5 988.5 704.5 989.5 705.5 990.5 704.5 991.5 704.5 992.5 705.5 993.5 706.5 994.5 704.5 995.5 704.5 996.5 706.5 997.5 706.5 998.5 705.5 999.5 706.5 1000.5 707.5 1001.5 707.5 1002.5 707.5 1003.5 708.5 1004.5 708.5 1005.5 708.5 1006.5 707.5 1007.5 708.5 1008.5 709.5 1009.5 709.5 1010.5 709.5 1011.5 710.5 1012.5 711.5 1013.5 712.5 1014.5 711.5 1015.5 710.5 1016.5 712.5 1017.5 713.5 1018.5 712.5 1019.5 712.5 1020.5 714.5 1021.5 715.5 1022.5 713.5 1023.5 715.5 1024.5 713.5 1025.5 714.5 1026.5 715.5 1027.5 715.5 1028.5 715.5 1029.5 715.5 1030.5 716.5 1031.5 717.5 1032.5 717.5 1033.5 717.5 1034.5 718.5 1035.5 718.5 1036.5 719.5 1037.5 720.5 1038.5 721.5 1039.5 720.5 1040.5 720.5 1041.5 721.5 1042.5 721.5 1043.5 721.5 1044.5 722.5 1045.5 723.5 1046.5 723.5 1047.5 724.5 1048.5 725.5 1049.5 725.5 1050.5 725.5 1051.5 725.5 1052.5 725.5 1053.5 726.5 1054.5 726.5 1055.5 727.5 1056.5 727.5 1057.5 727.5 1058.5 728.5 1059.5 728.5 1060.5 729.5 1061.5 730.5 1062.5 730.5 1063.5 730.5 1064.5 730.5 1065.5 731.5 1066.5 731.5 1067.5 732.5 1068.5 732.5 1069.5 732.5 1070.5 733.5 1071.5 733.5 1072.5 733.5 1073.5 734.5 1074.5 734.5 1075.5 734.5 1076.5 735.5 1077.5 735.5 1078.5 735.5 1079.5 736.5 1080.5 736.5 1081.5 736.5 1082.5 737.5 1083.5 737.5 1084.5 737.5 1085.5 737.5 1086.5 737.5" fill="none" stroke="#d4b63e" stroke-width="1" shape-rendering="crispEdges"/>
<path d="M918.5 690.5 919.5 691.5 920.5 692.5 921.5 694.5 922.5 694.5 923.5 693.5 924.5 691.5 925.5 692.5" fill="none" stroke="#b7c258" stroke-width="1" shape-rendering="crispEdges"/>
<path d="M965.5 696.5 966.5 700.5 967.5 700.5 968.5 699.5 969.5 700.5 970.5 700.5" fill="none" stroke="#b7c258" stroke-width="1" shape-rendering="crispEdges"/>
<path d="M803.5 719.5 804.5 719.5 805.5 718.5 806.5 717.5 807.5 718.5 808.5 717.5 809.5 716.5 810.5 716.5 811.5 715.5 812.5 715.5" fill="none" stroke="#b7c258" stroke-width="1" shape-rendering="crispEdges"/>
<path d="M1063.5 730.5 1064.5 730.5 1065.5 731.5 1066.5 731.5 1067.5 732.5 1068.5 732.5 1069.5 732.5 1070.5 733.5 1071.5 733.5 1072.5 733.5" fill="none" stroke="#b7c258" stroke-width="1" shape-rendering="crispEdges"/>
<path d="M1013.5 712.5 1014.5 711.5 1015.5 710.5 1016.5 712.5 1017.5 713.5 1018.5 712.5 1019.5 712.5 1020.5 714.5 1021.5 715.5 1022.5 713.5" fill="none" stroke="#c9c64e" stroke-width="1" shape-rendering="crispEdges"/>
<path d="M874.5 695.5 875.5 695.5 876.5 697.5 877.5 696.5 878.5 695.5 879.5 695.5 880.5 695.5" fill="none" stroke="#e89a36" stroke-width="1" shape-rendering="crispEdges"/>
<path d="M959.5 695.5 960.5 698.5 961.5 697.5 962.5 698.5 963.5 701.5" fill="none" stroke="#e89a36" stroke-width="1" shape-rendering="crispEdges"/>
<path d="M863.5 699.5 864.5 698.5 865.5 697.5 866.5 698.5 867.5 699.5 868.5 698.5 869.5 696.5 870.5 695.5 871.5 696.5 872.5 697.5" fill="none" stroke="#e2a040" stroke-width="1" shape-rendering="crispEdges"/>
<path d="M796.5 722.5 797.5 722.5 798.5 721.5 799.5 720.5 800.5 719.5 801.5 719.5 802.5 719.5" fill="none" stroke="#e89a36" stroke-width="1" shape-rendering="crispEdges"/>
<path d="M818.5 713.5 819.5 712.5 820.5 712.5 821.5 713.5 822.5 712.5 823.5 711.5 824.5 710.5" fill="none" stroke="#e89a36" stroke-width="1" shape-rendering="crispEdges"/>
<path d="M995.5 704.5 996.5 706.5 997.5 706.5" fill="none" stroke="#e89a36" stroke-width="1" shape-rendering="crispEdges"/>
<path d="M801.5 719.5 802.5 719.5 803.5 719.5 804.5 719.5 805.5 718.5 806.5 717.5 807.5 718.5 808.5 717.5" fill="none" stroke="#e2a040" stroke-width="1" shape-rendering="crispEdges"/>
<path d="M915.5 694.5 916.5 692.5 917.5 690.5 918.5 690.5 919.5 691.5 920.5 692.5 921.5 694.5 922.5 694.5 923.5 693.5 924.5 691.5" fill="none" stroke="#e89a36" stroke-width="1" shape-rendering="crispEdges"/>
<path d="M997.5 706.5 998.5 705.5 999.5 706.5 1000.5 707.5 1001.5 707.5 1002.5 707.5 1003.5 708.5 1004.5 708.5" fill="none" stroke="#b7c258" stroke-width="1" shape-rendering="crispEdges"/>
<path d="M923.5 693.5 924.5 691.5 925.5 692.5 926.5 692.5" fill="none" stroke="#a8d0b0" stroke-width="1" shape-rendering="crispEdges"/>
<path d="M904.5 691.5 905.5 692.5 906.5 693.5 907.5 694.5 908.5 693.5 909.5 692.5 910.5 692.5 911.5 693.5" fill="none" stroke="#c9c64e" stroke-width="1" shape-rendering="crispEdges"/>
<g shape-rendering="crispEdges">
<rect x="855" y="701" width="1" height="1" fill="#111"/>
<rect x="967" y="700" width="2" height="1" fill="#000"/>
<rect x="826" y="712" width="2" height="1" fill="#000"/>
<rect x="822" y="712" width="1" height="1" fill="#6ab0a8"/>
<rect x="890" y="692" width="2" height="1" fill="#000"/>
<rect x="797" y="722" width="1" height="1" fill="#222"/>
<rect x="955" y="695" width="1" height="1" fill="#000"/>
<rect x="1024" y="713" width="1" height="1" fill="#6ab0a8"/>
<rect x="813" y="716" width="2" height="1" fill="#000"/>
<rect x="872" y="697" width="2" height="1" fill="#222"/>
<rect x="928" y="691" width="1" height="1" fill="#222"/>
<rect x="842" y="706" width="1" height="1" fill="#000"/>
<rect x="859" y="702" width="1" height="1" fill="#111"/>
<rect x="1015" y="710" width="1" height="1" fill="#000"/>
<rect x="790" y="724" width="1" height="1" fill="#222"/>
<rect x="888" y="696" width="1" height="1" fill="#000"/>
<rect x="973" y="701" width="2" height="1" fill="#6ab0a8"/>
<rect x="880" y="695" width="1" height="1" fill="#000"/>
<rect x="800" y="719" width="2" height="1" fill="#222"/>
<rect x="794" y="722" width="2" height="1" fill="#6ab0a8"/>
<rect x="1057" y="727" width="2" height="1" fill="#222"/>
<rect x="993" y="706" width="1" height="1" fill="#000"/>
<rect x="1074" y="734" width="1" height="1" fill="#6ab0a8"/>
<rect x="861" y="700" width="1" height="1" fill="#000"/>
</g>
<g shape-rendering="crispEdges" fill="#000">
<rect x="684" y="690" width="1" height="68"/>
<rect x="684" y="757" width="403" height="1"/>
<rect x="684" y="697" width="5" height="1"/>
<rect x="684" y="708" width="5" height="1"/>
<rect x="684" y="718" width="5" height="1"/>
<rect x="684" y="729" width="5" height="1"/>
<rect x="684" y="740" width="5" height="1"/>
<rect x="684" y="751" width="5" height="1"/>
<rect x="686" y="752" width="1" height="5"/>
<rect x="813" y="752" width="1" height="5"/>
<rect x="939" y="752" width="1" height="5"/>
<rect x="1065" y="752" width="1" height="5"/>
</g>
<g filter="url(#th)">
<text transform="translate(112,119.6) scale(1,1.06)" x="13 26">50</text>
<text transform="translate(112,140.6) scale(1,1.06)" x="13 26">00</text>
<text transform="translate(125,160.6) scale(1,1.06)" x="0 13">50</text>
<text transform="translate(132,200.6) scale(1,1.06)" x="0 13 39">370</text>
<text transform="translate(258,200.6) scale(1,1.06)" x="0 13 26 39">3720</text>
<text transform="translate(384,200.6) scale(1,1.06)" x="0 13 26 39">3730</text>
<text transform="translate(511,200.6) scale(1,1.06)" x="0 13 26 39">3740</text>
<text transform="translate(328,77.8) scale(1,1.06)" x="0 17 23">Bin</text>
<text transform="translate(250,238.8) scale(1,1.06)" text-anchor="start" letter-spacing="0.175">Wavenumber [cm</text>
<text transform="translate(455.3,238.8) scale(1,1.06)" text-anchor="start">]</text>
<text transform="translate(96.7,133.3) rotate(-90) scale(1,1.06)" text-anchor="middle" letter-spacing="0.7">ADU</text>
<text transform="translate(640,125.6) scale(1,1.06)" x="13 26">50</text>
<text transform="translate(640,144.6) scale(1,1.06)" x="13 26">00</text>
<text transform="translate(653,162.6) scale(1,1.06)" x="0 13">50</text>
<text transform="translate(660,200.6) scale(1,1.06)" x="0 13 39">370</text>
<text transform="translate(787,200.6) scale(1,1.06)" x="0 13 26 39">3720</text>
<text transform="translate(913,200.6) scale(1,1.06)" x="0 13 26 39">3730</text>
<text transform="translate(1039,200.6) scale(1,1.06)" x="0 13 26 39">3740</text>
<text transform="translate(856,77.8) scale(1,1.06)" x="0 17 23 43">Bin2</text>
<text transform="translate(778,238.8) scale(1,1.06)" text-anchor="start" letter-spacing="0.175">Wavenumber [cm</text>
<text transform="translate(983.3,238.8) scale(1,1.06)" text-anchor="start">]</text>
<text transform="translate(624.7,133.3) rotate(-90) scale(1,1.06)" text-anchor="middle" letter-spacing="0.7">ADU</text>
<text transform="translate(112,322.6) scale(1,1.06)" x="13 26">50</text>
<text transform="translate(112,341.6) scale(1,1.06)" x="13 26">00</text>
<text transform="translate(125,360.6) scale(1,1.06)" x="0 13">50</text>
<text transform="translate(132,398.6) scale(1,1.06)" x="0 13 39">370</text>
<text transform="translate(258,398.6) scale(1,1.06)" x="0 13 26 39">3720</text>
<text transform="translate(384,398.6) scale(1,1.06)" x="0 13 26 39">3730</text>
<text transform="translate(511,398.6) scale(1,1.06)" x="0 13 26 39">3740</text>
<text transform="translate(328,274.8) scale(1,1.06)" x="0 17 23 43">Bin3</text>
<text transform="translate(250,436.8) scale(1,1.06)" text-anchor="start" letter-spacing="0.175">Wavenumber [cm</text>
<text transform="translate(455.3,436.8) scale(1,1.06)" text-anchor="start">]</text>
<text transform="translate(96.7,330.8) rotate(-90) scale(1,1.06)" text-anchor="middle" letter-spacing="0.7">ADU</text>
<text transform="translate(640,319.6) scale(1,1.06)" x="13 26">50</text>
<text transform="translate(640,339.6) scale(1,1.06)" x="13 26">00</text>
<text transform="translate(653,359.6) scale(1,1.06)" x="0 13">50</text>
<text transform="translate(660,398.6) scale(1,1.06)" x="0 13 39">370</text>
<text transform="translate(787,398.6) scale(1,1.06)" x="0 13 26 39">3720</text>
<text transform="translate(913,398.6) scale(1,1.06)" x="0 13 26 39">3730</text>
<text transform="translate(1039,398.6) scale(1,1.06)" x="0 13 26 39">3740</text>
<text transform="translate(856,274.8) scale(1,1.06)" x="0 17 23 43">Bin4</text>
<text transform="translate(778,436.8) scale(1,1.06)" text-anchor="start" letter-spacing="0.175">Wavenumber [cm</text>
<text transform="translate(983.3,436.8) scale(1,1.06)" text-anchor="start">]</text>
<text transform="translate(624.7,330.8) rotate(-90) scale(1,1.06)" text-anchor="middle" letter-spacing="0.7">ADU</text>
<text transform="translate(112,513.6) scale(1,1.06)" x="13 26">50</text>
<text transform="translate(112,534.6) scale(1,1.06)" x="13 26">00</text>
<text transform="translate(125,555.6) scale(1,1.06)" x="0 13">50</text>
<text transform="translate(132,595.6) scale(1,1.06)" x="0 13 39">370</text>
<text transform="translate(258,595.6) scale(1,1.06)" x="0 13 26 39">3720</text>
<text transform="translate(384,595.6) scale(1,1.06)" x="0 13 26 39">3730</text>
<text transform="translate(511,595.6) scale(1,1.06)" x="0 13 26 39">3740</text>
<text transform="translate(328,472.8) scale(1,1.06)" x="0 17 23 43">Bin5</text>
<text transform="translate(250,633.8) scale(1,1.06)" text-anchor="start" letter-spacing="0.175">Wavenumber [cm</text>
<text transform="translate(455.3,633.8) scale(1,1.06)" text-anchor="start">]</text>
<text transform="translate(96.7,528.3) rotate(-90) scale(1,1.06)" text-anchor="middle" letter-spacing="0.7">ADU</text>
<text transform="translate(640,508.6) scale(1,1.06)" x="13 26">50</text>
<text transform="translate(640,531.6) scale(1,1.06)" x="13 26">00</text>
<text transform="translate(653,553.6) scale(1,1.06)" x="0 13">50</text>
<text transform="translate(660,595.6) scale(1,1.06)" x="0 13 39">370</text>
<text transform="translate(787,595.6) scale(1,1.06)" x="0 13 26 39">3720</text>
<text transform="translate(913,595.6) scale(1,1.06)" x="0 13 26 39">3730</text>
<text transform="translate(1039,595.6) scale(1,1.06)" x="0 13 26 39">3740</text>
<text transform="translate(856,472.8) scale(1,1.06)" x="0 17 23 43">Bin6</text>
<text transform="translate(778,633.8) scale(1,1.06)" text-anchor="start" letter-spacing="0.175">Wavenumber [cm</text>
<text transform="translate(983.3,633.8) scale(1,1.06)" text-anchor="start">]</text>
<text transform="translate(624.7,528.3) rotate(-90) scale(1,1.06)" text-anchor="middle" letter-spacing="0.7">ADU</text>
<text transform="translate(112,704.6) scale(1,1.06)" x="13 26">40</text>
<text transform="translate(112,714.6) scale(1,1.06)" x="13 26">20</text>
<text transform="translate(112,724.6) scale(1,1.06)" x="13 26">00</text>
<text transform="translate(125,734.6) scale(1,1.06)" x="0 13">80</text>
<text transform="translate(125,743.6) scale(1,1.06)" x="0 13">60</text>
<text transform="translate(125,753.6) scale(1,1.06)" x="0 13">40</text>
<text transform="translate(125,763.6) scale(1,1.06)" x="0 13">20</text>
<text transform="translate(132,792.6) scale(1,1.06)" x="0 13 39">370</text>
<text transform="translate(258,792.6) scale(1,1.06)" x="0 13 26 39">3720</text>
<text transform="translate(384,792.6) scale(1,1.06)" x="0 13 26 39">3730</text>
<text transform="translate(511,792.6) scale(1,1.06)" x="0 13 26 39">3740</text>
<text transform="translate(328,669.8) scale(1,1.06)" x="0 17 23 43">Bin7</text>
<text transform="translate(250,830.8) scale(1,1.06)" text-anchor="start" letter-spacing="0.175">Wavenumber [cm</text>
<text transform="translate(455.3,830.8) scale(1,1.06)" text-anchor="start">]</text>
<text transform="translate(96.7,725.3) rotate(-90) scale(1,1.06)" text-anchor="middle" letter-spacing="0.7">ADU</text>
<text transform="translate(640,708.6) scale(1,1.06)" x="13 26">20</text>
<text transform="translate(640,719.6) scale(1,1.06)" x="13 26">00</text>
<text transform="translate(653,729.6) scale(1,1.06)" x="0 13">80</text>
<text transform="translate(653,740.6) scale(1,1.06)" x="0 13">60</text>
<text transform="translate(653,751.6) scale(1,1.06)" x="0 13">40</text>
<text transform="translate(653,762.6) scale(1,1.06)" x="0 13">20</text>
<text transform="translate(660,792.6) scale(1,1.06)" x="0 13 39">370</text>
<text transform="translate(787,792.6) scale(1,1.06)" x="0 13 26 39">3720</text>
<text transform="translate(913,792.6) scale(1,1.06)" x="0 13 26 39">3730</text>
<text transform="translate(1039,792.6) scale(1,1.06)" x="0 13 26 39">3740</text>
<text transform="translate(856,669.8) scale(1,1.06)" x="0 17 23 43">Bin8</text>
<text transform="translate(778,830.8) scale(1,1.06)" text-anchor="start" letter-spacing="0.175">Wavenumber [cm</text>
<text transform="translate(983.3,830.8) scale(1,1.06)" text-anchor="start">]</text>
<text transform="translate(624.7,725.3) rotate(-90) scale(1,1.06)" text-anchor="middle" letter-spacing="0.7">ADU</text>
</g>
<g shape-rendering="crispEdges" fill="#000">
<path d="M118 102h2v18h-2zM114 105h4v2h-4zM117 104h1v1h-1z"/>
<path d="M118 123h2v18h-2zM114 126h4v2h-4zM117 125h1v1h-1z"/>
<path d="M164 183h2v18h-2zM160 186h4v2h-4zM163 185h1v1h-1z"/>
<path d="M377 60h2v18h-2zM373 63h4v2h-4zM376 62h1v1h-1z"/>
<path d="M439 221h5v1h-5zM450 214h2v13h-2zM447 215h3v2h-3z"/>
<path d="M646 108h2v18h-2zM642 111h4v2h-4zM645 110h1v1h-1z"/>
<path d="M646 127h2v18h-2zM642 130h4v2h-4zM645 129h1v1h-1z"/>
<path d="M692 183h2v18h-2zM688 186h4v2h-4zM691 185h1v1h-1z"/>
<path d="M967 221h5v1h-5zM978 214h2v13h-2zM975 215h3v2h-3z"/>
<path d="M118 305h2v18h-2zM114 308h4v2h-4zM117 307h1v1h-1z"/>
<path d="M118 324h2v18h-2zM114 327h4v2h-4zM117 326h1v1h-1z"/>
<path d="M164 381h2v18h-2zM160 384h4v2h-4zM163 383h1v1h-1z"/>
<path d="M439 419h5v1h-5zM450 412h2v13h-2zM447 413h3v2h-3z"/>
<path d="M646 302h2v18h-2zM642 305h4v2h-4zM645 304h1v1h-1z"/>
<path d="M646 322h2v18h-2zM642 325h4v2h-4zM645 324h1v1h-1z"/>
<path d="M692 381h2v18h-2zM688 384h4v2h-4zM691 383h1v1h-1z"/>
<path d="M967 419h5v1h-5zM978 412h2v13h-2zM975 413h3v2h-3z"/>
<path d="M118 496h2v18h-2zM114 499h4v2h-4zM117 498h1v1h-1z"/>
<path d="M118 517h2v18h-2zM114 520h4v2h-4zM117 519h1v1h-1z"/>
<path d="M164 578h2v18h-2zM160 581h4v2h-4zM163 580h1v1h-1z"/>
<path d="M439 616h5v1h-5zM450 609h2v13h-2zM447 610h3v2h-3z"/>
<path d="M646 491h2v18h-2zM642 494h4v2h-4zM645 493h1v1h-1z"/>
<path d="M646 514h2v18h-2zM642 517h4v2h-4zM645 516h1v1h-1z"/>
<path d="M692 578h2v18h-2zM688 581h4v2h-4zM691 580h1v1h-1z"/>
<path d="M967 616h5v1h-5zM978 609h2v13h-2zM975 610h3v2h-3z"/>
<path d="M118 687h2v18h-2zM114 690h4v2h-4zM117 689h1v1h-1z"/>
<path d="M118 697h2v18h-2zM114 700h4v2h-4zM117 699h1v1h-1z"/>
<path d="M118 707h2v18h-2zM114 710h4v2h-4zM117 709h1v1h-1z"/>
<path d="M164 775h2v18h-2zM160 778h4v2h-4zM163 777h1v1h-1z"/>
<path d="M439 813h5v1h-5zM450 806h2v13h-2zM447 807h3v2h-3z"/>
<path d="M646 691h2v18h-2zM642 694h4v2h-4zM645 693h1v1h-1z"/>
<path d="M646 702h2v18h-2zM642 705h4v2h-4zM645 704h1v1h-1z"/>
<path d="M692 775h2v18h-2zM688 778h4v2h-4zM691 777h1v1h-1z"/>
<path d="M967 813h5v1h-5zM978 806h2v13h-2zM975 807h3v2h-3z"/>
</g>
</svg></body></html>
